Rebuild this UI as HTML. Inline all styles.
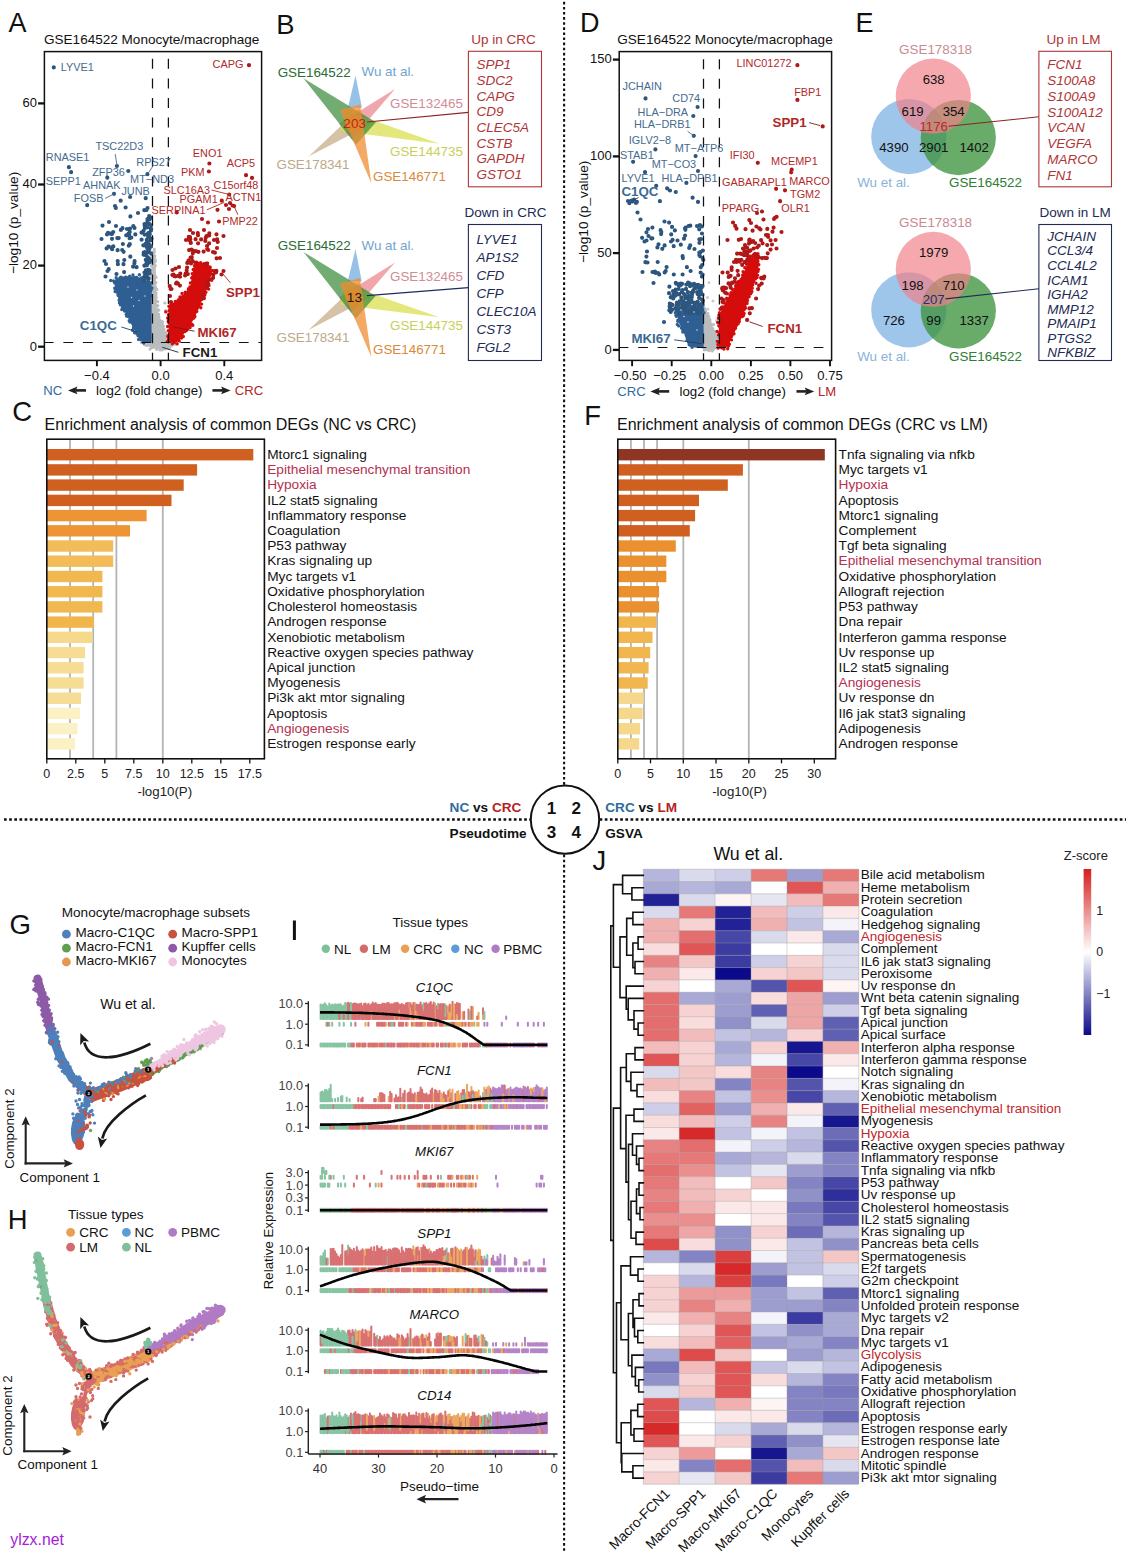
<!DOCTYPE html>
<html><head><meta charset="utf-8"><title>Figure</title>
<style>
html,body{margin:0;padding:0;background:#fff;}
body{width:1130px;height:1555px;overflow:hidden;font-family:"Liberation Sans",sans-serif;}
svg{display:block;font-family:"Liberation Sans",sans-serif;}
</style></head><body>
<svg width="1130" height="1555" viewBox="0 0 1130 1555">
<rect width="1130" height="1555" fill="#ffffff"/>
<text x="8.5" y="31.5" font-size="27" fill="#111">A</text>
<text x="44" y="43.6" font-size="13.55" fill="#111">GSE164522 Monocyte/macrophage</text>
<clipPath id="cA"><rect x="44.4" y="51.6" width="217.2" height="308.8"/></clipPath>
<g clip-path="url(#cA)">
<polygon points="152.2,252 154.5,250 155.8,275 156.3,300 159.6,319.4 164.5,329.3 168.6,342.3 177,342.6 170,347.5 160,349.6 150,347.5 141.5,342.6 151.2,342.3" fill="#b9bdbd"/>
<path d="M152.2 252.2h0M154.3 249.4h0M154.3 251.8h0M154.8 255.9h0M154.5 257.1h0M155.4 260.2h0M155.2 261.8h0M155.3 265.5h0M154.5 267.2h0M154.2 269.1h0M154.4 272.3h0M154.9 275.2h0M156 277.4h0M154.1 279.6h0M155.9 282.6h0M154.9 284.7h0M155.4 286.9h0M156.8 289.4h0M156.1 293.1h0M155.8 294.9h0M156.3 297.5h0M155.4 300.1h0M157.7 301.7h0M157.8 305.6h0M157.3 309.7h0M158.7 310.2h0M158.7 314.3h0M159 317.1h0M159.6 319.9h0M161.8 321.4h0M162.2 324h0M163.4 326h0M164.1 329.2h0M165.9 332.7h0M165.2 333.9h0M167.4 335.7h0M167.5 339.6h0M169.5 342.8h0M171.2 342.1h0M174 343.6h0M176.7 342.4h0M174.9 344.1h0M172.2 345.1h0M170 347.2h0M168.3 348.5h0M165 349h0M162.3 349.8h0M160 350h0M156.6 349.3h0M153.8 347.1h0M152.3 347.4h0M150.1 349.1h0M146.6 345.4h0M144.5 344.6h0M141.4 342.5h0M145.2 342.9h0M147.2 342.3h0M151.2 341.6h0M151.4 339.2h0M151.9 337.4h0M151.3 334.4h0M151.2 330.9h0M150.5 330h0M149.9 327.8h0M150.2 325.3h0M150.8 322.8h0M151.5 318.6h0M152.4 318.2h0M151.5 314.5h0M151.4 311.5h0M152.3 309.3h0M151.6 306.6h0M151.2 303.8h0M152.5 302.1h0M152.3 299.7h0M151.2 296.9h0M151.3 294.6h0M151.5 291.9h0M150.8 289.1h0M153 286.6h0M151.1 284.8h0M152.9 281.1h0M151.7 279.1h0M150.7 277.6h0M151.9 274.6h0M151.5 272.4h0M151.6 269.5h0M151.3 266.2h0M153 264.2h0M152.3 262h0M151.8 259.2h0M152.6 256.8h0M152.1 254.5h0" stroke="#b9bdbd" stroke-width="3.2" stroke-linecap="round" fill="none"/>
<path d="M165.5 310.5h0M164.8 303h0M162.5 322h0" stroke="#b9bdbd" stroke-width="3.2" stroke-linecap="round" fill="none"/>
<polygon points="151.6,342.3 142.5,342.3 133.8,329.3 126.4,314.4 119.5,302 115.6,290.9 114,281 119,277.5 135,276 145,279.5 151.6,283" fill="#2f5f92"/>
<path d="M143.7 343h0M141.6 339.9h0M138.6 339.5h0M139.7 336.6h0M138.1 335.7h0M137.1 333.9h0M134.6 332.7h0M132.6 330.2h0M133.4 328.3h0M133.8 327.1h0M129.9 322h0M130.9 320.8h0M129.2 320.8h0M126.6 316h0M127.6 316.3h0M126.2 314.4h0M124.6 311.1h0M124.3 309.9h0M121.8 309.6h0M122.4 307.7h0M120.5 304.9h0M119.5 302.9h0M119.7 301.2h0M119.1 300.1h0M120 296.2h0M118 295.3h0M116.4 291.7h0M115.1 291.6h0M115.2 289h0M114.7 288.1h0M114.6 282.8h0M113.6 281h0M110.7 280.5h0M117 279.9h0M116.2 277.7h0M120.1 277.7h0M121 277.3h0M123 277.9h0M125.6 277.2h0M126 277.3h0M128.3 277.7h0M129.7 276.2h0M133 274.9h0M136.7 277.5h0M136.5 277.5h0M139.4 274.8h0M141.3 278h0M143.1 277.7h0M144.7 279.3h0M148.4 281h0M149.4 283.4h0M151 282.6h0M149.5 286.6h0M151.9 288h0M151.3 289.2h0M150.6 290.9h0M149.8 293.3h0M151.2 295.8h0M149.3 296.7h0M148.5 301h0M149.3 301.5h0M148.1 302.3h0M148.1 306.4h0M147.4 307.3h0M147.3 309.7h0M145.6 311.4h0M146 314.6h0M145.8 316.3h0M147.8 317.4h0M145.4 320h0M145.6 320.9h0M145.8 325.9h0M144.8 325.7h0M143.7 328.3h0M143.1 328.9h0M145.3 331.2h0M144.8 335.6h0M143.7 336.7h0M145.1 338h0M142.2 338.9h0" stroke="#2f5f92" stroke-width="3.4" stroke-linecap="round" fill="none"/>
<path d="M147.3 223.2h0M144.5 272.7h0M147.1 227.3h0M148.7 232.8h0M147.5 234h0M147.4 257.1h0M147.6 241.5h0M149.7 273.5h0M144.5 224.1h0M144 280.6h0M151 230.5h0M151.2 228.9h0M147.3 248.3h0M150.8 217.7h0M145.7 255.2h0M143.6 230.8h0M147 274h0M149.5 270.5h0M149.5 262.4h0M150.2 260.7h0M149.3 235.2h0M144.4 265.7h0M144.4 276.6h0M148.1 237.1h0M151 225.4h0M147.4 221.1h0M151.2 253.6h0M149.8 233.9h0M149.8 262.1h0M148.5 278.7h0M146.7 242.8h0M148.9 270.9h0M145.8 259.9h0M144.8 252h0M149.5 219.4h0M149.2 216h0M151.1 246.4h0M146.5 263.3h0M147.4 264h0M143.7 252.7h0M147.7 277.5h0M143.3 245.3h0M148.4 251.9h0M143.6 254.7h0M144.9 228.1h0M150.5 228.3h0M146.9 265.3h0M149 252.1h0M149.9 246.2h0M148.3 269.9h0M148.8 258h0M146.5 252.4h0M146.4 264.9h0M146.2 246.3h0M149.4 248.7h0M145.9 270.4h0M146.2 271.6h0M149.7 245h0M149.1 217.3h0M146.3 272.6h0M147.9 252.4h0M148.7 260.4h0M148 243.2h0M144.6 234.6h0M145.5 243.9h0M151.5 238.6h0M146.8 239.9h0M147.9 278.5h0M150.6 240.3h0M145.3 274.3h0M124.3 260h0M108.7 269.2h0M117.6 250.2h0M113.3 246.4h0M136.6 267.2h0M123.5 264.2h0M122.9 244h0M126.2 235.3h0M117.7 261h0M134.5 227.9h0M133.1 266.7h0M122.5 228.2h0M131.3 237.6h0M129.8 244.2h0M129.6 238.2h0M123.6 251.8h0M129.3 235.4h0M141.6 239.7h0M117.3 238.1h0M108.5 246.6h0M134.6 261.2h0M113.2 232h0M117.9 264.2h0M124.1 272.1h0M130.3 256.7h0M134.4 263.3h0M118.7 238.1h0M122.2 250h0M111.2 247.5h0M129.7 231.9h0M111.1 233.9h0M116.5 274h0M107 234.4h0M112.1 249.2h0M106.6 248.4h0M112 238.8h0M135.3 234.4h0M128.8 245.7h0M120.9 229.9h0M108 232.9h0M144.7 225.7h0M102.5 225.6h0M130 228.6h0M110.7 233.7h0M144.3 210.2h0M115.8 207.9h0M141.5 232.6h0M149.5 224.1h0M133.3 226h0M128.5 233.7h0M130.4 216.4h0M125.6 207.5h0M101.5 239h0M104.5 261h0M106 264h0M107.5 271h0M105.5 276.5h0M109 222h0M112 234h0M116 226h0M127 229h0M138 213h0M146.5 210h0M147.5 219h0M53.8 67.4h0M116.9 166h0M68.9 167.2h0M71.1 172.2h0M128.3 171h0M147.4 174.2h0M107.3 177.7h0M130.1 197h0M145.7 198.2h0M114 193.8h0M120.7 200.7h0M87.2 205.2h0M115 206h0M147.5 208h0" stroke="#2d567f" stroke-width="4.2" stroke-linecap="round" fill="none"/>
<path d="M131.5 297.5h0M133.5 306h0M145 296h0M128 287h0M139 300.5h0M137 290h0" stroke="#cfe0ee" stroke-width="1.4" stroke-linecap="round" fill="none"/>
<polygon points="168.6,342.3 168.6,306 177,300 186.7,291.5 192.5,282 193,268 199,262.5 208.5,263.5 212,272.3 208.5,284.7 201.2,302 195,316.9 187.6,329.3 177,342.3" fill="#d40c0c"/>
<path d="M167.3 341.6h0M169 340.7h0M168.7 339.3h0M167.8 336.2h0M169.3 334.8h0M169.7 332.6h0M168.3 330.6h0M167.6 326.5h0M169.2 326.1h0M168.9 322.5h0M168.2 321.5h0M167.7 317.9h0M168.3 319h0M169 315.5h0M168.6 314.8h0M165.8 311.9h0M169.1 310.7h0M170.3 309.2h0M168.9 306.3h0M171.1 304.3h0M171.9 304.5h0M175.6 302.2h0M175.3 301.4h0M178.3 300h0M180.1 297.6h0M180 297h0M182.6 296.8h0M182 293.4h0M185.4 292.3h0M185.2 292.5h0M188.4 290.1h0M188.5 288.7h0M189.9 286.9h0M190.4 283h0M192.7 281.3h0M193.2 280.3h0M191.7 278.1h0M192.4 276.9h0M192.2 273.6h0M194.1 274.2h0M194.9 270.1h0M193.2 269.5h0M194.4 265.6h0M196.1 265.7h0M196.7 262.2h0M197.6 263.2h0M200.6 262.6h0M204 263.6h0M205.8 263.7h0M207.6 263.1h0M208.4 266.8h0M210.2 267.2h0M210.8 269.9h0M212.7 270.7h0M210.4 274h0M213.4 277.4h0M210.1 279.2h0M211.7 280.3h0M208.7 283.8h0M209 285.4h0M207.2 288.5h0M208.6 289.1h0M206.8 288.4h0M205.9 292.2h0M204.9 295h0M203.3 294.5h0M203.2 297.4h0M201.7 299.5h0M200.9 299.7h0M201.6 304.1h0M200.8 307.7h0M198.9 305.8h0M197.2 308.2h0M196.8 311.4h0M194.5 313.5h0M194.3 315.3h0M194.9 316.6h0M193.9 318.1h0M192.3 318.8h0M191.8 324.1h0M192.8 325.3h0M190.4 325.1h0M190.1 327.5h0M187.5 329h0M186.4 330.5h0M184.9 331.5h0M183.3 336.5h0M182.2 335.6h0M181.5 338.1h0M178.5 338.8h0M179.2 340.9h0M177.1 343.9h0M174.2 342.4h0M172.3 343.8h0M168.7 341.6h0" stroke="#d40c0c" stroke-width="3.4" stroke-linecap="round" fill="none"/>
<path d="M191.5 249.5h0M191 263.4h0M170.6 289h0M180 276.7h0M186.7 270.6h0M192.9 250.5h0M188.5 262.1h0M187.8 274.1h0M192.8 253.2h0M179.9 285.6h0M191.7 257.1h0M191.6 258h0M178 283.7h0M180.3 273.6h0M178.3 275.9h0M172.4 275h0M187.1 267.5h0M185.1 275.5h0M174.5 276.2h0M175.7 276.3h0M187.3 262.9h0M176.8 282.6h0M173.5 274.6h0M185.7 273.6h0M176.1 283.4h0M169.8 286.2h0M205.3 240.9h0M198.4 251.9h0M205.7 237.8h0M209.2 235.5h0M217.1 239.3h0M195.6 239.2h0M217.7 241.9h0M206.2 263.7h0M216.5 234.3h0M203.6 251.6h0M209.1 243.4h0M197.8 233.1h0M189.1 250.1h0M190.3 239.3h0M198 235.2h0M188.9 261.7h0M201.1 239.4h0M209.3 233.3h0M195.4 262.8h0M214.9 252.7h0M190.8 242.9h0M188.8 239.8h0M188.8 236.9h0M207 236.1h0M192.7 261h0M198.1 243.3h0M190.6 257.7h0M208.3 250h0M206.5 236.1h0M195.8 251.1h0M216.6 258.3h0M207.2 249.1h0M188.5 260.6h0M190 237h0M212.9 278h0M214.7 271h0M202.5 294.5h0M216 272.4h0M203.9 298.2h0M207.1 286.8h0M209.1 279.8h0M207.9 284.1h0M213.2 274.7h0M216.4 270.9h0M171 302h0M170 296h0M171.5 289h0M172.5 270h0M175.5 268.5h0M179 267h0M176.8 212.5h0M202 219h0M208 222.5h0M219 221.5h0M223.5 236h0M204 230h0M193 233h0M186 240h0M190 230h0M214 240h0M217 248h0M220 258h0M223.5 271h0M221.5 274.5h0M213 252h0M207 246h0M249 65.2h0M209.4 163.5h0M208.9 171.5h0M246 175.2h0M252 177.9h0M229.2 194.5h0M221.8 200.7h0M226 205h0M230 203h0M232.5 205.5h0M234.1 206.1h0M217.5 209.8h0M229 209h0" stroke="#b01818" stroke-width="4.2" stroke-linecap="round" fill="none"/>
</g>
<line x1="152.5" y1="51.6" x2="152.5" y2="360.4" stroke="#111" stroke-width="1.25" stroke-dasharray="10 9.6" stroke-dashoffset="-7.2"/>
<line x1="168.4" y1="51.6" x2="168.4" y2="360.4" stroke="#111" stroke-width="1.25" stroke-dasharray="10 9.6" stroke-dashoffset="-7.2"/>
<line x1="44.4" y1="342.5" x2="261.6" y2="342.5" stroke="#111" stroke-width="1.2" stroke-dasharray="9.7 9.8" stroke-dashoffset="0.5"/>
<rect x="44.4" y="51.6" width="217.2" height="308.8" fill="none" stroke="#111" stroke-width="1.5"/>
<line x1="38.1" y1="346.7" x2="44.4" y2="346.7" stroke="#111" stroke-width="2.3"/>
<text x="37" y="350.5" font-size="13.0" fill="#111" text-anchor="end">0</text>
<line x1="38.1" y1="265.6" x2="44.4" y2="265.6" stroke="#111" stroke-width="2.3"/>
<text x="37" y="269.4" font-size="13.0" fill="#111" text-anchor="end">20</text>
<line x1="38.1" y1="184.5" x2="44.4" y2="184.5" stroke="#111" stroke-width="2.3"/>
<text x="37" y="188.3" font-size="13.0" fill="#111" text-anchor="end">40</text>
<line x1="38.1" y1="103.4" x2="44.4" y2="103.4" stroke="#111" stroke-width="2.3"/>
<text x="37" y="107.2" font-size="13.0" fill="#111" text-anchor="end">60</text>
<line x1="96.9" y1="360.4" x2="96.9" y2="366.2" stroke="#111" stroke-width="1.9"/>
<text x="96.9" y="380" font-size="13.0" fill="#111" text-anchor="middle">−0.4</text>
<line x1="160.6" y1="360.4" x2="160.6" y2="366.2" stroke="#111" stroke-width="1.9"/>
<text x="160.6" y="380" font-size="13.0" fill="#111" text-anchor="middle">0.0</text>
<line x1="224.3" y1="360.4" x2="224.3" y2="366.2" stroke="#111" stroke-width="1.9"/>
<text x="224.3" y="380" font-size="13.0" fill="#111" text-anchor="middle">0.4</text>
<text x="17.9" y="222.9" font-size="13.7" fill="#111" text-anchor="middle" transform="rotate(-90 17.9 222.9)">−log10 (p_value)</text>
<text x="149.3" y="395.3" font-size="13.3" fill="#111" text-anchor="middle">log2 (fold change)</text>
<text x="43.2" y="395.3" font-size="13.1" fill="#2f6b9e">NC</text>
<text x="234.8" y="395.3" font-size="13.1" fill="#b32424">CRC</text>
<line x1="86" y1="390.4" x2="75.4" y2="390.4" stroke="#222" stroke-width="2.6"/>
<polygon points="68,390.4 77.5,386.5 75.7,390.4 77.5,394.3" fill="#222"/>
<line x1="212.4" y1="390.4" x2="223.2" y2="390.4" stroke="#222" stroke-width="2.6"/>
<polygon points="230.6,390.4 221.1,394.3 222.9,390.4 221.1,386.5" fill="#222"/>
<text x="60.7" y="71.4" font-size="10.9" fill="#456b8e">LYVE1</text>
<text x="95.4" y="149.9" font-size="10.9" fill="#456b8e">TSC22D3</text>
<text x="45.8" y="161" font-size="10.9" fill="#456b8e">RNASE1</text>
<text x="45.8" y="185.3" font-size="10.9" fill="#456b8e">SEPP1</text>
<text x="92.2" y="175.9" font-size="10.9" fill="#456b8e">ZFP36</text>
<text x="136.3" y="165.5" font-size="10.9" fill="#456b8e">RPS27</text>
<text x="130.1" y="182.6" font-size="10.9" fill="#456b8e">MT−ND3</text>
<text x="83" y="188.8" font-size="10.9" fill="#456b8e">AHNAK</text>
<text x="121.4" y="194.5" font-size="10.9" fill="#456b8e">JUNB</text>
<text x="73.8" y="201.9" font-size="10.9" fill="#456b8e">FOSB</text>
<text x="212.6" y="68.1" font-size="10.9" fill="#b12a2a">CAPG</text>
<text x="192.8" y="156.6" font-size="10.9" fill="#b12a2a">ENO1</text>
<text x="180.9" y="176.4" font-size="10.9" fill="#b12a2a">PKM</text>
<text x="226.7" y="167.2" font-size="10.9" fill="#b12a2a">ACP5</text>
<text x="213.6" y="188.8" font-size="10.9" fill="#b12a2a">C15orf48</text>
<text x="163.5" y="193.8" font-size="10.9" fill="#b12a2a">SLC16A3</text>
<text x="179.6" y="203.2" font-size="10.9" fill="#b12a2a">PGAM1</text>
<text x="225.5" y="201.2" font-size="10.9" fill="#b12a2a">ACTN1</text>
<text x="151.6" y="214.3" font-size="10.9" fill="#b12a2a">SERPINA1</text>
<text x="222.2" y="224.7" font-size="10.9" fill="#b12a2a">PMP22</text>
<line x1="115.2" y1="154.1" x2="116.9" y2="164.8" stroke="#456b8e" stroke-width="0.9"/>
<line x1="153" y1="166" x2="147.4" y2="174.2" stroke="#456b8e" stroke-width="0.9"/>
<line x1="105" y1="198.5" x2="114" y2="193.8" stroke="#456b8e" stroke-width="0.9"/>
<line x1="211.5" y1="190" x2="229.2" y2="194.5" stroke="#b12a2a" stroke-width="0.9"/>
<line x1="206.9" y1="209.8" x2="224.2" y2="202.4" stroke="#b12a2a" stroke-width="0.9"/>
<line x1="237.9" y1="214.8" x2="234.1" y2="206.1" stroke="#b12a2a" stroke-width="0.9"/>
<line x1="230.4" y1="282.9" x2="222.2" y2="273" stroke="#b12a2a" stroke-width="0.9"/>
<line x1="194.5" y1="331.2" x2="173.4" y2="327" stroke="#7a1515" stroke-width="0.9"/>
<line x1="121.4" y1="327" x2="137.5" y2="332" stroke="#1d3f63" stroke-width="0.9"/>
<line x1="178.4" y1="352.3" x2="162.3" y2="347.3" stroke="#222" stroke-width="0.9"/>
<text x="226" y="297" font-size="13.3" fill="#b22626" font-weight="bold">SPP1</text>
<text x="197.5" y="337.4" font-size="13.3" fill="#b22626" font-weight="bold">MKI67</text>
<text x="79.8" y="330" font-size="13.3" fill="#3a6a95" font-weight="bold">C1QC</text>
<text x="182.6" y="356.7" font-size="13.3" fill="#1a1a1a" font-weight="bold">FCN1</text>
<text x="276.3" y="33.6" font-size="27.4" fill="#111">B</text>
<polygon points="308.5,156.5 359,108.9 370,124.4" fill="#c8ae88" opacity="0.75"/>
<polygon points="355.5,75.5 362,107.7 348,107.5" fill="#74aee0" opacity="0.75"/>
<polygon points="395,89 352.1,139 339.1,123.8" fill="#ea8088" opacity="0.7"/>
<polygon points="439.4,143.7 340.6,131 345.4,110.6" fill="#dbe050" opacity="0.75"/>
<polygon points="303.4,78.3 375.9,122.3 356,144.8" fill="#3c8c3c" opacity="0.72"/>
<polygon points="371.4,183.5 340,110 360.2,104.4" fill="#f08c32" opacity="0.75"/>
<circle cx="354.7" cy="123.6" r="9" fill="#e8842a" opacity="0.45"/>
<line x1="367.2" y1="122" x2="468.4" y2="112.4" stroke="#8c2323" stroke-width="1.1"/>
<text x="354.7" y="128.4" font-size="13.6" fill="#c8201c" text-anchor="middle">203</text>
<text x="277.7" y="76.5" font-size="13.4" fill="#2b6b35">GSE164522</text>
<text x="361.5" y="76.3" font-size="13.4" fill="#6fa5cf">Wu at al.</text>
<text x="390" y="107.5" font-size="13.4" fill="#cf8d96">GSE132465</text>
<text x="390" y="156" font-size="13.4" fill="#c9cf5a">GSE144735</text>
<text x="276.5" y="168.5" font-size="13.4" fill="#bba98a">GSE178341</text>
<text x="373" y="180.5" font-size="13.4" fill="#d98a3c">GSE146771</text>
<rect x="468.4" y="51.3" width="73.1" height="135.5" fill="none" stroke="#b03535" stroke-width="1.1"/>
<text x="503.5" y="43.6" font-size="13.5" fill="#b03535" text-anchor="middle">Up in CRC</text>
<text x="476.6" y="69.4" font-size="13.5" fill="#b03535" font-style="italic">SPP1</text>
<text x="476.6" y="85.1" font-size="13.5" fill="#b03535" font-style="italic">SDC2</text>
<text x="476.6" y="100.7" font-size="13.5" fill="#b03535" font-style="italic">CAPG</text>
<text x="476.6" y="116.4" font-size="13.5" fill="#b03535" font-style="italic">CD9</text>
<text x="476.6" y="132" font-size="13.5" fill="#b03535" font-style="italic">CLEC5A</text>
<text x="476.6" y="147.7" font-size="13.5" fill="#b03535" font-style="italic">CSTB</text>
<text x="476.6" y="163.3" font-size="13.5" fill="#b03535" font-style="italic">GAPDH</text>
<text x="476.6" y="178.9" font-size="13.5" fill="#b03535" font-style="italic">GSTO1</text>
<polygon points="308.5,330.1 358.6,282.5 369.7,297.9" fill="#c8ae88" opacity="0.75"/>
<polygon points="355.5,249.1 361.8,281.4 347.8,281" fill="#74aee0" opacity="0.75"/>
<polygon points="395,262.6 351.8,312.6 338.8,297.4" fill="#ea8088" opacity="0.7"/>
<polygon points="439.4,317.3 340.3,304.7 345.1,284.2" fill="#dbe050" opacity="0.75"/>
<polygon points="303.4,251.9 375.6,295.9 355.7,318.4" fill="#3c8c3c" opacity="0.72"/>
<polygon points="371.4,357.1 339.7,283.7 359.9,278" fill="#f08c32" opacity="0.75"/>
<circle cx="354.4" cy="297.2" r="9" fill="#e8842a" opacity="0.45"/>
<line x1="366.9" y1="295.6" x2="468.4" y2="287.6" stroke="#1d2a5e" stroke-width="1.1"/>
<text x="354.4" y="302" font-size="13.6" fill="#1a1a1a" text-anchor="middle">13</text>
<text x="277.7" y="250.1" font-size="13.4" fill="#2b6b35">GSE164522</text>
<text x="361.5" y="249.9" font-size="13.4" fill="#6fa5cf">Wu at al.</text>
<text x="390" y="281.1" font-size="13.4" fill="#cf8d96">GSE132465</text>
<text x="390" y="329.6" font-size="13.4" fill="#c9cf5a">GSE144735</text>
<text x="276.5" y="342.1" font-size="13.4" fill="#bba98a">GSE178341</text>
<text x="373" y="354.1" font-size="13.4" fill="#d98a3c">GSE146771</text>
<rect x="468.4" y="224.5" width="73.1" height="136" fill="none" stroke="#222a55" stroke-width="1.1"/>
<text x="505.5" y="216.8" font-size="13.5" fill="#222a55" text-anchor="middle">Down in CRC</text>
<text x="476.6" y="243.9" font-size="13.5" fill="#222a55" font-style="italic">LYVE1</text>
<text x="476.6" y="262" font-size="13.5" fill="#222a55" font-style="italic">AP1S2</text>
<text x="476.6" y="280" font-size="13.5" fill="#222a55" font-style="italic">CFD</text>
<text x="476.6" y="298.1" font-size="13.5" fill="#222a55" font-style="italic">CFP</text>
<text x="476.6" y="316.2" font-size="13.5" fill="#222a55" font-style="italic">CLEC10A</text>
<text x="476.6" y="334.2" font-size="13.5" fill="#222a55" font-style="italic">CST3</text>
<text x="476.6" y="352.3" font-size="13.5" fill="#222a55" font-style="italic">FGL2</text>
<text x="580" y="32" font-size="27" fill="#111">D</text>
<text x="617.3" y="43.6" font-size="13.55" fill="#111">GSE164522 Monocyte/macrophage</text>
<clipPath id="cD"><rect x="619.2" y="51.6" width="212.4" height="308.8"/></clipPath>
<g clip-path="url(#cD)">
<polygon points="703.9,347.6 703.9,306.5 709.6,318 715.3,333.2 719,347.6 712,350.5 704,349.5" fill="#b9bdbd"/>
<path d="M703.5 347.8h0M704.3 345.1h0M704.2 342.1h0M702.6 340.4h0M704.3 337.4h0M703.9 335.4h0M703.6 331.8h0M703.8 330.3h0M703.1 327.8h0M703.5 323.8h0M704.7 321.9h0M703.1 319.1h0M704.5 317.5h0M703.6 314.5h0M704.3 311.3h0M704.1 309h0M703.6 306.2h0M705.1 308.8h0M705.8 310.8h0M708 313.5h0M709 316.4h0M710 319.4h0M710.1 321h0M711.3 324.2h0M713.5 324.4h0M712.8 328.5h0M714.8 331.1h0M715.3 333.5h0M716.4 336h0M717.4 337.6h0M717.9 341.2h0M718.8 344.6h0M718.5 347.8h0M716.1 348h0M713.4 349.5h0M712.3 351.1h0M709.2 350.8h0M706.7 349.8h0M704.3 350.1h0" stroke="#b9bdbd" stroke-width="3.0" stroke-linecap="round" fill="none"/>
<path d="M707.5 297.5h0M708 309h0M716.5 320.5h0M713 301h0M709 282.5h0" stroke="#c9cccc" stroke-width="3.0" stroke-linecap="round" fill="none"/>
<polygon points="703.6,347.4 692.3,347.4 684.5,334.5 678.5,322 676.5,312 680,306.5 689,303 697,305 703.6,310" fill="#2f5f92"/>
<path d="M692 347.2h0M691 345.6h0M689.2 344.7h0M688.6 342.3h0M687 340.4h0M687.1 337.8h0M687.6 336.7h0M686.3 335.5h0M682.8 332h0M682.9 330.4h0M681.5 328h0M678.7 325.9h0M677.3 324.5h0M677.8 321.3h0M677.9 320.3h0M676.3 316.3h0M676.2 314h0M675.9 315.6h0M675.4 312.7h0M676.3 310.5h0M678.5 308.3h0M680.6 308.3h0M682.4 305.7h0M683.5 305.3h0M686.5 304.7h0M689 304.7h0M689 303.2h0M693.9 303.6h0M694.2 304.2h0M695.6 305.1h0M701.1 307.4h0M699.2 306.6h0M701.5 309.8h0M702.8 309.3h0M703.9 312.8h0M702 312.8h0M700.3 315.2h0M699 318.6h0M700 320.3h0M701.9 323h0M698.3 324.6h0M700 325h0M697.3 327.6h0M696.1 331.2h0M694.7 330.5h0M696.2 333.4h0M696 335.9h0M695.1 338.7h0M692.5 339.5h0M693.4 341.6h0M693.7 342.6h0M692.3 346.2h0" stroke="#2f5f92" stroke-width="3.4" stroke-linecap="round" fill="none"/>
<path d="M698.1 284.8h0M689.1 313.5h0M684.6 306.5h0M672.3 309.8h0M688.8 310.4h0M695.8 309.9h0M670.9 304.4h0M675.7 289.6h0M680 300.6h0M690.3 311.8h0M669.4 286.7h0M681.3 308.1h0M687.7 298.4h0M694.8 303.2h0M678.9 284h0M684.7 310.1h0M689.3 283.8h0M684 294.1h0M688.8 300.8h0M701.3 293.7h0M682.9 301.4h0M699.1 304.9h0M685 308h0M685.5 312.8h0M678.6 285.3h0M697.2 292.2h0M697.8 301.9h0M686.3 284.6h0M695.7 284.8h0M701.8 310.2h0M679.3 285.3h0M699.1 297.9h0M673.2 297.2h0M677.4 294.4h0M690.8 311.3h0M696.2 287.8h0M685.2 297.6h0M702.6 286.1h0M686.4 311.2h0M682.6 290h0M687.9 292.2h0M700.5 285.9h0M676 283.6h0M693.2 291.7h0M699.6 310.7h0M700.8 291.2h0M669 293.2h0M701.7 306.8h0M671 304h0M700.2 313h0M693.3 309.7h0M697.6 294.1h0M672.4 304.9h0M673.7 293.4h0M702.9 300.6h0M686.7 312.3h0M678.7 314h0M700 294.4h0M680.1 285.4h0M700.1 288.9h0M669.3 310.3h0M689.3 303.5h0M693.9 283.9h0M672.1 297.2h0M670.7 297.3h0M694 303.2h0M690 283.7h0M677 310.6h0M673.2 298.4h0M670.7 311.9h0M674.8 294.3h0M687.6 305h0M700.9 305.9h0M680.8 283.7h0M693.1 313.1h0M669.6 306.4h0M675 296h0M686.8 301.6h0M702.6 304.5h0M682.3 304.7h0M684.9 295h0M681.4 297.5h0M678.6 289h0M674 295.3h0M679 308.6h0M697.8 293.6h0M690.1 310.9h0M681.2 299.4h0M684.1 302.7h0M701.6 287.6h0M701.8 303.8h0M696.1 302.6h0M698.6 293.2h0M693.1 290.8h0M686.3 303.8h0M675.8 282.8h0M695.9 308h0M691.6 292.5h0M691.4 285h0M691.5 300.6h0M690 296.4h0M676.7 304.9h0M684.8 305.8h0M681.4 284.2h0M687.4 301.9h0M700.3 310.5h0M670.9 306.3h0M677.9 304h0M681.9 291.9h0M685.6 298.9h0M692.6 302.6h0M692.1 294.5h0M692 293.3h0M689.7 296.8h0M688.1 282.6h0M686 288.9h0M682.1 283.8h0M691.3 310.6h0M681.1 284.7h0M690.1 286.2h0M699.3 286.9h0M681.3 297.5h0M673 291.2h0M678.4 304.5h0M702.5 294.5h0M695.9 287.2h0M688.7 295.9h0M678.8 308.1h0M694.4 286.8h0M678.9 308.1h0M702.7 302.1h0M698.6 313.5h0M694.2 302.9h0M676.5 293.1h0M690.2 311.7h0M679.3 294.1h0M669.8 303.7h0M684.1 307.4h0M676.9 302.7h0M691.9 297.1h0M675.4 294.1h0M694.3 288.6h0M672.1 296h0M677 307.4h0M696.8 312.3h0M697.6 303.1h0M675.4 308.1h0M693.8 306h0M692.7 308.6h0M679.1 303.2h0M672.6 239.9h0M660.6 230.2h0M671 241.5h0M666.6 267.1h0M682.9 258.1h0M702 233.5h0M672 226.9h0M664.7 272.4h0M645.4 262.2h0M694.5 249h0M690.2 245.4h0M662.3 248.8h0M652.3 238.3h0M659.2 274.4h0M661.1 234.1h0M699.2 229.3h0M700.8 267.2h0M680.8 244.7h0M652.4 227.6h0M646.5 240.5h0M665.7 271h0M673.8 274.5h0M685.4 229.8h0M674.9 230.4h0M642.5 272h0M661.3 232h0M646.4 256.6h0M669.1 222.6h0M685.1 235.6h0M689.2 247.9h0M673.7 246.2h0M682.6 274.5h0M690.3 225.7h0M671.2 234.4h0M646.5 232.3h0M655.6 272.9h0M686.9 267.2h0M684 238.7h0M664.6 245.4h0M658.5 244.3h0M688.6 226h0M657.4 247.4h0M682.6 256.2h0M685.7 227.6h0M651.4 238.4h0M657.7 262h0M702.6 258.2h0M642.1 237.8h0M690.6 271h0M677.5 240.5h0M700.6 272.5h0M702.9 250.6h0M699.9 225.2h0M699.6 288.8h0M701.8 299.3h0M699.3 252.5h0M702.6 274.6h0M699.3 255.1h0M701.9 276.6h0M701 239.1h0M703.3 260h0M702.2 265.1h0M699.4 242.8h0M699.3 239.3h0M699.9 256.1h0M700.4 252.2h0M664 322h0M669.5 310h0M653.5 283h0M652.5 272h0M655 271.5h0M658 273h0M647.5 262.5h0M644.5 241.5h0M647 251.5h0M648.5 236h0M640.5 219.5h0M637.5 212.5h0M664.5 221.5h0M628 201h0M632.5 201.5h0M636 203h0M648 229h0M685 228.5h0M697 226h0M702 226.5h0M645.5 98.4h0M697.6 107h0M693.3 116h0M693.8 135.8h0M655.4 149.4h0M695.6 156.1h0M633.1 161.8h0M698 171h0M645 172.2h0M686.4 182.9h0M629.4 203.2h0M631.5 200.5h0M634 199.5h0M656.2 185.8h0M667.1 188.3h0M670 190.5h0M675.8 192h0M659.9 201.2h0M692.6 197.7h0M698 201.9h0M636.9 201.9h0" stroke="#2d567f" stroke-width="4.2" stroke-linecap="round" fill="none"/>
<path d="M681 310h0M688 322h0M694 312h0M686 300.5h0M679 299h0M697 330h0M692 304.5h0M684 316.5h0" stroke="#dbe6f0" stroke-width="1.5" stroke-linecap="round" fill="none"/>
<polygon points="718.9,347.6 718.9,316 726.5,300 738,283 747,266 752.5,255 759,256.5 758,272.3 751,291.3 743.5,314.2 734,333.2 726.5,347.6" fill="#d40c0c"/>
<path d="M718.2 348h0M718 344.8h0M718.3 343.2h0M719 341.7h0M717.4 341.2h0M720.1 337.8h0M718.5 334.9h0M719.5 333.3h0M717.2 331.5h0M721.9 326.7h0M719.9 326.9h0M718.8 325.8h0M717.7 322.5h0M720.4 320h0M718.5 318.2h0M718.4 317.6h0M718.9 314.9h0M719.5 312.7h0M721.6 307.3h0M722.7 306.9h0M723.2 307.6h0M723.5 302.9h0M727 302.1h0M728.1 300.3h0M726.7 298.2h0M730.1 297.6h0M730 295h0M731 292.6h0M734.2 291.5h0M732.2 289.3h0M735.3 288.8h0M735.6 285.7h0M736.9 283h0M736.7 283.8h0M738.5 281.5h0M741.3 279.9h0M741 279.5h0M742.7 275.1h0M743.8 274h0M743.1 271.7h0M744.8 267.8h0M745.8 267.6h0M746.5 264.3h0M747.6 264.1h0M748.9 261.2h0M750.4 259.3h0M750.4 260h0M750.9 256.3h0M753.6 254.6h0M754.4 255.7h0M757.9 253.7h0M758.1 255.5h0M757.7 257.9h0M757.9 261.3h0M757.7 263.4h0M758.8 264.8h0M758.4 269.5h0M758.5 269.4h0M757.9 271.4h0M757.6 275.1h0M755.8 275.9h0M757 277.5h0M755.4 278.9h0M753.7 281.3h0M756 283.3h0M752.6 285h0M752.2 288.2h0M751.9 291.5h0M751.2 292.7h0M750.7 293.8h0M748.3 295h0M749.1 296.8h0M746.3 299.8h0M747.5 300.4h0M747 302.5h0M747 303.4h0M745.1 306.9h0M745.5 308.1h0M744.2 309.5h0M744.1 313.5h0M742.4 315.7h0M743.4 315.6h0M742.4 316.5h0M738.9 318.6h0M739.3 321.5h0M738.2 323.8h0M735.7 326.1h0M735.4 326.8h0M735.5 328.2h0M733.6 330.3h0M734 333.8h0M733.6 334h0M731.3 335.9h0M731.6 336.6h0M731.5 339.9h0M728.5 342.5h0M729.4 344.3h0M728.5 345.9h0M727.7 348.8h0M723.9 349h0M721.6 347.7h0" stroke="#d40c0c" stroke-width="3.4" stroke-linecap="round" fill="none"/>
<path d="M748.5 256.9h0M745.2 247.7h0M722.9 290.4h0M723.8 300.1h0M722.2 288.8h0M727.7 272.6h0M736 259.9h0M747.2 254.3h0M732.4 282.9h0M744.3 251.3h0M745.7 262.1h0M739.4 260.2h0M747.2 259.9h0M731.7 267.4h0M746.3 255.3h0M728.5 283.4h0M730.6 287.6h0M731.6 270h0M723.2 287.5h0M749.7 239.7h0M734.8 281.6h0M722.2 288.2h0M745 245h0M748 256.2h0M726 288.2h0M737.6 270.8h0M730.6 275.8h0M728.7 277h0M726.9 293.5h0M746.8 247.7h0M741.4 259.8h0M729.9 276.3h0M749 243.6h0M738.2 275.2h0M730.3 285.6h0M725.2 292.7h0M744.6 262h0M749.3 251.2h0M749.4 241.6h0M736.6 261.9h0M724.3 287.7h0M742.2 264.9h0M722.5 301.9h0M728.9 276.7h0M745.3 262h0M742.6 254.3h0M735 278.3h0M732 282.7h0M743.9 255.1h0M747.1 247.8h0M767.2 245.1h0M749.2 240h0M761.1 240.2h0M739.8 261.6h0M776.6 216.8h0M775.6 240h0M740.4 253.6h0M753.6 248.5h0M770.6 240.3h0M737.1 253.7h0M764.8 257.8h0M746.6 251.9h0M772.5 231.7h0M752.6 230.7h0M735.2 225.9h0M749.3 220.1h0M767.9 235.1h0M759.4 228.4h0M750.5 250.4h0M755.2 243h0M753.2 241.2h0M773.6 227.6h0M757.3 247.3h0M738.7 260.2h0M756.4 226.5h0M767.7 253.3h0M762.1 258.1h0M738.8 239.8h0M766.9 258.1h0M762.6 243.3h0M751.7 241.9h0M758.9 257.5h0M770.6 249.6h0M774.7 218.1h0M768.1 236.8h0M767.3 228.9h0M755.1 253.8h0M736.5 228.7h0M756 255h0M746.6 253.7h0M745.5 229.2h0M758.8 245.7h0M763.7 278.3h0M751.8 308.1h0M759.1 285.5h0M761.7 283.6h0M756.1 298.5h0M749.4 308.4h0M761.5 278.3h0M758.1 289.1h0M749.8 313.3h0M761.1 277.8h0M751.9 308.2h0M764.3 276.6h0M722.5 272.5h0M721.5 298.5h0M720.5 309h0M721 320h0M734 262h0M727.5 240h0M733 222.5h0M741 239h0M743 248.5h0M751 223h0M763.5 219.5h0M774 219h0M781.5 232h0M776.5 248.5h0M772 244.5h0M766 235h0M760.5 229.5h0M757 213h0M762 211.5h0M797.4 65.2h0M797.4 99.9h0M822.7 126.4h0M757.8 162.8h0M791.7 169.7h0M791.2 172.3h0M776.1 188.8h0M785 190.3h0M780.1 201.2h0M747.1 319.9h0" stroke="#b01818" stroke-width="4.2" stroke-linecap="round" fill="none"/>
</g>
<line x1="703.5" y1="51.6" x2="703.5" y2="360.4" stroke="#111" stroke-width="1.25" stroke-dasharray="10 9.6" stroke-dashoffset="-7.6"/>
<line x1="719.4" y1="51.6" x2="719.4" y2="360.4" stroke="#111" stroke-width="1.25" stroke-dasharray="10 9.6" stroke-dashoffset="-7.6"/>
<line x1="619.2" y1="347.5" x2="831.6" y2="347.5" stroke="#111" stroke-width="1.2" stroke-dasharray="9.7 9.8" stroke-dashoffset="0.5"/>
<rect x="619.2" y="51.6" width="212.4" height="308.8" fill="none" stroke="#111" stroke-width="1.5"/>
<line x1="612.9" y1="349.9" x2="619.2" y2="349.9" stroke="#111" stroke-width="2.3"/>
<text x="611.8" y="353.7" font-size="13.0" fill="#111" text-anchor="end">0</text>
<line x1="612.9" y1="253.1" x2="619.2" y2="253.1" stroke="#111" stroke-width="2.3"/>
<text x="611.8" y="256.9" font-size="13.0" fill="#111" text-anchor="end">50</text>
<line x1="612.9" y1="156.4" x2="619.2" y2="156.4" stroke="#111" stroke-width="2.3"/>
<text x="611.8" y="160.2" font-size="13.0" fill="#111" text-anchor="end">100</text>
<line x1="612.9" y1="59.6" x2="619.2" y2="59.6" stroke="#111" stroke-width="2.3"/>
<text x="611.8" y="63.4" font-size="13.0" fill="#111" text-anchor="end">150</text>
<line x1="632.1" y1="360.4" x2="632.1" y2="366.2" stroke="#111" stroke-width="1.9"/>
<text x="630.1" y="380" font-size="13.0" fill="#111" text-anchor="middle">−0.50</text>
<line x1="671.7" y1="360.4" x2="671.7" y2="366.2" stroke="#111" stroke-width="1.9"/>
<text x="669.7" y="380" font-size="13.0" fill="#111" text-anchor="middle">−0.25</text>
<line x1="711.3" y1="360.4" x2="711.3" y2="366.2" stroke="#111" stroke-width="1.9"/>
<text x="711.3" y="380" font-size="13.0" fill="#111" text-anchor="middle">0.00</text>
<line x1="750.9" y1="360.4" x2="750.9" y2="366.2" stroke="#111" stroke-width="1.9"/>
<text x="750.9" y="380" font-size="13.0" fill="#111" text-anchor="middle">0.25</text>
<line x1="790.4" y1="360.4" x2="790.4" y2="366.2" stroke="#111" stroke-width="1.9"/>
<text x="790.4" y="380" font-size="13.0" fill="#111" text-anchor="middle">0.50</text>
<line x1="830" y1="360.4" x2="830" y2="366.2" stroke="#111" stroke-width="1.9"/>
<text x="830" y="380" font-size="13.0" fill="#111" text-anchor="middle">0.75</text>
<text x="587.9" y="211.8" font-size="13.7" fill="#111" text-anchor="middle" transform="rotate(-90 587.9 211.8)">−log10 (p_value)</text>
<text x="732.7" y="396.2" font-size="13.3" fill="#111" text-anchor="middle">log2 (fold change)</text>
<text x="617.3" y="396.2" font-size="13.1" fill="#2f6b9e">CRC</text>
<text x="818" y="396.2" font-size="13.1" fill="#b32424">LM</text>
<line x1="669.2" y1="391.4" x2="657.8" y2="391.4" stroke="#222" stroke-width="2.6"/>
<polygon points="650.4,391.4 659.9,387.5 658.1,391.4 659.9,395.3" fill="#222"/>
<line x1="796.5" y1="391.4" x2="806.8" y2="391.4" stroke="#222" stroke-width="2.6"/>
<polygon points="814.2,391.4 804.7,395.3 806.5,391.4 804.7,387.5" fill="#222"/>
<text x="622.5" y="90.4" font-size="10.9" fill="#456b8e">JCHAIN</text>
<text x="672.3" y="101.6" font-size="10.9" fill="#456b8e">CD74</text>
<text x="637.6" y="116" font-size="10.9" fill="#456b8e">HLA−DRA</text>
<text x="633.9" y="127.6" font-size="10.9" fill="#456b8e">HLA−DRB1</text>
<text x="628.7" y="144.4" font-size="10.9" fill="#456b8e">IGLV2−8</text>
<text x="674.8" y="152.4" font-size="10.9" fill="#456b8e">MT−ATP6</text>
<text x="620" y="158.6" font-size="10.9" fill="#456b8e">STAB1</text>
<text x="651.7" y="168" font-size="10.9" fill="#456b8e">MT−CO3</text>
<text x="621.5" y="182.1" font-size="10.9" fill="#456b8e">LYVE1</text>
<text x="661.6" y="181.6" font-size="10.9" fill="#456b8e">HLA−DPB1</text>
<text x="736.5" y="67.4" font-size="10.9" fill="#b12a2a">LINC01272</text>
<text x="794.2" y="96.1" font-size="10.9" fill="#b12a2a">FBP1</text>
<text x="729.8" y="158.6" font-size="10.9" fill="#b12a2a">IFI30</text>
<text x="771.1" y="164.8" font-size="10.9" fill="#b12a2a">MCEMP1</text>
<text x="722" y="186.3" font-size="10.9" fill="#b12a2a">GABARAPL1</text>
<text x="789.2" y="184.6" font-size="10.9" fill="#b12a2a">MARCO</text>
<text x="790" y="198.2" font-size="10.9" fill="#b12a2a">TGM2</text>
<text x="781.3" y="212.3" font-size="10.9" fill="#b12a2a">OLR1</text>
<text x="721.8" y="212.3" font-size="10.9" fill="#b12a2a">PPARG</text>
<line x1="687.6" y1="131.3" x2="693.8" y2="135.8" stroke="#456b8e" stroke-width="0.9"/>
<line x1="809" y1="122.6" x2="820.2" y2="125.6" stroke="#8a1c1c" stroke-width="0.9"/>
<line x1="762.7" y1="326.5" x2="749.4" y2="321.8" stroke="#7a1515" stroke-width="0.9"/>
<line x1="674.2" y1="339.8" x2="701.8" y2="343.6" stroke="#1d3f63" stroke-width="0.9"/>
<line x1="633" y1="200.5" x2="638.5" y2="197.5" stroke="#1d3f63" stroke-width="0.9"/>
<text x="772.6" y="126.6" font-size="13.3" fill="#b22626" font-weight="bold">SPP1</text>
<text x="767.5" y="333.4" font-size="13.3" fill="#b22626" font-weight="bold">FCN1</text>
<text x="621.5" y="196.2" font-size="13.3" fill="#3a6a95" font-weight="bold">C1QC</text>
<text x="631.4" y="342.9" font-size="13.3" fill="#3a6a95" font-weight="bold">MKI67</text>
<text x="855.5" y="32" font-size="27" fill="#111">E</text>
<circle cx="908.8" cy="136.6" r="37.6" fill="#78aee2" opacity="0.72"/>
<circle cx="958.3" cy="137.6" r="37.6" fill="#3c923c" opacity="0.77"/>
<circle cx="933.3" cy="96.2" r="37.6" fill="#f08088" opacity="0.68"/>
<text x="933.7" y="84.2" font-size="13.2" fill="#111" text-anchor="middle">638</text>
<text x="912.6" y="116.3" font-size="13.2" fill="#111" text-anchor="middle">619</text>
<text x="953.7" y="116.3" font-size="13.2" fill="#111" text-anchor="middle">354</text>
<text x="933.7" y="131.2" font-size="13.2" fill="#c2262e" text-anchor="middle">1176</text>
<text x="893.9" y="151.5" font-size="13.2" fill="#111" text-anchor="middle">4390</text>
<text x="933.7" y="151.5" font-size="13.2" fill="#111" text-anchor="middle">2901</text>
<text x="974.2" y="151.5" font-size="13.2" fill="#111" text-anchor="middle">1402</text>
<line x1="948.5" y1="126.3" x2="1038.9" y2="116.8" stroke="#8c2323" stroke-width="1.1"/>
<text x="935.6" y="53.9" font-size="13.4" fill="#c98a94" text-anchor="middle">GSE178318</text>
<text x="857.2" y="187.3" font-size="13.4" fill="#86b3da">Wu et al.</text>
<text x="949" y="187.3" font-size="13.4" fill="#2d7d33">GSE164522</text>
<rect x="1038.9" y="51.3" width="72.6" height="135.5" fill="none" stroke="#b03535" stroke-width="1.1"/>
<text x="1073.5" y="43.6" font-size="13.5" fill="#b03535" text-anchor="middle">Up in LM</text>
<text x="1047.3" y="69.4" font-size="13.5" fill="#b03535" font-style="italic">FCN1</text>
<text x="1047.3" y="85.2" font-size="13.5" fill="#b03535" font-style="italic">S100A8</text>
<text x="1047.3" y="100.9" font-size="13.5" fill="#b03535" font-style="italic">S100A9</text>
<text x="1047.3" y="116.7" font-size="13.5" fill="#b03535" font-style="italic">S100A12</text>
<text x="1047.3" y="132.4" font-size="13.5" fill="#b03535" font-style="italic">VCAN</text>
<text x="1047.3" y="148.2" font-size="13.5" fill="#b03535" font-style="italic">VEGFA</text>
<text x="1047.3" y="163.9" font-size="13.5" fill="#b03535" font-style="italic">MARCO</text>
<text x="1047.3" y="179.7" font-size="13.5" fill="#b03535" font-style="italic">FN1</text>
<circle cx="908.8" cy="309.8" r="37.6" fill="#78aee2" opacity="0.72"/>
<circle cx="958.3" cy="310.8" r="37.6" fill="#3c923c" opacity="0.77"/>
<circle cx="933.3" cy="269.4" r="37.6" fill="#f08088" opacity="0.68"/>
<text x="933.7" y="257.4" font-size="13.2" fill="#111" text-anchor="middle">1979</text>
<text x="912.6" y="289.5" font-size="13.2" fill="#111" text-anchor="middle">198</text>
<text x="953.7" y="289.5" font-size="13.2" fill="#111" text-anchor="middle">710</text>
<text x="933.7" y="304.4" font-size="13.2" fill="#2a2a7a" text-anchor="middle">207</text>
<text x="893.9" y="324.7" font-size="13.2" fill="#111" text-anchor="middle">726</text>
<text x="933.7" y="324.7" font-size="13.2" fill="#111" text-anchor="middle">99</text>
<text x="974.2" y="324.7" font-size="13.2" fill="#111" text-anchor="middle">1337</text>
<line x1="945.5" y1="298.9" x2="1038.9" y2="288.7" stroke="#222a55" stroke-width="1.1"/>
<text x="935.6" y="227.1" font-size="13.4" fill="#c98a94" text-anchor="middle">GSE178318</text>
<text x="857.2" y="360.5" font-size="13.4" fill="#86b3da">Wu et al.</text>
<text x="949" y="360.5" font-size="13.4" fill="#2d7d33">GSE164522</text>
<rect x="1038.9" y="224.5" width="72.6" height="136" fill="none" stroke="#222a55" stroke-width="1.1"/>
<text x="1075.2" y="216.8" font-size="13.5" fill="#222a55" text-anchor="middle">Down in LM</text>
<text x="1047.3" y="240.8" font-size="13.5" fill="#222a55" font-style="italic">JCHAIN</text>
<text x="1047.3" y="255.4" font-size="13.5" fill="#222a55" font-style="italic">CCL3/4</text>
<text x="1047.3" y="270" font-size="13.5" fill="#222a55" font-style="italic">CCL4L2</text>
<text x="1047.3" y="284.5" font-size="13.5" fill="#222a55" font-style="italic">ICAM1</text>
<text x="1047.3" y="299.1" font-size="13.5" fill="#222a55" font-style="italic">IGHA2</text>
<text x="1047.3" y="313.7" font-size="13.5" fill="#222a55" font-style="italic">MMP12</text>
<text x="1047.3" y="328.3" font-size="13.5" fill="#222a55" font-style="italic">PMAIP1</text>
<text x="1047.3" y="342.9" font-size="13.5" fill="#222a55" font-style="italic">PTGS2</text>
<text x="1047.3" y="357.4" font-size="13.5" fill="#222a55" font-style="italic">NFKBIZ</text>
<text x="12.3" y="421.4" font-size="27.4" fill="#111">C</text>
<text x="44.6" y="430" font-size="16.0" fill="#111">Enrichment analysis of common DEGs (NC vs CRC)</text>
<line x1="70" y1="439.2" x2="70" y2="758.8" stroke="#b4b4b4" stroke-width="1.8"/>
<line x1="93.2" y1="439.2" x2="93.2" y2="758.8" stroke="#b4b4b4" stroke-width="1.8"/>
<line x1="116.4" y1="439.2" x2="116.4" y2="758.8" stroke="#b4b4b4" stroke-width="1.8"/>
<line x1="162.8" y1="439.2" x2="162.8" y2="758.8" stroke="#b4b4b4" stroke-width="1.8"/>
<rect x="46.8" y="449" width="206.5" height="11.4" fill="#cf601f"/>
<rect x="46.8" y="464.2" width="150.3" height="11.4" fill="#cf601f"/>
<rect x="46.8" y="479.4" width="136.9" height="11.4" fill="#cf601f"/>
<rect x="46.8" y="494.7" width="124.7" height="11.4" fill="#cf601f"/>
<rect x="46.8" y="509.9" width="99.8" height="11.4" fill="#ee9435"/>
<rect x="46.8" y="525.1" width="83.2" height="11.4" fill="#ee9435"/>
<rect x="46.8" y="540.3" width="66.4" height="11.4" fill="#f2bc58"/>
<rect x="46.8" y="555.5" width="66.4" height="11.4" fill="#f2bc58"/>
<rect x="46.8" y="570.8" width="55.6" height="11.4" fill="#f1b850"/>
<rect x="46.8" y="586" width="55.6" height="11.4" fill="#f1b850"/>
<rect x="46.8" y="601.2" width="55.6" height="11.4" fill="#f1b850"/>
<rect x="46.8" y="616.4" width="47.2" height="11.4" fill="#f0b64c"/>
<rect x="46.8" y="631.6" width="45.7" height="11.4" fill="#f6d98a"/>
<rect x="46.8" y="646.9" width="38.3" height="11.4" fill="#f6dc94"/>
<rect x="46.8" y="662.1" width="36.8" height="11.4" fill="#f6dc94"/>
<rect x="46.8" y="677.3" width="36.8" height="11.4" fill="#f6dc94"/>
<rect x="46.8" y="692.5" width="34.3" height="11.4" fill="#f6dc94"/>
<rect x="46.8" y="707.7" width="33.3" height="11.4" fill="#faf2c4"/>
<rect x="46.8" y="723" width="30.7" height="11.4" fill="#faf2c4"/>
<rect x="46.8" y="738.2" width="28.3" height="11.4" fill="#faf2c4"/>
<rect x="46.8" y="439.2" width="217.6" height="319.6" fill="none" stroke="#111" stroke-width="1.6"/>
<line x1="46.8" y1="758.8" x2="46.8" y2="763.4" stroke="#111" stroke-width="1.3"/>
<text x="46.8" y="777.9" font-size="12.5" fill="#222" text-anchor="middle">0</text>
<line x1="75.8" y1="758.8" x2="75.8" y2="763.4" stroke="#111" stroke-width="1.3"/>
<text x="75.8" y="777.9" font-size="12.5" fill="#222" text-anchor="middle">2.5</text>
<line x1="104.8" y1="758.8" x2="104.8" y2="763.4" stroke="#111" stroke-width="1.3"/>
<text x="104.8" y="777.9" font-size="12.5" fill="#222" text-anchor="middle">5</text>
<line x1="133.8" y1="758.8" x2="133.8" y2="763.4" stroke="#111" stroke-width="1.3"/>
<text x="133.8" y="777.9" font-size="12.5" fill="#222" text-anchor="middle">7.5</text>
<line x1="162.8" y1="758.8" x2="162.8" y2="763.4" stroke="#111" stroke-width="1.3"/>
<text x="162.8" y="777.9" font-size="12.5" fill="#222" text-anchor="middle">10</text>
<line x1="191.8" y1="758.8" x2="191.8" y2="763.4" stroke="#111" stroke-width="1.3"/>
<text x="191.8" y="777.9" font-size="12.5" fill="#222" text-anchor="middle">12.5</text>
<line x1="220.8" y1="758.8" x2="220.8" y2="763.4" stroke="#111" stroke-width="1.3"/>
<text x="220.8" y="777.9" font-size="12.5" fill="#222" text-anchor="middle">15</text>
<line x1="249.8" y1="758.8" x2="249.8" y2="763.4" stroke="#111" stroke-width="1.3"/>
<text x="249.8" y="777.9" font-size="12.5" fill="#222" text-anchor="middle">17.5</text>
<text x="164.8" y="795.8" font-size="13.3" fill="#222" text-anchor="middle">-log10(P)</text>
<text x="267.2" y="458.9" font-size="13.7" fill="#111">Mtorc1 signaling</text>
<text x="267.2" y="474.1" font-size="13.7" fill="#b4304f">Epithelial mesenchymal transition</text>
<text x="267.2" y="489.3" font-size="13.7" fill="#b4304f">Hypoxia</text>
<text x="267.2" y="504.6" font-size="13.7" fill="#111">IL2 stat5 signaling</text>
<text x="267.2" y="519.8" font-size="13.7" fill="#111">Inflammatory response</text>
<text x="267.2" y="535" font-size="13.7" fill="#111">Coagulation</text>
<text x="267.2" y="550.2" font-size="13.7" fill="#111">P53 pathway</text>
<text x="267.2" y="565.4" font-size="13.7" fill="#111">Kras signaling up</text>
<text x="267.2" y="580.7" font-size="13.7" fill="#111">Myc targets v1</text>
<text x="267.2" y="595.9" font-size="13.7" fill="#111">Oxidative phosphorylation</text>
<text x="267.2" y="611.1" font-size="13.7" fill="#111">Cholesterol homeostasis</text>
<text x="267.2" y="626.3" font-size="13.7" fill="#111">Androgen response</text>
<text x="267.2" y="641.5" font-size="13.7" fill="#111">Xenobiotic metabolism</text>
<text x="267.2" y="656.8" font-size="13.7" fill="#111">Reactive oxygen species pathway</text>
<text x="267.2" y="672" font-size="13.7" fill="#111">Apical junction</text>
<text x="267.2" y="687.2" font-size="13.7" fill="#111">Myogenesis</text>
<text x="267.2" y="702.4" font-size="13.7" fill="#111">Pi3k akt mtor signaling</text>
<text x="267.2" y="717.6" font-size="13.7" fill="#111">Apoptosis</text>
<text x="267.2" y="732.9" font-size="13.7" fill="#b4304f">Angiogenesis</text>
<text x="267.2" y="748.1" font-size="13.7" fill="#111">Estrogen response early</text>
<text x="584.3" y="425.1" font-size="27.4" fill="#111">F</text>
<text x="617" y="430" font-size="16.0" fill="#111">Enrichment analysis of common DEGs (CRC vs LM)</text>
<line x1="630.9" y1="439.2" x2="630.9" y2="758.8" stroke="#b4b4b4" stroke-width="1.8"/>
<line x1="644" y1="439.2" x2="644" y2="758.8" stroke="#b4b4b4" stroke-width="1.8"/>
<line x1="657.1" y1="439.2" x2="657.1" y2="758.8" stroke="#b4b4b4" stroke-width="1.8"/>
<line x1="683.3" y1="439.2" x2="683.3" y2="758.8" stroke="#b4b4b4" stroke-width="1.8"/>
<line x1="748.8" y1="439.2" x2="748.8" y2="758.8" stroke="#b4b4b4" stroke-width="1.8"/>
<rect x="617.8" y="449" width="207" height="11.4" fill="#8f3523"/>
<rect x="617.8" y="464.2" width="125.1" height="11.4" fill="#cf601f"/>
<rect x="617.8" y="479.4" width="110" height="11.4" fill="#cf601f"/>
<rect x="617.8" y="494.7" width="81.2" height="11.4" fill="#cf601f"/>
<rect x="617.8" y="509.9" width="77.3" height="11.4" fill="#cf601f"/>
<rect x="617.8" y="525.1" width="72" height="11.4" fill="#cf601f"/>
<rect x="617.8" y="540.3" width="58" height="11.4" fill="#eb902f"/>
<rect x="617.8" y="555.5" width="48.5" height="11.4" fill="#eb902f"/>
<rect x="617.8" y="570.8" width="48.5" height="11.4" fill="#eb902f"/>
<rect x="617.8" y="586" width="41.3" height="11.4" fill="#eb902f"/>
<rect x="617.8" y="601.2" width="41.3" height="11.4" fill="#eb902f"/>
<rect x="617.8" y="616.4" width="38.6" height="11.4" fill="#f1b64e"/>
<rect x="617.8" y="631.6" width="34.7" height="11.4" fill="#f1b64e"/>
<rect x="617.8" y="646.9" width="32.4" height="11.4" fill="#f1b64e"/>
<rect x="617.8" y="662.1" width="30.8" height="11.4" fill="#f1b64e"/>
<rect x="617.8" y="677.3" width="29.9" height="11.4" fill="#f1b64e"/>
<rect x="617.8" y="692.5" width="25.9" height="11.4" fill="#f5d88c"/>
<rect x="617.8" y="707.7" width="24.9" height="11.4" fill="#f5d88c"/>
<rect x="617.8" y="723" width="22.3" height="11.4" fill="#f5d88c"/>
<rect x="617.8" y="738.2" width="21.4" height="11.4" fill="#f5d88c"/>
<rect x="617.8" y="439.2" width="217.8" height="319.6" fill="none" stroke="#111" stroke-width="1.6"/>
<line x1="617.8" y1="758.8" x2="617.8" y2="763.4" stroke="#111" stroke-width="1.3"/>
<text x="617.8" y="777.9" font-size="12.5" fill="#222" text-anchor="middle">0</text>
<line x1="650.5" y1="758.8" x2="650.5" y2="763.4" stroke="#111" stroke-width="1.3"/>
<text x="650.5" y="777.9" font-size="12.5" fill="#222" text-anchor="middle">5</text>
<line x1="683.3" y1="758.8" x2="683.3" y2="763.4" stroke="#111" stroke-width="1.3"/>
<text x="683.3" y="777.9" font-size="12.5" fill="#222" text-anchor="middle">10</text>
<line x1="716" y1="758.8" x2="716" y2="763.4" stroke="#111" stroke-width="1.3"/>
<text x="716" y="777.9" font-size="12.5" fill="#222" text-anchor="middle">15</text>
<line x1="748.8" y1="758.8" x2="748.8" y2="763.4" stroke="#111" stroke-width="1.3"/>
<text x="748.8" y="777.9" font-size="12.5" fill="#222" text-anchor="middle">20</text>
<line x1="781.5" y1="758.8" x2="781.5" y2="763.4" stroke="#111" stroke-width="1.3"/>
<text x="781.5" y="777.9" font-size="12.5" fill="#222" text-anchor="middle">25</text>
<line x1="814.3" y1="758.8" x2="814.3" y2="763.4" stroke="#111" stroke-width="1.3"/>
<text x="814.3" y="777.9" font-size="12.5" fill="#222" text-anchor="middle">30</text>
<text x="739.5" y="795.8" font-size="13.3" fill="#222" text-anchor="middle">-log10(P)</text>
<text x="838.6" y="458.9" font-size="13.7" fill="#111">Tnfa signaling via nfkb</text>
<text x="838.6" y="474.1" font-size="13.7" fill="#111">Myc targets v1</text>
<text x="838.6" y="489.3" font-size="13.7" fill="#b4304f">Hypoxia</text>
<text x="838.6" y="504.6" font-size="13.7" fill="#111">Apoptosis</text>
<text x="838.6" y="519.8" font-size="13.7" fill="#111">Mtorc1 signaling</text>
<text x="838.6" y="535" font-size="13.7" fill="#111">Complement</text>
<text x="838.6" y="550.2" font-size="13.7" fill="#111">Tgf beta signaling</text>
<text x="838.6" y="565.4" font-size="13.7" fill="#b4304f">Epithelial mesenchymal transition</text>
<text x="838.6" y="580.7" font-size="13.7" fill="#111">Oxidative phosphorylation</text>
<text x="838.6" y="595.9" font-size="13.7" fill="#111">Allograft rejection</text>
<text x="838.6" y="611.1" font-size="13.7" fill="#111">P53 pathway</text>
<text x="838.6" y="626.3" font-size="13.7" fill="#111">Dna repair</text>
<text x="838.6" y="641.5" font-size="13.7" fill="#111">Interferon gamma response</text>
<text x="838.6" y="656.8" font-size="13.7" fill="#111">Uv response up</text>
<text x="838.6" y="672" font-size="13.7" fill="#111">IL2 stat5 signaling</text>
<text x="838.6" y="687.2" font-size="13.7" fill="#b4304f">Angiogenesis</text>
<text x="838.6" y="702.4" font-size="13.7" fill="#111">Uv response dn</text>
<text x="838.6" y="717.6" font-size="13.7" fill="#111">Il6 jak stat3 signaling</text>
<text x="838.6" y="732.9" font-size="13.7" fill="#111">Adipogenesis</text>
<text x="838.6" y="748.1" font-size="13.7" fill="#111">Androgen response</text>
<text x="9.4" y="934.3" font-size="27.6" fill="#111">G</text>
<text x="61.8" y="916.9" font-size="13.55" fill="#111">Monocyte/macrophage subsets</text>
<circle cx="66.4" cy="934.2" r="4.4" fill="#4d80bb"/>
<text x="75.6" y="937.3" font-size="13.5" fill="#111">Macro-C1QC</text>
<circle cx="66.4" cy="948.2" r="4.4" fill="#5c9f4e"/>
<text x="75.6" y="951.3" font-size="13.5" fill="#111">Macro-FCN1</text>
<circle cx="66.4" cy="962" r="4.4" fill="#e7964c"/>
<text x="75.6" y="965.2" font-size="13.5" fill="#111">Macro-MKI67</text>
<circle cx="172.7" cy="934.2" r="4.4" fill="#c8513f"/>
<text x="181.6" y="937.3" font-size="13.5" fill="#111">Macro-SPP1</text>
<circle cx="172.7" cy="948.2" r="4.4" fill="#8d5aa6"/>
<text x="181.6" y="951.3" font-size="13.5" fill="#111">Kupffer cells</text>
<circle cx="172.7" cy="962" r="4.4" fill="#eec6e2"/>
<text x="181.6" y="965.2" font-size="13.5" fill="#111">Monocytes</text>
<text x="100.2" y="1008.5" font-size="14.1" fill="#111">Wu et al.</text>
<path d="M37.6 978.5L43.6 1001.5L50 1028.7" fill="none" stroke="#8d5aa6" stroke-width="8" stroke-linecap="round" stroke-linejoin="round"/>
<path d="M50 1028.7L59.8 1056L72.2 1078.3L88.7 1093.2" fill="none" stroke="#4d80bb" stroke-width="8.8" stroke-linecap="round" stroke-linejoin="round"/>
<path d="M89.8 1096.2L119.2 1085.5L149.5 1072.5" fill="none" stroke="#c8513f" stroke-width="13" stroke-linejoin="round"/>
<path d="M150.4 1073.6L187.2 1053.5L222.6 1033.2" fill="none" stroke="#5c9f4e" stroke-width="3" stroke-linecap="round" stroke-linejoin="round"/>
<path d="M148.2 1069.6L185 1049.5L220.5 1029.5" fill="none" stroke="#eec6e2" stroke-width="8" stroke-linecap="round" stroke-linejoin="round"/>
<path d="M185 1049.5L220.5 1029.5" fill="none" stroke="#eec6e2" stroke-width="10.5" stroke-linecap="round" stroke-linejoin="round"/>
<path d="M88.7 1093.2L86 1108L81.5 1122" fill="none" stroke="#4d80bb" stroke-width="3.6" stroke-linecap="round" stroke-linejoin="round"/>
<ellipse cx="78" cy="1129" rx="7" ry="16" fill="#4d80bb" transform="rotate(6 78 1129)"/>
<ellipse cx="79.6" cy="1144.5" rx="4.6" ry="5.5" fill="#c8513f"/>
<path d="M82 1116.1h0M136.6 1071.8h0M53.9 1041.6h0M111.1 1084.9h0M64.7 1073.3h0M51.9 1036.9h0M69.1 1073h0M102.5 1088.4h0M116.9 1081.3h0M80.1 1082.9h0M67.4 1074h0M110.2 1085h0M86.4 1105.3h0M52.6 1040.8h0M82.7 1121.9h0M51.5 1026.7h0M69.5 1072h0M124.4 1081.7h0M61.4 1057.2h0M62.9 1054.7h0M47 1033.1h0M118 1086h0M62.1 1066h0M81 1093.3h0M77.6 1079.8h0M52.8 1039.9h0M78.8 1131.2h0M74.1 1078.9h0M51.3 1035.7h0M61.7 1060.7h0M59.5 1053.9h0M87.5 1096h0M91.8 1096.7h0M76.3 1082.6h0M85.2 1118.3h0M50.2 1034.5h0M78.1 1086.7h0M90.2 1111.4h0M63.6 1070.3h0M83.5 1132h0M86.3 1128.2h0M62.3 1059.9h0M55.5 1041h0M87.6 1104.7h0M106.9 1085.7h0M55.8 1036.7h0M79.6 1081.2h0M92.8 1114.8h0M74.3 1128.3h0M81.7 1088.2h0M112.8 1084.1h0M79 1135.6h0M87.4 1103.3h0M77.5 1114.2h0M63 1066.8h0M102.8 1086.8h0M122.5 1084.7h0M74.2 1080.8h0M90.4 1096.9h0M51.1 1039.6h0M125.7 1081.4h0M87.6 1125.6h0M80.7 1083h0M63.5 1058.5h0M85.9 1114.9h0M85.5 1097.3h0M88.5 1103.1h0M70.2 1073.9h0M68.6 1075.9h0M76.6 1121.8h0M67.5 1066.3h0M122.4 1079.6h0M81.2 1126.6h0M77.2 1084.1h0M79.5 1128.5h0M58 1056.3h0M58.2 1053.5h0M71.3 1080.6h0M50.3 1043.4h0M85.9 1104.7h0M118.7 1080.6h0M99.1 1088.9h0M64.8 1063.2h0M74 1080.8h0M137 1071.5h0M76 1101h0M51 1034.2h0M147.5 1070h0M140.8 1074.9h0M61.6 1062.6h0M91.2 1095.3h0M81.7 1126.6h0M86.2 1091.3h0M54 1037.7h0M83.8 1114.6h0M53.6 1036.6h0M50.4 1025.6h0M50.3 1039.1h0M49.8 1041.5h0M53.8 1046.6h0M89.8 1095.1h0M54.4 1032.2h0M58 1050.5h0M80 1130h0M140.3 1073.5h0M80 1087.7h0M85.9 1092.9h0M104.6 1089.1h0M85 1102.7h0M89 1105.3h0M78.9 1116.1h0M134.2 1074.9h0M78.3 1138.5h0M78.8 1133.5h0M79.6 1123.2h0M58 1047.2h0M55.9 1036.4h0M108.8 1082.3h0M87.5 1093.8h0M94.5 1123.1h0M52.2 1035.7h0M56.6 1044h0M75.3 1127.7h0M139.1 1071.8h0M133.9 1076.1h0M87.8 1103.6h0M52.2 1038.9h0M64.3 1069h0M87 1100.1h0M59 1065.9h0M82.3 1090.6h0M73.9 1127h0M85.1 1111.8h0M53.1 1026.5h0M69.9 1067.2h0M89.9 1096.4h0M58.2 1059.5h0M60.9 1056.2h0M88.5 1088.5h0M57.9 1036.8h0M86 1109.9h0M46.6 1026.4h0M118.7 1082.6h0M88.4 1095h0M90.4 1083.1h0M78.8 1139.1h0M87.9 1101.3h0M52.5 1033.1h0M59.2 1055.4h0M79.8 1119.7h0M76.6 1114.9h0M80.8 1084.5h0M88.3 1094.1h0M80.8 1135.9h0M85.8 1099h0M67.8 1063.2h0M52.5 1033.5h0M78.3 1083.9h0M57.5 1055.3h0M69.9 1072.1h0M92.8 1092.5h0M80.3 1115.8h0" stroke="#4d80bb" stroke-width="3.4" stroke-linecap="round" fill="none"/>
<path d="M127.3 1081.2h0M157 1068.1h0M120.6 1087.6h0M73.4 1082.6h0M144.5 1076.4h0M147.7 1079.4h0M108.4 1090.6h0M143.9 1077.8h0M118.9 1088.1h0M143.8 1080.2h0M114.5 1088.6h0M116.4 1092.2h0M125.5 1085.3h0M78.3 1142.5h0M129.4 1086.7h0M121.4 1087.9h0M134.8 1083.5h0M125.3 1086.4h0M90.7 1098.2h0M132.2 1081.4h0M80.2 1111.1h0M86.4 1127h0M94.6 1091.6h0M141.3 1076.3h0M113.2 1092.7h0M144.1 1079h0M98.8 1096.3h0M111.2 1090.4h0M161.1 1064.1h0M155.3 1071h0M154.2 1069.2h0M146.8 1072.6h0M172.2 1060.6h0M131.5 1081.4h0M130.8 1082.4h0M142.7 1075.9h0M130 1081.4h0M146.8 1075.7h0M143.1 1081.3h0M80.3 1140.4h0M167.6 1060h0M74.8 1131h0M129.1 1083.6h0M79.5 1137.3h0M167.5 1063.4h0M99.6 1094.6h0M101.9 1096.8h0M173.2 1061h0M78.3 1139.9h0M137.6 1076.5h0M117.2 1086.4h0M169.6 1063.1h0M118.5 1084.1h0M105.6 1090.1h0M116.4 1090.5h0M171.4 1058.6h0M110.4 1087.9h0M78.9 1141.7h0M117.3 1084.5h0M77.7 1140.1h0M148.8 1072.7h0M142.7 1076.9h0M127.2 1086.6h0M115.1 1086.6h0M146.1 1072.2h0M141 1076.8h0M86.9 1125.2h0M69.8 1070.1h0M74 1077.7h0M140.5 1080.9h0M93.8 1093.3h0M104.4 1098.2h0M99.2 1091.7h0M115.6 1084.3h0M148.4 1073.5h0M153.8 1070h0M73.6 1079.3h0M133.8 1079.3h0M155.8 1070.5h0M131.8 1080.1h0M127.2 1083.6h0M172.9 1057.7h0M153.7 1070.1h0M89.3 1086.9h0M95.5 1095.1h0M89.4 1114.7h0M173.6 1059.3h0M146.1 1079.5h0M172.5 1060.5h0M113.9 1089h0M111.3 1091h0M170.4 1058.2h0M76.4 1126.7h0M161.1 1068.1h0M124.3 1083.9h0M149.2 1078.7h0M121.9 1081.4h0M63.3 1060h0M96.4 1091h0M139.1 1076.5h0M89.2 1115.9h0M130.1 1081.9h0M158.9 1067.4h0M106.3 1091.6h0M165.4 1066.2h0M78.8 1143.7h0M172.7 1059.6h0M162 1065.7h0M144.6 1076h0M129 1081.1h0M114.3 1089.5h0M128.3 1080.7h0M131 1080.4h0M152.4 1070.4h0M135.7 1078.7h0M143.7 1073.4h0M83.1 1123.7h0M119.7 1087.1h0M161.8 1065h0M108.1 1086.8h0M148.9 1076.6h0M119.7 1088.4h0" stroke="#c8513f" stroke-width="3.4" stroke-linecap="round" fill="none"/>
<path d="M204 1033.8h0M170.7 1058.9h0M196.7 1046.6h0M189.4 1047h0M216.9 1033.2h0M172.7 1053.6h0M218.3 1030.5h0M208.6 1035.6h0M203.3 1040.4h0M184.6 1052.5h0M163.4 1063.1h0M154.7 1063h0M183.6 1047.6h0M174.9 1057.4h0M173.4 1056h0M153.5 1073.6h0M174.8 1056.1h0M205.2 1038.3h0M175.3 1049.7h0M180.3 1055.3h0M178.5 1051.4h0M205.1 1038.6h0M178.1 1050.6h0M164.3 1057h0M152.4 1066.2h0M190.6 1048.5h0M177.1 1053.8h0M209.6 1037.7h0M158.2 1064.9h0M219.4 1033.9h0M160.6 1064.7h0M210.6 1037.5h0M191.4 1048.2h0M177.7 1052.4h0M194.6 1039.6h0M208.8 1036.2h0M216.3 1031.3h0M187.9 1045.2h0M174.5 1056.5h0M150 1066.5h0M195.8 1041.1h0M214.1 1037.5h0M152.6 1066.1h0M168.8 1056.8h0M177.6 1053.5h0M202.1 1034.8h0M194.3 1039.5h0M194.4 1046.7h0M156.7 1065.1h0M187.7 1047.1h0M159.8 1067.9h0M172.8 1056.7h0M172.4 1055.6h0M208.5 1038h0M169.1 1054.9h0M153.3 1065.1h0M147.8 1065h0M196.8 1037h0M167.2 1056.2h0M167.5 1058.8h0M163.9 1060.4h0M202.4 1036.4h0M219.6 1031.2h0M196.7 1041.5h0M172.6 1056.2h0M181.6 1046.7h0M201.1 1045.2h0M213.6 1033.6h0M190.2 1044.4h0M193.1 1040.5h0M207.1 1034.5h0M217.8 1037.6h0M169.2 1057.9h0M211.2 1041.6h0M180.8 1053.9h0M215.1 1035.5h0M167.2 1056.5h0M203.9 1045.5h0M174.1 1059.1h0M190.3 1047.9h0M207.9 1038.3h0M214 1042.4h0M192 1043.3h0M215.3 1039.4h0M209.4 1035h0M212.1 1038.3h0M164 1062.8h0M188.2 1045h0M199.8 1047.4h0M215.1 1034.6h0M169.3 1058.3h0M157.9 1063h0M160.6 1061.8h0M173 1057.1h0M205.7 1040.5h0M173.4 1057.1h0M197.6 1048.5h0M164.9 1059.3h0M179.2 1057.5h0M152.9 1065.3h0M201.5 1044.8h0M210.7 1031.5h0M152.2 1064.3h0M200.4 1045.2h0M149.3 1071.1h0M212.5 1039h0M160.3 1062.4h0M206 1029.2h0M178.3 1052.4h0M169.2 1056.9h0M165.2 1061.3h0M211.2 1026.1h0M155.5 1067.4h0M170.4 1058.6h0M167.8 1055.7h0M195.4 1046.5h0M161.7 1065.5h0M161.2 1064.3h0M192.5 1043.1h0M170.6 1051.8h0M185.3 1047.6h0M193.9 1042.8h0M153 1070.5h0M174 1058.4h0M213.2 1034h0M148.6 1067.3h0M169.3 1060.6h0M197.8 1044.1h0M165.3 1058.2h0M181 1049.6h0M157.9 1064.4h0M175.4 1054h0M179.7 1053.6h0M169.4 1054.1h0M191.8 1046.1h0M154.6 1068.8h0M167.4 1058.5h0" stroke="#eec6e2" stroke-width="3.4" stroke-linecap="round" fill="none"/>
<path d="M177.4 1058h0M142.8 1075.4h0M191.5 1052.2h0M149.4 1063.4h0M186.5 1052.9h0M159.7 1070h0M106.1 1089.2h0M197.3 1047.8h0M112 1082.9h0M180.2 1056h0M199.8 1045h0M143.7 1065h0M157.4 1069.7h0M167.6 1063.7h0M150 1072.4h0M161.4 1068.1h0M194.3 1048.6h0M138.5 1068.7h0M151.9 1072.5h0M144.5 1075.1h0M149.9 1066.4h0M150.8 1062.7h0M187.4 1053.8h0M150.8 1074.2h0M157.1 1070h0M135.9 1078.7h0M151.1 1073.1h0M157.2 1069.4h0M188.5 1053.3h0M197.4 1047.6h0M161.6 1067.8h0M148.2 1063.6h0M158.1 1068.6h0M101.4 1092.9h0M145.2 1061h0M133 1078.2h0M191.2 1051.6h0M99.3 1089.5h0M144 1063.2h0M123.7 1080.2h0M155.9 1071.5h0M105.2 1091.9h0M166.4 1063.9h0M95.6 1092.3h0M147.7 1063.7h0M149.7 1062.7h0M200.4 1045.8h0M184.4 1055.2h0M104.4 1092.3h0M127.9 1078.7h0M196 1048.7h0M117.2 1085.6h0M150.2 1060.4h0M123.4 1077.2h0M136.7 1073.8h0M151.5 1074h0M120.8 1085.5h0M190.6 1049.5h0M171.1 1063h0M163 1066.8h0M194.4 1051.3h0" stroke="#5c9f4e" stroke-width="3.4" stroke-linecap="round" fill="none"/>
<path d="M40.9 979.5h0M43.3 1001.2h0M47.5 1010.5h0M38.4 1004.5h0M39.2 985.4h0M40.6 988.9h0M36.1 981.1h0M43.7 1005.6h0M38.3 984.2h0M48.5 999.1h0M33.8 989.6h0M41.6 990.6h0M42.4 995.4h0M46.3 1032.5h0M45.6 1011.9h0M41 994h0M45.9 1020.2h0M45.2 1018.7h0M35.6 985.1h0M41.5 998.8h0M39.1 984.7h0M37.8 991.1h0M46.3 1022.2h0M50 1022.6h0M40.5 993.1h0M36.7 988h0M40.7 980.1h0M43 998.6h0M44.9 992.7h0M48 1011.3h0M41.8 1010.2h0M43.3 1002.6h0M43.7 993.1h0M42.8 1002.4h0M43.1 1015.3h0M36 987.6h0M43.2 992h0M45.5 1011.3h0M46.8 997.3h0M42.6 1013.7h0M42 990.2h0M47.1 1014.2h0M37.7 991.6h0M37.7 982.5h0M41.9 989.1h0M47 1007.2h0M43.4 1009.1h0M41.3 993.8h0M36 990.9h0M48.5 1018.4h0M43.1 1015h0M43.7 1020.6h0M42 1014.4h0M44.1 1006.4h0M45.3 998h0M33.9 980.9h0M43.6 993.5h0" stroke="#8d5aa6" stroke-width="3.4" stroke-linecap="round" fill="none"/>
<path d="M132.2 1083.1h0M127.5 1085.7h0M103.1 1091.5h0M108 1091.6h0M124 1080.9h0M100.8 1089.7h0M96.5 1092.6h0" stroke="#e7964c" stroke-width="3.4" stroke-linecap="round" fill="none"/>
<path d="M90.5 1130.5h0" stroke="#7a9a6a" stroke-width="3.4" stroke-linecap="round" fill="none"/>
<path d="M55.8 1058.7h0M102.4 1084.6h0M104.7 1089.7h0M52 1036.3h0M80.6 1137.1h0M84.2 1116.2h0M51 1034.4h0M103.7 1087.9h0M58.2 1053.5h0M89.5 1091.7h0M77.2 1079.3h0M120.5 1079.5h0M57.6 1042.2h0M57.6 1032.2h0M85.5 1101.9h0M54.8 1047.1h0M71 1070.1h0M83.3 1105.5h0M83.9 1109.8h0M88.2 1092.8h0M85.4 1110.1h0M78.4 1129.3h0M81.9 1111.9h0M116.9 1083.2h0M80.5 1078.8h0M80.8 1106.6h0M94.1 1092.5h0M78.6 1130.8h0M57.9 1044.4h0M100.4 1090.2h0M86.1 1090h0M91.1 1095.2h0M101.3 1086.9h0M78.7 1088.7h0M82.1 1090.2h0M126.4 1074.5h0M79.1 1087h0M131.8 1075.9h0M55.9 1035.1h0M53.5 1043h0M140.8 1071.9h0M113.6 1088.3h0M66.6 1063.3h0M70.6 1077.7h0M88.2 1105.9h0M52.7 1033.4h0M76.4 1076.6h0M79.1 1083.2h0M78.9 1135.3h0M85.1 1090.9h0M110.4 1085.1h0M62.3 1071.3h0M76.9 1125.2h0M76.9 1133.1h0M139.8 1071.7h0M87.8 1095.9h0M84.6 1083.8h0M119.3 1080.9h0M120.5 1086.5h0M77.9 1090.1h0M56.4 1038.5h0M84.1 1089.3h0M146.9 1070.4h0M51.9 1028.4h0M69.6 1073.2h0M67 1070.9h0M79 1114.4h0M116.5 1080.9h0M85 1099.9h0M52.5 1034.3h0M85.5 1090.7h0M84.1 1115.6h0M84.7 1087.6h0M76.9 1132.5h0M94.3 1097.3h0M62.7 1054.7h0M75.9 1077.3h0M86.7 1088.3h0M49.2 1029.4h0M54.2 1047.4h0M109.5 1085.8h0M89.7 1101.3h0M62.2 1052.6h0M75.2 1082.3h0M81 1130.1h0M77.5 1104.5h0M61.8 1058.7h0M73.2 1078.4h0M51.2 1036h0M69.5 1076.5h0M55.6 1045.4h0M125.8 1072.8h0M87.1 1096.5h0M84.9 1114.9h0M130.2 1077.1h0M79.2 1127h0M56.2 1050.4h0M60.8 1054.9h0M55.7 1047h0M82.9 1087.2h0M70.9 1078.7h0M90.6 1096.4h0M144.2 1071.8h0M48.8 1028.9h0M79.8 1082.9h0M52.1 1043.9h0M54 1041.6h0M78.8 1086.4h0M92.3 1094.5h0M90 1087.9h0M93.4 1087.8h0M80.5 1129.6h0M77.6 1130.3h0M79.8 1132.1h0M82.2 1111.7h0M54 1037.8h0M63.7 1063.1h0M57.1 1042.9h0M78.4 1133.7h0M76.6 1124.9h0M104.1 1083.8h0M75.1 1082.5h0M78.5 1135.7h0M76 1080.5h0M79.5 1128.2h0M74.7 1127.4h0M56.6 1055.4h0M105.8 1085.4h0M142.5 1071.5h0M121.3 1079.2h0M108.1 1088.4h0M69.8 1070.4h0M83.8 1087.8h0M86.4 1102h0M77.9 1093h0M61.8 1060.5h0M93.8 1090.3h0M82 1103.8h0M62.1 1061.3h0M83.8 1091.1h0M90.2 1088.1h0M83.2 1088.4h0M74.3 1078.6h0M55.2 1038.7h0M65.4 1063.4h0M104.3 1086h0M59.5 1049.3h0M85 1105.2h0M56.8 1037.1h0M89.8 1095.8h0M67 1070.9h0M78.7 1083.3h0M65.6 1070.6h0" stroke="#4d80bb" stroke-width="3.4" stroke-linecap="round" fill="none"/>
<path d="M199.7 1040.9h0M189.2 1047.2h0M215 1031.8h0M204.2 1035.1h0M193.1 1043.3h0M197.1 1037.5h0M169.8 1058.1h0M175.6 1052.5h0M154.3 1064.3h0M173.1 1057.9h0M193.9 1043.8h0M196.6 1042h0M213.4 1032.5h0M186.6 1042.9h0M215.1 1029.1h0M181.9 1048.5h0M193.3 1049.7h0M156.9 1065.5h0M186.4 1047.6h0M219.4 1031.8h0M169.2 1060.6h0M177.5 1054.1h0M188.4 1044h0M152.4 1065.8h0M165.6 1059.3h0M193.6 1044.7h0M154.1 1064.9h0M187.2 1049.5h0M214.3 1022h0M172.7 1053.5h0M181.1 1056.7h0M170 1053.6h0M163.2 1060.9h0M183.9 1039.5h0M180.7 1045.6h0M163.1 1063.1h0M167.3 1063.3h0M183.1 1045.2h0M155.1 1064.5h0M158 1064.9h0M210.9 1037.7h0M186.2 1047.4h0M176.5 1052.9h0M167.2 1056.7h0M148.2 1065.2h0M180.9 1053.4h0M195.4 1036.8h0M193.8 1042.1h0M197.4 1040.6h0M196 1046.6h0M211.9 1035.6h0M169.1 1058.9h0M203.4 1036.6h0M211.8 1029.5h0M197.4 1042.5h0M192.3 1044.8h0M195 1049.3h0M179.9 1055.6h0M215.9 1030.9h0M218.4 1034.5h0M154.3 1066.9h0M200.5 1049.3h0M149.8 1064.9h0M169.7 1058.6h0M199.4 1049h0M214.5 1027.6h0M193.3 1045.9h0M158.8 1065.6h0M168.3 1062.6h0M154 1068.1h0M166.2 1062.6h0M167 1057.5h0M167.2 1051.7h0M198 1045.6h0M219 1030.1h0M217.5 1026.9h0M212.7 1031h0M205.5 1041.4h0M193.6 1042.3h0M152 1065.3h0M199.7 1031.7h0M164 1054.7h0M183 1050.2h0M209 1034.6h0M209.9 1043.6h0M165.4 1063.5h0M165.5 1059.7h0M177.2 1057h0M179.1 1049.1h0M199.9 1036.1h0M199.2 1040h0M204.4 1037.1h0M191.2 1045.7h0M195.8 1034.8h0M173.4 1061.6h0M171.5 1055h0M212.2 1029.4h0M205.9 1038.9h0M156.2 1066.6h0M155.6 1068.3h0M177.2 1046.5h0M196.9 1042.8h0M205.2 1032.6h0M182.5 1050.1h0M194.6 1046.3h0M218.2 1035.7h0M170.7 1058.7h0M200.3 1042.9h0M216.6 1031.6h0M209.9 1034.5h0M203.4 1042.8h0M153.8 1068.1h0M202.7 1029.8h0M198.1 1041.3h0M207.3 1046h0M150.8 1066.5h0M187.9 1049.6h0M177.2 1055.7h0M174.2 1059.3h0M178.9 1051h0M191.3 1048.4h0M209.1 1028.4h0M167.2 1060.5h0M211.7 1035.1h0M191.3 1042.4h0M170.8 1055.9h0M181.6 1048.9h0M159.6 1061.3h0M195 1036.2h0M201.9 1039.1h0M181.5 1052.8h0M217 1027.7h0M217.8 1038.5h0M168.6 1059.8h0M186.1 1048.9h0M209.4 1034h0M201.1 1039.4h0" stroke="#eec6e2" stroke-width="3.4" stroke-linecap="round" fill="none"/>
<path d="M144.9 1078.9h0M113.7 1086h0M152.5 1073.1h0M132 1086.2h0M119 1088.8h0M150.2 1075.5h0M83.5 1112.2h0M89.1 1116.9h0M146.7 1072.2h0M102.5 1090.9h0M110.8 1086h0M140.3 1078.7h0M167.3 1063.6h0M146.8 1072.5h0M79.3 1144.6h0M108.7 1086.9h0M115.1 1084.7h0M146 1073.9h0M144.8 1069.7h0M166.2 1060.9h0M154.2 1069.7h0M128.7 1083.6h0M104.6 1088.9h0M85.3 1115.3h0M133.9 1075.4h0M79.6 1142.4h0M150.3 1076h0M153.8 1070.6h0M91.9 1101h0M171.4 1062h0M92.1 1100h0M62.6 1062.4h0M107.9 1089.7h0M154.2 1070.6h0M143.6 1078.3h0M78 1140.1h0M135.5 1076.6h0M111.1 1087.1h0M134.1 1079.8h0M115.5 1089.3h0M105.1 1091.6h0M174.2 1057.6h0M138.4 1083.9h0M153.5 1071.6h0M97.3 1095.6h0M143.9 1069.8h0M144.2 1080h0M165.9 1060.6h0M166.1 1060.6h0M101.3 1090.4h0M166.9 1064.9h0M157.7 1067.9h0M103.5 1100.4h0M78.5 1139.9h0M166.2 1063.5h0M153 1072.9h0M149.1 1068.8h0M104.4 1098.6h0M158.8 1065h0M77.5 1141.6h0M166.4 1063.5h0M77 1143h0M132.6 1081.1h0M155.3 1070h0M166 1061.2h0M111.3 1090.2h0M131.7 1081.9h0M136.2 1075.6h0M105 1088.3h0M136.4 1081.8h0M165.9 1062.8h0M81.2 1129.7h0M159.2 1068.4h0M143.2 1076.9h0M114.2 1087.5h0M129.7 1083.7h0M97.4 1096.6h0M159 1067.4h0M95.7 1093.4h0M132 1078.6h0M146.8 1071.4h0M149.6 1077.9h0M77.5 1140h0M108.6 1095.8h0M131.2 1079.3h0M106.9 1087.6h0M85 1128.5h0M95.9 1097.1h0M164.5 1065.7h0M170.8 1061.5h0M153.9 1069h0M137 1070.3h0M90.4 1091.1h0M102.9 1095.2h0M152 1071.2h0M115.5 1085.9h0M95.5 1094.1h0M102.5 1091.1h0M78.2 1120.4h0M120.3 1085.4h0M105.2 1094.8h0M127.8 1080.8h0M98.8 1092.2h0M125.3 1085.3h0M163.2 1066h0M114.8 1084.3h0M167.9 1060.3h0M137.6 1080.2h0M111.3 1093.1h0M124.1 1082.4h0M77.6 1145.2h0M148.4 1076.6h0M112.9 1086.2h0M152.5 1074.3h0M116.2 1085.7h0M141.3 1078.9h0M122.5 1085.3h0M58.9 1045.3h0M116.3 1091.5h0M132.3 1078.5h0M98.5 1094.3h0M167.7 1062.5h0M116.5 1090.5h0M146.7 1075.3h0M79.2 1143.4h0M116.3 1086.4h0M87.4 1127.2h0M124.7 1083.8h0M78.7 1090.1h0M174.1 1060h0M105.5 1090.7h0M146.8 1079.6h0" stroke="#c8513f" stroke-width="3.4" stroke-linecap="round" fill="none"/>
<path d="M119.1 1086.6h0M146.7 1075.3h0M128.8 1082.7h0M145.3 1077.3h0M129 1082.7h0M97.9 1093h0M115.4 1084.3h0M112.5 1092.1h0M138.1 1077.1h0M125.1 1081.9h0M119.2 1087.2h0M118.6 1084.9h0M104.6 1098.9h0M98 1093.6h0M144.4 1075.9h0M118.1 1085.9h0M116.5 1086.5h0M126.3 1082.4h0M112.6 1092.8h0M105.5 1088.3h0M116.8 1088.3h0" stroke="#e7964c" stroke-width="3.4" stroke-linecap="round" fill="none"/>
<path d="M197.9 1048.8h0M157.4 1068.5h0M158.7 1071.5h0M110.1 1087.3h0M154.2 1072h0M135.7 1071.7h0M112.4 1084.4h0M177.5 1059.2h0M175.4 1058.8h0M194 1051.7h0M172.1 1059.2h0M185.6 1054.8h0M200.8 1045.6h0M163.5 1065.7h0M174.6 1061.4h0M147.6 1062h0M182 1057.7h0M199 1046.4h0M196 1047.8h0M178.8 1058.1h0M109.9 1090.6h0M192.9 1050.7h0M193 1051.6h0M155.3 1070.3h0M200.2 1047.9h0M121.4 1086.5h0M199.3 1046.3h0M110.6 1085.2h0M177.6 1060.2h0M146.1 1065.1h0M126.5 1081.1h0M166.4 1066.6h0M181.6 1057.1h0M179.3 1059h0M147 1059.8h0M111.8 1087.4h0M189.6 1052.3h0M137.3 1076.1h0M184.9 1054.2h0M138.5 1071.6h0M148.9 1061.6h0M168.5 1064.5h0M194.4 1048.7h0M194.2 1050.3h0M169.9 1063.4h0M141.7 1062.2h0M183.1 1055.2h0M165.9 1064.7h0M142 1062.4h0M147.9 1064.4h0M187.2 1053.7h0M200.5 1046.4h0M166.4 1063.7h0M130.1 1081h0M132.9 1076.2h0M183 1057h0M192.3 1049.2h0M176.3 1059.4h0M168 1064.3h0" stroke="#5c9f4e" stroke-width="3.4" stroke-linecap="round" fill="none"/>
<path d="M50.7 1024.5h0M45.8 1021.8h0M47.4 1011.7h0M47.4 1012.1h0M38.4 990.6h0M50.7 1014.8h0M47.8 1020.7h0M42.3 986.3h0M48.6 1005.4h0M50.8 1029.5h0M39.4 986.8h0M43.2 1011.3h0M42.2 994.6h0M45.4 1013.4h0M47 1007.4h0M39.6 979.2h0M35.4 979.4h0M49.3 1022.5h0M51.7 1027.6h0M43.4 1002.2h0M51.1 1013.7h0M43.1 1000.6h0M54.8 1028.7h0M40.9 984.2h0M36.6 987.2h0M46.8 1002.4h0M36.8 987h0M36.7 989.7h0M50.1 1029.9h0M40.5 1003.5h0M39.5 981.7h0M42.7 990.8h0M42.5 997.1h0M47.2 1005.4h0M49.7 1016.9h0M37.7 1002.2h0M36.4 979.1h0M45 994.2h0M51.6 1017.9h0M39.3 994.1h0M51.6 1019.1h0M45.8 1011.8h0M40.7 991.8h0M49 1017.2h0" stroke="#8d5aa6" stroke-width="3.4" stroke-linecap="round" fill="none"/>
<path d="M151.5 1058.5h0" stroke="#9a86a8" stroke-width="3.4" stroke-linecap="round" fill="none"/>
<path d="M104.9 1089.8h0M106.4 1094.3h0M103.6 1089.5h0M111.3 1093.4h0M141 1077.6h0M117.9 1087.2h0M145.7 1072h0M123.3 1085.5h0M139.5 1076.7h0M138.7 1075.2h0M105.1 1091.3h0M125.3 1085.8h0M109.8 1089.2h0" stroke="#e7964c" stroke-width="3.4" stroke-linecap="round" fill="none"/>
<path d="M154.2 1072.5h0M179 1059h0M126 1079.1h0M137.6 1071h0M119.9 1082.1h0M96.3 1090.7h0M150.9 1073.8h0M147.1 1064.9h0M173.6 1062.4h0M188.5 1052.2h0M183 1057.2h0M164.9 1065.6h0M168.7 1065h0M144.1 1064.8h0M130.7 1082.1h0M107.8 1085.4h0M125.9 1078.8h0M185.3 1054.5h0M98.4 1090.1h0M99.2 1094.6h0M159.7 1067.7h0M189.3 1052.1h0M148.9 1067.1h0M171.9 1062.9h0M187 1052.9h0M175.9 1059.5h0M200.9 1045.5h0M146.5 1060.2h0M192.5 1051h0M147.8 1064.5h0M200.5 1045.9h0M146.3 1061h0M167.1 1064.4h0M166.9 1065.7h0M196.9 1049.7h0M167.9 1064.3h0M202 1045.9h0M148.7 1061.9h0M147.2 1067.2h0M182.8 1057.8h0M130.3 1080.3h0M189.2 1053.6h0M151.4 1066.5h0M160.1 1068h0M120 1083.2h0" stroke="#5c9f4e" stroke-width="3.4" stroke-linecap="round" fill="none"/>
<path d="M49 1027.8h0M52 1028.3h0M70.4 1077.8h0M76.7 1134.4h0M88.3 1095.7h0M73.5 1074.5h0M71.9 1080.7h0M77.2 1078.6h0M79.5 1082.6h0M64 1070.8h0M50.2 1034.8h0M59 1054.3h0M70 1075.6h0M65.8 1069.8h0M53.2 1033.2h0M78.2 1131.2h0M57.1 1038.4h0M110.2 1089.7h0M113.2 1083.5h0M81.3 1086.6h0M79.2 1077h0M64.7 1064.8h0M61.9 1055.7h0M57.6 1047.9h0M121.1 1078.6h0M78.1 1128.4h0M79.9 1124.2h0M83.4 1086.9h0M95.2 1092.4h0M88 1091.8h0M89.7 1094.3h0M82.9 1089.2h0M73.9 1086h0M135.1 1071.1h0M94 1093.6h0M51.2 1044.1h0M79.4 1135.1h0M86.5 1095.1h0M72.9 1113.9h0M80.1 1127.8h0M67.5 1066.5h0M129.9 1076.9h0M58.3 1056.9h0M76.5 1078.5h0M53.3 1024.5h0M77.3 1078.9h0M69.1 1070.6h0M60.8 1053.8h0M75.3 1083.2h0M79.2 1084.7h0M49.9 1041h0M55.6 1039h0M60 1060h0M78.6 1108h0M82.1 1120.8h0M91.7 1101.3h0M63.5 1066.8h0M74.5 1079.2h0M69.7 1076.5h0M135.7 1068.6h0M78.2 1118h0M85.7 1097.8h0M53.2 1040.9h0M112.5 1087.6h0M64.1 1062.6h0M57.8 1047.4h0M60.1 1060.4h0M49.8 1040h0M83.1 1114.4h0M69.9 1067h0M54.8 1044.4h0M82.4 1113.7h0M53.7 1042.8h0M66.1 1066h0M108.9 1085.8h0M77.1 1119.4h0M60.4 1055.5h0M60.4 1055.8h0M88.8 1090.5h0M79.2 1131.9h0M91.9 1110.5h0M140.4 1071.2h0M75.8 1081.2h0M91.4 1111.4h0M130.2 1074.8h0M85.1 1100.7h0M88.2 1113.6h0M85.3 1098.7h0M60.8 1056.6h0M78.8 1087.4h0M91 1094.6h0M84.4 1086h0M73.6 1118.2h0M57.6 1040.6h0M77.4 1134.7h0M87.8 1093.7h0M59.3 1061.4h0M76.6 1125.2h0M77.1 1131.3h0M124.8 1079h0M66.7 1063.3h0M97.9 1088.3h0M90.9 1088.7h0M84.5 1086.3h0M61.3 1059.1h0M79.2 1138.8h0M72 1073.2h0M120.9 1080.9h0M71.4 1077.1h0M58.3 1043.2h0M80.7 1123.5h0M62.2 1058.1h0M78.6 1124.9h0M147.2 1069.9h0M89.9 1095.2h0M98.9 1087.8h0M55.9 1040.2h0M81.2 1123.9h0M109.6 1082.7h0M85.5 1112.1h0M78.9 1128.1h0M76.4 1084.1h0M118.4 1083.6h0M82.5 1119.4h0M81.7 1122h0M71.8 1080.1h0M107.4 1086.4h0M61 1067.4h0M77.1 1081.2h0M81.5 1111.8h0M77.4 1081.4h0M62.8 1056.2h0M67.6 1062.7h0M127 1082.3h0M81.2 1109.4h0M63.6 1071.4h0M130.3 1077.5h0M128.6 1078.1h0M58.9 1041.7h0M49.4 1042.5h0M52.4 1034.1h0M110.5 1085.9h0M114.3 1088h0M64 1069.5h0M100.1 1094.3h0M79 1114.9h0M74.1 1130.7h0M88.9 1093.7h0M79.8 1089.2h0M52.3 1037.7h0M94.5 1092.8h0M127.3 1078.5h0M80.5 1089.3h0M56.6 1044.1h0M97.7 1089.4h0M82.2 1082.4h0M56.9 1045.5h0M86.1 1091.3h0M64.6 1059.8h0M57.7 1052.8h0M56.1 1053h0M79.5 1099.5h0M85.1 1090.9h0M67.4 1074.1h0M77.9 1136.3h0M63.8 1064.7h0M60.7 1055.9h0" stroke="#4d80bb" stroke-width="3.4" stroke-linecap="round" fill="none"/>
<path d="M113.4 1096.6h0M96.9 1094.3h0M120.4 1086.3h0M136.2 1076.1h0M128.9 1079.9h0M127.6 1079.3h0M164.3 1065.8h0M169.8 1059.1h0M115.5 1086.3h0M115.5 1084.6h0M146.2 1078.7h0M92.6 1091.4h0M118.1 1093.9h0M141.9 1082h0M87.8 1088h0M112 1089.8h0M105.7 1088.4h0M169.1 1061.2h0M102.8 1091.8h0M90.2 1123h0M150.5 1077.4h0M94.3 1095.4h0M149.1 1069.8h0M51.8 1042.3h0M148.1 1078.3h0M125.2 1084.6h0M105.7 1090.3h0M175.1 1059.6h0M131.7 1081h0M109.9 1092.9h0M85.6 1094h0M146.2 1073.8h0M94.8 1093.9h0M124.3 1085.8h0M107.1 1090.7h0M105.6 1088.1h0M137.7 1085.5h0M148.2 1075.5h0M168.4 1062.3h0M115.1 1086.9h0M152.5 1072.7h0M137.8 1072.9h0M107.9 1087.1h0M120.9 1089.5h0M157.6 1070h0M79.4 1146.7h0M137.1 1076.3h0M174.6 1063h0M79.3 1139.3h0M120.7 1084.2h0M146.6 1073.8h0M87.9 1092.2h0M168.7 1062.3h0M141.2 1078.7h0M128.8 1079.8h0M108.2 1086.1h0M159.3 1068.4h0M84.8 1128.9h0M173.2 1058.9h0M112.1 1089.7h0M103.9 1094.8h0M172.2 1060.5h0M108.2 1091.8h0M110.6 1085.5h0M153.7 1069.2h0M102.1 1092.9h0M147.7 1077.1h0M124.6 1087.8h0M132.8 1081h0M99 1093.6h0M120.7 1085.6h0M121.1 1085h0M172.7 1060.2h0M78.9 1131.8h0M79.3 1146.9h0M81.5 1129.3h0M141.2 1074.7h0M96.6 1095h0M113.8 1087.8h0M123 1082.3h0M145.1 1073.2h0M84.4 1111.4h0M121.3 1084.4h0M122.1 1083.6h0M79.7 1144.9h0M162.3 1063.5h0M113.2 1088h0M117.1 1091.6h0M165.7 1063.6h0M85.6 1114.7h0M123.7 1084.7h0M151 1070.1h0M175.4 1060.7h0M116 1089.3h0M162.5 1063.1h0M138 1075.2h0M116.8 1093.2h0M101.3 1090.2h0M157.1 1068.2h0M157.3 1068.1h0M135.9 1078.3h0M131.2 1085.4h0M128.5 1087.7h0M154.2 1068.9h0M122.4 1081.9h0M114.7 1087.5h0M120.8 1089h0M105.8 1095.4h0M99.9 1095.8h0M143.2 1074.1h0M133.8 1080.2h0M149.7 1068.1h0M133.4 1076.2h0M156.2 1070.5h0M113 1090.7h0M143.8 1078.3h0M162.8 1066.8h0M128.2 1079h0M80.9 1142h0M111 1099.5h0M96 1097.4h0M83.3 1129.5h0" stroke="#c8513f" stroke-width="3.4" stroke-linecap="round" fill="none"/>
<path d="M42.1 1006.8h0M40.3 985.8h0M43.9 1000.7h0M36 979.4h0M49.4 1010.3h0M39.8 998.5h0M47 1026.9h0M46.3 1004.9h0M51.8 1024.6h0M35.8 981.7h0M44.8 1015.8h0M38.3 999.2h0M46.4 1000.4h0M45.2 1014.2h0M39.8 986.4h0M43.3 989.4h0M40 991.1h0M45 1025.2h0M42.8 1000.1h0M46.4 1007.6h0M43 1009.7h0M49.4 1020.3h0M48.6 1014.4h0M38.5 983.3h0M41.9 1003.5h0M42.9 1008.5h0M44.6 1021.2h0M40.8 1005.7h0M47.8 1026.2h0M46 1004.7h0M34.8 988.6h0M45.5 1003.1h0M40.3 980.9h0M37.9 988.3h0M37.5 983.4h0M38.1 986h0M42.1 1002.7h0M44.2 1006.1h0M43.1 995.4h0M40.1 986.7h0M47.9 1020.3h0M50.7 1020.4h0M45.2 1004.3h0M45.7 1010.9h0M48.2 1017.9h0M45.9 999h0M46.9 1009.6h0M49.3 1016.6h0M51.1 1020.5h0M46.7 1011.1h0M43.1 1016.4h0M50.8 1018.7h0M43.7 1009.8h0M46.1 1023.4h0" stroke="#8d5aa6" stroke-width="3.4" stroke-linecap="round" fill="none"/>
<path d="M194.3 1041.4h0M164.7 1059.2h0M195.7 1047.3h0M177.7 1055.5h0M215.8 1033.2h0M187.9 1053.5h0M164.1 1061h0M209.7 1038.4h0M196.3 1049.1h0M180.9 1054.7h0M200.7 1039.7h0M168.6 1055.2h0M174.2 1055.5h0M206.3 1041.2h0M206.1 1029.5h0M170.2 1062.8h0M205.1 1043h0M178.9 1051.8h0M192.6 1043.7h0M213.2 1039.7h0M212.4 1038.3h0M222 1036.2h0M199.9 1036.4h0M167.9 1056.7h0M219.8 1033.1h0M170.5 1059.2h0M171.5 1055.1h0M208.1 1037.1h0M159.5 1060.6h0M216.4 1023.7h0M152.9 1067.6h0M198.9 1037.8h0M165.8 1062.9h0M159.1 1062.9h0M208.6 1034.8h0M152.8 1064.3h0M217.5 1036h0M178.8 1053.5h0M200.2 1043.3h0M184.4 1050.8h0M174.2 1057.8h0M179.9 1054.2h0M154 1067.7h0M165.2 1060h0M148.9 1067.2h0M172.1 1051.8h0M173.8 1049.2h0M192.9 1048.1h0M149.7 1069.1h0M209.8 1038.8h0M177.7 1058.3h0M177.2 1053.6h0M162.5 1065.8h0M162.2 1061.7h0M147.9 1068.1h0M155 1064.9h0M196.8 1046.7h0M198.7 1041.7h0M170 1058.5h0M216 1037.8h0M203.3 1041.3h0M218.1 1029.2h0M204.4 1036.6h0M212.6 1026.7h0M164.3 1056.6h0M167.3 1059h0M174.2 1056.9h0M158.9 1066h0M208.7 1034.6h0M189.1 1050.1h0M158.6 1062.4h0M166.2 1056.9h0M197.2 1047.5h0M219.5 1033.3h0M212.9 1035.5h0M178.5 1054.4h0M197.8 1038.1h0M197.5 1045.5h0M151 1067.6h0M161.9 1056.2h0M216.1 1032.4h0M191.2 1044.9h0M181.9 1052.9h0M178.2 1050.1h0M147.5 1067.6h0M179.5 1048.1h0M220.3 1033.4h0M219.6 1030.1h0M212.1 1032.7h0M213.9 1029.7h0M180.2 1055.8h0M195.8 1038.1h0M215.6 1028.8h0M188.3 1045.3h0M160.9 1063.6h0M180.8 1044.7h0M217.8 1030.8h0M163.7 1057.5h0M154 1069.9h0M191.5 1045.9h0M221.4 1031.2h0M213.3 1033.7h0M178.7 1055.3h0M195.2 1044.4h0M208.8 1040.9h0M218 1031.1h0M186.4 1046h0M218.3 1031.2h0M205.4 1034.4h0M192.5 1039.7h0M151 1066.1h0M162.8 1060.5h0M198 1036.3h0M178 1050.8h0M166.6 1062.3h0M165.3 1055.5h0M148.5 1069.8h0M205.8 1036.7h0M175.9 1059.9h0M154.1 1064.5h0M170.4 1054.1h0M162.2 1063.3h0M190.5 1049.5h0M200.1 1037.3h0M157 1063.1h0M152.6 1066.1h0M167.4 1063.6h0M187.3 1051.1h0M177.9 1054h0M167.3 1060.1h0M160.5 1060.3h0M202.6 1039h0M175.2 1055.4h0M210.3 1034.2h0M150.1 1068.7h0M219.7 1032.1h0M195.5 1049.8h0M148.9 1070h0M169.6 1054.5h0M182.1 1052.6h0M172.4 1055.1h0M172.5 1055.6h0M200.1 1039.7h0M178.1 1054h0M182.4 1047.8h0M189.3 1054.7h0" stroke="#eec6e2" stroke-width="3.4" stroke-linecap="round" fill="none"/>
<circle cx="148.2" cy="1069.6" r="3.2" fill="#0a0a0a"/>
<text x="148.2" y="1071.1" font-size="4.2" fill="#fff" text-anchor="middle" font-weight="bold">1</text>
<circle cx="88.7" cy="1093.2" r="3.2" fill="#0a0a0a"/>
<text x="88.7" y="1094.7" font-size="4.2" fill="#fff" text-anchor="middle" font-weight="bold">2</text>
<line x1="25.7" y1="1164.5" x2="25.7" y2="1123.5" stroke="#222" stroke-width="2.1"/>
<polygon points="25.7,1116.2 29.9,1125.5 25.7,1123.8 21.5,1125.5" fill="#222"/>
<line x1="24.6" y1="1163.4" x2="65.7" y2="1163.4" stroke="#222" stroke-width="2.1"/>
<polygon points="73,1163.4 63.7,1167.6 65.4,1163.4 63.7,1159.2" fill="#222"/>
<text x="19.6" y="1181.8" font-size="13.4" fill="#111">Component 1</text>
<text x="13.5" y="1128.5" font-size="13.4" fill="#111" text-anchor="middle" transform="rotate(-90 13.5 1128.5)">Component 2</text>
<path d="M150.4 1043.7C118 1060 90 1064 84.3 1042.5" fill="none" stroke="#1a1a1a" stroke-width="2.7"/>
<polygon points="80.4,1033 89.1,1041.6 83.7,1041 80.2,1045.2" fill="#1a1a1a"/>
<path d="M145.9 1095.4C130.2 1104.2 105.3 1122.8 102.3 1138.5" fill="none" stroke="#1a1a1a" stroke-width="2.7"/>
<polygon points="100.5,1147.9 97.8,1136.6 102,1140.1 107.2,1138.4" fill="#1a1a1a"/>
<text x="7.8" y="1228.8" font-size="27.4" fill="#111">H</text>
<text x="68" y="1218.8" font-size="13.55" fill="#111">Tissue types</text>
<circle cx="70.6" cy="1232.3" r="4.4" fill="#e9a052"/>
<text x="79.3" y="1236.9" font-size="13.5" fill="#111">CRC</text>
<circle cx="126.4" cy="1232.3" r="4.4" fill="#5a9bd8"/>
<text x="134.5" y="1236.9" font-size="13.5" fill="#111">NC</text>
<circle cx="172.7" cy="1232.3" r="4.4" fill="#b07ac5"/>
<text x="180.9" y="1236.9" font-size="13.5" fill="#111">PBMC</text>
<circle cx="70.6" cy="1247.2" r="4.4" fill="#d56a6c"/>
<text x="79.3" y="1251.5" font-size="13.5" fill="#111">LM</text>
<circle cx="126.4" cy="1247.2" r="4.4" fill="#7fc09c"/>
<text x="134.5" y="1251.5" font-size="13.5" fill="#111">NL</text>
<path d="M37.6 1255.5L42 1278L46.2 1299.1" fill="none" stroke="#7fc09c" stroke-width="8" stroke-linecap="round" stroke-linejoin="round"/>
<path d="M46.2 1299.1L52 1320L59.8 1338.8L74.5 1363.5L88.7 1376.4" fill="none" stroke="#d56a6c" stroke-width="8.8" stroke-linecap="round" stroke-linejoin="round"/>
<path d="M89.9 1379.4L119.2 1368L149.5 1354.5" fill="none" stroke="#e9a052" stroke-width="13" stroke-linejoin="round"/>
<path d="M150.5 1355.6L187.3 1334.5L222.6 1313.6" fill="none" stroke="#d56a6c" stroke-width="3" stroke-linecap="round" stroke-linejoin="round"/>
<path d="M148.2 1351.6L185 1330.5L220.5 1310" fill="none" stroke="#b07ac5" stroke-width="8" stroke-linecap="round" stroke-linejoin="round"/>
<path d="M185 1330.5L220.5 1310" fill="none" stroke="#b07ac5" stroke-width="10.5" stroke-linecap="round" stroke-linejoin="round"/>
<path d="M88.7 1376.4L86 1392L81.5 1407" fill="none" stroke="#d56a6c" stroke-width="3.6" stroke-linecap="round" stroke-linejoin="round"/>
<ellipse cx="78" cy="1414" rx="7" ry="16" fill="#d56a6c" transform="rotate(6 78 1414)"/>
<path d="M89.5 1378.6h0M106.6 1367.7h0M73.6 1360.3h0M138.4 1365.6h0M73.7 1354.8h0M78.9 1425.5h0M122 1365.7h0M120.9 1366.5h0M48.8 1307.3h0M78.3 1424.7h0M57.6 1336.1h0M78 1431.4h0M71.4 1359h0M151 1358.7h0M89.5 1375.1h0M88.8 1378.3h0M82 1388.7h0M84.9 1374.5h0M98.6 1384.8h0M96.1 1370.1h0M48.3 1304.4h0M58.2 1328.2h0M81.5 1393.9h0M130.2 1366.8h0M83.7 1418h0M79.6 1433.6h0M58.5 1330.8h0M156.2 1355.5h0M190 1332.9h0M81.9 1371.8h0M173.9 1342.9h0M52.5 1316.8h0M164.1 1344.4h0M171.9 1345.1h0M141.5 1357.4h0M80.6 1420h0M61.3 1342.8h0M144 1347.7h0M72.3 1361h0M76.2 1361.1h0M92.4 1377.6h0M48.6 1320.1h0M84 1411h0M70.6 1362.1h0M189.4 1334.4h0M55.1 1334h0M177.1 1341.2h0M53.8 1315.3h0M115.1 1365h0M54.7 1323.2h0M63.6 1348h0M77.4 1421.5h0M65.2 1348.9h0M127.8 1363.5h0M83.1 1412.3h0M63.2 1343.9h0M56.3 1325.2h0M49.8 1315.9h0M123.6 1372.8h0M121.2 1369.4h0M141.1 1351.3h0M83.9 1367.5h0M77.9 1425.9h0M86.9 1382.3h0M151.6 1349.7h0M55.6 1328.5h0M134.9 1365.4h0M53.7 1321.1h0M156.3 1349.8h0M57.7 1335.3h0M109 1375.8h0M84.2 1400.1h0M95.9 1382.6h0M191 1331.9h0M72.8 1359.1h0M78.1 1433.4h0M72.3 1352.1h0M163 1345.8h0M143.2 1350.9h0M168.7 1344.3h0M69.3 1348.1h0M99.7 1371.2h0M105.4 1374.5h0M106.7 1365.7h0M92.5 1381.6h0M73.3 1364.8h0M73.8 1370h0M55.6 1337.8h0M74.6 1402.5h0M137.5 1352.2h0M94.6 1377.1h0M185.5 1335.3h0M147.3 1349.9h0M92.8 1398.7h0M181.9 1337.3h0M68.2 1347.2h0M145.9 1350.8h0M79.9 1427.5h0M85.3 1373.1h0M194.1 1329.4h0M53.4 1321.1h0M65.7 1342.9h0M115.8 1379.6h0M191.5 1331.8h0M40.6 1286.6h0M158.7 1347.6h0M82.1 1403.4h0M145.1 1358h0M46.7 1324.3h0M57.6 1322.7h0M140.2 1360.2h0M60 1342.2h0M148.4 1357.2h0M173.8 1341.7h0M122 1368.4h0M112.2 1366.8h0M87.1 1387.5h0M80.1 1418.6h0M62 1344.6h0M176.4 1341.6h0M146.8 1357.8h0M68.2 1359.4h0M157.2 1350.3h0M158.9 1349.4h0M89.7 1369.4h0M156.8 1351.1h0M80.5 1410.9h0M190.7 1331.3h0M91.7 1379.6h0M96.2 1377.7h0M62.8 1354.8h0M86 1398.1h0M143.2 1360.3h0M190 1333h0M98.8 1377.4h0M166 1344.1h0M77.8 1364h0M142.6 1353.2h0M84.1 1406.5h0M78.8 1426.1h0M82 1375.8h0M188 1333.7h0M155.2 1349.2h0M122.4 1360.6h0M95 1378.5h0M50.7 1333.7h0M83.9 1377.6h0M79.1 1360.5h0M152 1352h0M182.3 1334.9h0M171.7 1344.5h0M166.3 1345.5h0M114.5 1373.6h0M77.5 1388.5h0M56.1 1335.1h0M79.5 1407.9h0M77.8 1370.5h0M62.5 1338.1h0M163 1349.3h0M98 1376h0M78 1433.7h0M85.1 1373.1h0M89.4 1378.4h0M155.6 1354.1h0M62.3 1346.1h0M79.4 1366.1h0M192.1 1331.4h0M120.9 1366.7h0M48.7 1306.4h0M48.8 1303.9h0M51.8 1329h0M67.6 1360.3h0M70.3 1356.5h0M194.9 1330.1h0M87.8 1377.9h0M132.1 1358.3h0M90 1386.1h0M56.4 1337.9h0M107.9 1371.5h0M79.5 1430.4h0M77.3 1420.4h0M151 1354.6h0M169.1 1346.7h0M60.3 1347.8h0M81.7 1405.7h0M65.5 1337.5h0M56.4 1328.2h0M53.6 1329.1h0M117.3 1372.6h0M155.7 1348.4h0M89.5 1376.5h0M51.7 1318.9h0M83.5 1397.8h0M55.1 1333.6h0M150.4 1353.6h0M87.4 1373h0M56.5 1325.2h0M64.3 1345.9h0M71 1351.7h0M76 1385h0M185.5 1334.8h0M57.7 1341.2h0M49.5 1318.7h0M62.9 1345.5h0M155.2 1347.2h0M80.1 1401.7h0M177.7 1340.1h0M53.9 1327.3h0M104.2 1370.8h0M163.7 1347.9h0M82.9 1387.4h0M120 1371.8h0M79.8 1417h0M138.6 1353.1h0M103.3 1380.1h0M116.3 1371.3h0M82.2 1421.1h0M90.1 1385.9h0M83.4 1389.7h0M49.4 1305.4h0M85.6 1383.4h0" stroke="#d56a6c" stroke-width="3.4" stroke-linecap="round" fill="none"/>
<path d="M111.8 1372.7h0M97.3 1383.6h0M99.4 1379h0M78 1434h0M112.3 1367.7h0M145 1353.5h0M81.9 1431.2h0M94.2 1387h0M119.5 1365.1h0M134.1 1362.6h0M139.2 1356.2h0M175.9 1340.7h0M137.2 1361.8h0M146.6 1356.8h0M145.8 1357.3h0M76.6 1421.3h0M70.8 1356.8h0M139.7 1359.3h0M52.1 1330h0M116.2 1375.8h0M106.9 1367.8h0M117.1 1368.2h0M81.9 1364.4h0M151.8 1353.9h0M79.7 1367.5h0M103.5 1372.1h0M189.2 1333.7h0M110.7 1371.8h0M161.4 1348.4h0M169.8 1345h0M140.4 1362h0M129.1 1363.6h0M140.8 1363.6h0M96 1379.3h0M79.1 1425.1h0M62.4 1333.1h0M146.1 1357.7h0M138.6 1363.2h0M136.1 1363.7h0M78.3 1367.5h0M97.6 1377h0M136.4 1361.2h0M96.1 1375.9h0M117.8 1369.2h0M150.8 1354.6h0M141.1 1357.2h0M205.9 1318.4h0M135.3 1361.6h0M121.4 1370.4h0M80.4 1419.5h0M98 1375.5h0M173.7 1341.7h0M157.9 1351.5h0M147.4 1353.7h0M133.8 1365h0M113 1370.8h0M119.3 1366.7h0M120.4 1369.3h0M146 1356.6h0M96.7 1375.8h0M99 1373.2h0M97.8 1378.3h0M185.5 1334.4h0M126.5 1366.1h0M110.5 1371.9h0M82.5 1371.7h0M144.4 1355.2h0M181.2 1340.4h0M156.5 1351.5h0M173.6 1343.8h0M102.8 1374.8h0M128.8 1364h0M113.9 1367.3h0M114.9 1371.9h0M78.4 1433.2h0M195.8 1328.6h0M63.9 1351.5h0M121.2 1363.5h0M90.5 1374.8h0M94.2 1375.2h0M102.4 1375.6h0M96.7 1375.7h0M81.1 1371.8h0M129.5 1363.5h0M197.4 1327.5h0M86.2 1378.1h0M148.2 1354.1h0M97.7 1377.1h0M109.3 1375h0M106 1373.3h0M124 1365.6h0M57.9 1340.3h0M153.1 1345.4h0M132.9 1365.7h0M77.9 1370.9h0M86.8 1373.9h0M126.5 1365.6h0M102 1377.3h0M116.7 1367.5h0M188.1 1336.1h0M165.3 1347.1h0M106.7 1371.5h0M145.3 1357.8h0M168.5 1344.7h0M115.5 1372.2h0M105.9 1378.1h0M118.2 1370.5h0M210.4 1312.7h0M80.4 1369h0M120.8 1366.6h0M122.1 1365.8h0M170.7 1342.7h0M109 1368.5h0M177.1 1334h0M127.9 1367.1h0M85.7 1375.4h0M120.9 1367.7h0M162.3 1342.3h0M57.9 1341.8h0M96.4 1383.5h0M113.5 1368.6h0M130.9 1365.4h0M49.9 1323.6h0M99 1375.8h0" stroke="#e9a052" stroke-width="3.4" stroke-linecap="round" fill="none"/>
<path d="M192.2 1324.2h0M181.2 1333.1h0M162.3 1341.9h0M222.3 1313.6h0M159.4 1347.1h0M212 1309.6h0M217.9 1306.4h0M197.9 1316.6h0M165.8 1336.4h0M190 1328.1h0M174.9 1335.9h0M214.9 1308.9h0M190.1 1326.8h0M174.4 1336.8h0M176.2 1334.2h0M219.1 1310.6h0M207.1 1318.6h0M196.4 1322.8h0M217.2 1311.9h0M205.8 1319.4h0M147.2 1349.2h0M213.5 1310.2h0M190.7 1331.4h0M176.2 1336.9h0M206 1313.7h0M174.7 1336.8h0M204.3 1311.6h0M193 1317.9h0M210.5 1309.2h0M214.1 1322.3h0M195.7 1320.3h0M197.3 1327.7h0M211.9 1317.6h0M162.9 1342.7h0M165.9 1342.7h0M185 1330h0M199.5 1314.1h0M184.3 1331h0M212.6 1319.4h0M190.2 1325.9h0M157.5 1345.9h0M193.1 1325.7h0M186 1331.5h0M155.5 1351h0M221.4 1313.7h0M173.7 1340.9h0M155.7 1348.4h0M196.1 1326.7h0M222.1 1313.2h0M188.6 1324.3h0M182.5 1328.6h0M204.3 1321.7h0M218.2 1312.5h0M219.3 1315.1h0M197 1328.1h0M175.6 1334.3h0M206.5 1320.1h0M162.1 1345.8h0M194 1321.8h0M195 1326.9h0M173.6 1338.4h0M180.2 1329.8h0M161.1 1347.3h0M178 1333.8h0M170.6 1337.4h0M205.3 1325.7h0M190.6 1332.7h0M153.5 1346.2h0M183.9 1331.4h0M200.5 1319.5h0M190.4 1327.1h0M173.4 1338.8h0M205.3 1316.3h0M161 1343h0M196.2 1325.7h0M153.4 1346.7h0M166.7 1338.6h0M213.6 1313h0M221.7 1313h0M211.1 1321.3h0M206 1313h0M151.3 1348.8h0M189.7 1329.9h0M190.9 1321.2h0M166.5 1339.3h0M192.4 1325.7h0M148.3 1347.9h0M186.1 1333.9h0M176.7 1334.9h0M193.2 1324.2h0M201.1 1319h0M199.6 1323.2h0M153.7 1350.4h0M204.6 1324.2h0M160.4 1345.8h0M150.4 1353.2h0M192.2 1325.9h0M170.1 1334.1h0M163.1 1343.3h0M167.1 1338.2h0M177.6 1338.6h0M188.4 1332.2h0M180.6 1334.6h0M186.8 1329.7h0M155.1 1347.1h0M213 1320h0M165.4 1339.8h0M186.7 1321.2h0M203.1 1311.8h0M187.3 1333.2h0M207.7 1319.8h0M162.1 1341.6h0M154.7 1349.1h0M218.5 1308h0M205.8 1318.4h0M195.7 1325.3h0M157.6 1343.8h0M172.6 1338.7h0M200.6 1319.8h0M191.1 1330.5h0M201.7 1317.6h0M170.3 1334.2h0M183.7 1335h0M210.8 1313.3h0M163.6 1341.6h0M195.6 1323.4h0M216.3 1314.7h0M161.1 1347.1h0M175.5 1339.6h0M167.7 1341.1h0M178 1329.6h0" stroke="#b07ac5" stroke-width="3.4" stroke-linecap="round" fill="none"/>
<path d="M47.8 1309.6h0M47.1 1301.3h0M39.6 1267.9h0M35.8 1262.8h0M41 1281.1h0M42.6 1290.5h0M44 1291.8h0M45.9 1298.2h0M50.6 1305.8h0M39.4 1264.8h0M37.6 1257.8h0M40.2 1258.2h0M81 1367.6h0M36.4 1261.8h0M41.6 1259.9h0M36.9 1265.4h0M50.2 1311.1h0M43.4 1278.5h0M41.9 1270.5h0M49.3 1308.8h0M40.8 1263.9h0M44.9 1282h0M145.7 1344.8h0M41.7 1277.1h0M49.1 1300.2h0M43.3 1273.7h0M36.5 1258.2h0M43.1 1267.1h0M46.7 1293.4h0M35.5 1257.7h0M42 1270.8h0M152.8 1349.9h0M36.4 1260.9h0M54.4 1321.6h0M43.8 1273.9h0M147.4 1346h0M43.9 1293.2h0M148.8 1339.8h0M40.3 1271.7h0M62.6 1349.7h0M39.2 1263.5h0M37.1 1268.3h0M49.6 1297.1h0M41.9 1299.8h0M145.5 1344.7h0M44.2 1300.4h0M40.3 1265.1h0M39.9 1269.9h0M43 1297.2h0M48.9 1313.3h0M41.7 1277.3h0M147.1 1345.1h0M39.5 1259.3h0M150.7 1344.8h0M42.7 1272.6h0M50.1 1313.9h0M51.4 1313.8h0M40.3 1277.7h0M80.7 1360.7h0M41.2 1268.5h0M44.8 1280.5h0M37.3 1272.1h0M150.6 1342.7h0M39.5 1262.7h0M50.2 1305.6h0M40 1284.4h0M149.2 1343.1h0M57.8 1335.2h0M37.7 1269.1h0M147.1 1341.7h0M40.5 1270.1h0" stroke="#7fc09c" stroke-width="3.4" stroke-linecap="round" fill="none"/>
<path d="M193.7 1329h0M160.1 1341.3h0M164.6 1336.7h0M194.6 1323.1h0M188.2 1330.6h0M184.1 1335.6h0M213.6 1317.3h0M154.5 1350.1h0M191.4 1325h0M160.5 1344h0M214.2 1315.3h0M173.4 1342.2h0M215.9 1310.4h0M203.2 1318.5h0M205.9 1321.9h0M199.3 1325.3h0M182.3 1331.8h0M161.5 1347.2h0M186.4 1331.5h0M147.6 1347.6h0M154.1 1346.4h0M154 1349h0M172.7 1337.1h0M154.9 1342.5h0M202.1 1322.3h0M166.5 1340.3h0M182.5 1328.5h0M194.6 1324h0M206.9 1308.4h0M158.6 1344.3h0M169.2 1336.9h0M212.4 1319.8h0M163.4 1343.7h0M152.7 1351.4h0M177.6 1334.3h0M182.2 1330.1h0M180.6 1332.5h0M155.8 1345.7h0M156.1 1345.3h0M213.7 1308.3h0M153 1344.8h0M213.5 1311.2h0M218.7 1309.5h0M204.3 1325.4h0M154.7 1350h0M185.2 1331.3h0M193.3 1324.7h0M167.7 1343.6h0M210.8 1323.4h0M187.3 1335.3h0M219.6 1310.4h0M200.4 1319.2h0M173.1 1336.5h0M169.3 1343.4h0M166.7 1336.5h0M208.1 1314.7h0M160.9 1348.8h0M175.3 1337.5h0M177.4 1336.1h0M209.3 1315.4h0M213.8 1315.7h0M195.9 1323.8h0M194.6 1323.9h0M170.5 1340.9h0M186 1332.3h0M172.5 1337.2h0M211.3 1318.1h0M155.9 1351.2h0M181.9 1331.2h0M216.4 1306.3h0M185.7 1332.6h0M179.5 1335.9h0M190.7 1327.6h0M154 1348.9h0M204.1 1327.9h0M164.4 1334.2h0M194.1 1320.4h0M218 1307.9h0M211.8 1308.3h0M221.8 1314.1h0M163.3 1344.6h0M183.4 1329.4h0M221.2 1312.8h0M166.6 1343.6h0M201.5 1323.4h0M154.5 1350.6h0M148.7 1349.5h0M199.1 1320.2h0M155.7 1350.5h0M213.2 1320.7h0M155.5 1347.5h0M208.1 1315.2h0M206.2 1317.5h0M167.5 1345.4h0M161.2 1342.4h0M211.7 1313h0M181.1 1324.9h0M162.6 1346.2h0M179.3 1341.9h0M202.1 1329.2h0M154.6 1349.3h0M166.5 1340.2h0M168.9 1336h0M168.2 1340.2h0M194.7 1325.2h0M192.9 1328.8h0M215.4 1313.4h0M149 1351.6h0M152.6 1351.3h0M155.6 1351h0M180.9 1326.1h0M213.9 1313.7h0M218.1 1310.4h0M149.5 1346.8h0M161.3 1346.4h0M163.6 1346.4h0M189.3 1325.7h0M190.8 1324.4h0M161.1 1345.7h0M215.1 1319.8h0M219.5 1310.4h0M161.8 1344.4h0M208.3 1320h0M179.4 1339.3h0M173.4 1336.4h0M165.2 1343.6h0M166.6 1341.6h0M192.9 1318.8h0M217.5 1314.4h0M154.8 1351h0M172.3 1336.1h0M178.2 1331.7h0M192.2 1324.5h0M220.3 1310.1h0M148.3 1349.3h0M215.4 1305.3h0M177.4 1336.4h0M207.5 1323.8h0M163.4 1341.4h0M155.6 1351.9h0M167.2 1345.3h0" stroke="#b07ac5" stroke-width="3.4" stroke-linecap="round" fill="none"/>
<path d="M77.3 1424.3h0M142.9 1362.6h0M53.5 1318.2h0M81.4 1410.9h0M86.4 1386.3h0M49.8 1321.2h0M110.5 1366.6h0M55.1 1334.5h0M130.5 1359.8h0M89.8 1378.1h0M136.2 1370.1h0M91.1 1379.1h0M152.5 1353.2h0M107 1373.6h0M132.4 1366h0M84.5 1399.1h0M62.9 1343.5h0M105.7 1376.4h0M116 1368h0M115.7 1370.5h0M86.8 1409.5h0M172.2 1344.2h0M154.4 1350.7h0M79.3 1428.7h0M63.9 1347.1h0M80.2 1397h0M47.8 1306.1h0M178.4 1341.1h0M68.3 1349.7h0M137.7 1354.5h0M167.8 1348.2h0M77.8 1367.8h0M59.2 1336.8h0M104.2 1374.6h0M143.8 1353h0M60.4 1337.8h0M99.9 1375.4h0M76.4 1416h0M69.1 1351.6h0M74.7 1363.2h0M80.9 1369.6h0M82.7 1408.1h0M62.9 1340.5h0M69.8 1355.3h0M151.5 1350.1h0M127.9 1367.1h0M143 1363.8h0M122 1371.4h0M180.5 1338.3h0M140 1362.9h0M161.2 1348.2h0M88.7 1382.5h0M154.7 1354.3h0M122.8 1363.8h0M54.5 1336h0M184 1335h0M90.6 1371.3h0M160.3 1348.8h0M79 1370.6h0M135.7 1360.9h0M90.7 1382.4h0M89.3 1377.9h0M123.5 1375.9h0M77.3 1421.7h0M96.2 1374h0M88.1 1378h0M78.7 1365.9h0M148.1 1363.9h0M82.9 1373.4h0M88.1 1379.8h0M124.7 1371.3h0M169.7 1344.7h0M146.4 1361.4h0M170.7 1346h0M151.7 1354h0M52.6 1326.7h0M167 1342.1h0M96.7 1383.7h0M150.2 1354.1h0M158.8 1350.7h0M67.4 1351h0M63.4 1348.8h0M137.3 1364.2h0M63.8 1346.4h0M105.2 1379.8h0M179.4 1340.2h0M90 1417h0M82.9 1368.6h0M127.9 1371h0M166 1342.8h0M77.1 1413.5h0M76.7 1363.8h0M153.4 1349h0M88.7 1381.2h0M156.1 1354.8h0M124.9 1359h0M86.3 1389.6h0M125.8 1367.7h0M80 1407.7h0M78.4 1421.4h0M136.2 1359.6h0M157.1 1351.9h0M153.4 1352.8h0M85.9 1387.9h0M91.5 1400.6h0M93.4 1380.9h0M92.9 1376.5h0M167.5 1344.7h0M71.2 1358.1h0M156.2 1352.5h0M84.9 1383.1h0M55.1 1328.5h0M200.8 1327.3h0M93.7 1378.6h0M82 1406h0M199.1 1326.1h0M75.4 1363.2h0M64.7 1344.8h0M117.8 1364.2h0M87.3 1405.8h0M89.2 1383.7h0M69.2 1357.3h0M55.8 1333.6h0M139.8 1364h0M93.5 1376.7h0M142.1 1362.1h0M117.9 1362.1h0M150.3 1351.5h0M66.6 1351h0M166 1345h0M100.5 1369.2h0M135.3 1361.6h0M67.9 1356h0M48.3 1318.5h0M78.6 1367.1h0M85.2 1393.3h0M68.4 1349.3h0M151.2 1356.1h0M179.6 1339.3h0M162 1349.5h0M80.5 1422.4h0M90 1377.8h0M67.3 1352.5h0M62.3 1349.2h0M78.7 1426.6h0M92.4 1382.1h0M88.9 1389.9h0M79 1424.1h0M133.5 1358.5h0M61.3 1340.7h0M91.5 1375.9h0M85.7 1372.8h0M166.1 1346.9h0M115.7 1371.6h0M78.3 1424.1h0M98.6 1369.3h0M68.8 1354.2h0M49.8 1319.8h0M183.8 1337.5h0M166.8 1346.1h0M140.8 1352.9h0M87.6 1408.1h0M127.4 1358.6h0M143 1353.4h0M81.1 1363.2h0M53.1 1318.3h0M52.6 1322.3h0M50.7 1322.3h0M119.7 1367.3h0M61.8 1341.8h0M79.2 1429.2h0M154 1353.4h0M81.3 1411.7h0M135.4 1357.8h0M91.5 1376.8h0M78.6 1425.1h0M96.6 1382h0M53.5 1319.1h0M115.9 1370.8h0M87.7 1391.1h0M144.3 1360.4h0M111.4 1365h0M88.5 1387.3h0M78.7 1408h0M152.3 1355.4h0M168.9 1346.1h0M150.6 1354.8h0M139.5 1358.7h0M82.5 1373h0M196 1331.2h0M190.2 1334.2h0M143.9 1351.2h0M90.2 1378.4h0M76.3 1423.2h0M88.2 1383.3h0M79.6 1427.7h0M165.7 1350.2h0M141.8 1355.5h0M196.2 1332.1h0M89.3 1372.2h0M82.2 1386.4h0M200.6 1326.7h0M85.8 1399.2h0M91.5 1383.7h0M120.7 1360.5h0M84.9 1384.9h0M49.8 1308.8h0M90.6 1380.4h0M75.3 1416.2h0M88.3 1401.9h0M104.8 1369.5h0M122.3 1361.7h0M112.5 1370.5h0M62.3 1337.4h0M47.4 1310.3h0M166.3 1346.3h0M198.4 1329.8h0M85.9 1404.4h0M109.6 1374.5h0M62.3 1341.2h0M81.3 1408.3h0" stroke="#d56a6c" stroke-width="3.4" stroke-linecap="round" fill="none"/>
<path d="M47.5 1308.9h0M144.9 1342.5h0M43.5 1293.5h0M37.7 1257.7h0M43 1273.6h0M43.4 1288.8h0M39.6 1256.2h0M41.3 1278.4h0M40.8 1268.2h0M36.5 1258.8h0M37.8 1266.6h0M41.7 1276.4h0M148.8 1341.5h0M45.5 1296.5h0M83.9 1378.9h0M35.9 1259.4h0M42.4 1288.8h0M38.8 1256.5h0M45.8 1293.5h0M45.6 1293.2h0M38.5 1277.3h0M46.3 1273h0M44.6 1284h0M42.3 1292.5h0M38.3 1286.7h0M149.1 1345.7h0M37.8 1298.4h0M150.7 1343h0M50.9 1305.6h0M47.4 1295.9h0M46.4 1280.4h0M40.7 1283.5h0M45 1291.2h0M41.1 1293h0M44.5 1292.4h0M38.3 1260.4h0M44 1277.5h0M60.2 1342.5h0M41 1265.9h0M52.9 1324.9h0M77.4 1369.5h0M39.9 1265.7h0M148.2 1340.1h0M39.5 1271h0M46.3 1307.4h0M45.6 1287.6h0M45.9 1289h0M148.5 1341.8h0M42.7 1274.8h0M46.6 1296.7h0M38 1266.3h0M48.1 1300.2h0M41.7 1277.6h0M38.7 1272.3h0M41.3 1267.2h0M37.5 1279h0M42.7 1282h0M147.2 1341.2h0M46.4 1292.1h0M62.5 1346.4h0M150.1 1343.8h0M47 1299.8h0M42.7 1258.8h0M50.4 1312.8h0M147.7 1347.8h0M40.9 1279.7h0M47.2 1311.5h0M44.4 1296.8h0M46.7 1302.9h0M39.1 1285.2h0M149.9 1345.8h0M39.2 1255.2h0M40.9 1265.8h0M38.5 1272h0M47.8 1296.1h0" stroke="#7fc09c" stroke-width="3.4" stroke-linecap="round" fill="none"/>
<path d="M143.5 1359h0M77.5 1361.8h0M49.3 1318.8h0M114.4 1371h0M218 1321h0M136.2 1366.5h0M82.3 1372.7h0M117.7 1368.6h0M105 1375.4h0M104.8 1369.6h0M147.3 1357.5h0M106.7 1372.8h0M147 1353.2h0M79 1415.3h0M87.3 1377.6h0M94 1372.7h0M112.7 1371.4h0M77.1 1366.3h0M100.7 1371.8h0M134.2 1365.2h0M97.7 1374.5h0M103.5 1375.3h0M108.4 1370.8h0M168 1346.1h0M183.2 1335.6h0M123.2 1368.6h0M78.3 1433.2h0M101.8 1380.5h0M111 1372.2h0M97.9 1381.1h0M145.8 1357.2h0M139.5 1356.6h0M110.3 1371.3h0M133.9 1360.3h0M153.5 1352.6h0M130.9 1359.1h0M125 1361.1h0M172.1 1343h0M123.1 1366.8h0M197.4 1329.5h0M104.1 1378.4h0M113.4 1371.5h0M99.8 1373.1h0M79.7 1410.2h0M140.2 1358.1h0M127.6 1365.7h0M108.9 1370.7h0M55.3 1332.4h0M146.5 1358.7h0M191 1332.2h0M120.2 1363.8h0M163.4 1346.9h0M95.5 1375.2h0M85.7 1368.6h0M111.8 1370h0M184.4 1336.7h0M98 1384.9h0M137.2 1357.6h0M125.7 1367.4h0M120.4 1368.6h0M76.7 1409.9h0M62.9 1339.9h0M101.3 1377.9h0M103.9 1372h0M99.5 1375.2h0M175.1 1334.8h0M123.1 1364.1h0M154 1355.1h0M129.8 1362.9h0M98.5 1376.2h0M189.8 1327.4h0M136.9 1362h0M87.2 1400.1h0M126.5 1366.8h0M200.8 1326.2h0M139.1 1363h0M99 1375.1h0M179.1 1340.2h0M135.8 1360.6h0M180.2 1338.5h0M135.2 1357.4h0M96.3 1374.8h0M87.6 1400.4h0M143.8 1356h0M117.7 1368.1h0M95.9 1378.8h0M101.6 1375.5h0M79 1399.4h0M191.4 1332.2h0M78.9 1409.3h0M82.3 1383.8h0M77 1368.1h0M116.6 1373.6h0M132.1 1359.4h0M103.2 1372.9h0M115.3 1372.5h0M94.8 1375.4h0M197.4 1327.1h0M149.9 1356.6h0M131.2 1360.7h0M116.9 1366.5h0M104.2 1377.4h0M140.1 1362.6h0M128 1360.1h0M147.7 1357.4h0M153.3 1354.3h0M85.1 1376.4h0M106.5 1370.4h0M137.9 1356.5h0M111 1371.6h0" stroke="#e9a052" stroke-width="3.4" stroke-linecap="round" fill="none"/>
<path d="M49.6 1302.6h0M62.4 1337.4h0M51.8 1317.6h0M55 1322.2h0M107.4 1368.6h0M76 1361.6h0M58.4 1333h0M106.2 1367.9h0M135.3 1357.4h0M98.9 1376.1h0M133.2 1354.4h0M85 1405.1h0M139.9 1363.3h0M78.2 1414.7h0M61.7 1345h0M79.5 1383.5h0M80.7 1400.7h0M49 1305.7h0M56.2 1322.4h0M194.9 1330.6h0M76.8 1410.6h0M58.5 1336.8h0M78 1364.5h0M141 1364.5h0M45.7 1311.7h0M107.8 1368.3h0M82.8 1398.9h0M123.1 1364.6h0M134.3 1364.1h0M120.1 1368h0M77.2 1424.7h0M112.7 1372.2h0M107.2 1374.1h0M76 1396.8h0M87.1 1387.7h0M95.8 1376.6h0M159.4 1348h0M120.1 1367h0M113.3 1365.6h0M164.1 1348.6h0M68.8 1351.6h0M76.8 1415h0M82.1 1419.4h0M72.1 1353.6h0M78.4 1418.5h0M153.5 1348.5h0M170.3 1342.7h0M122.3 1362.9h0M37.1 1259.8h0M95 1382.1h0M87.3 1377.3h0M108.8 1363.3h0M102.3 1370.1h0M76.8 1428.7h0M125.7 1363.8h0M98.3 1388.4h0M89.6 1375.9h0M76 1399.7h0M83.7 1366.7h0M82.4 1414.2h0M79 1431.8h0M82.1 1404.3h0M154.7 1354.6h0M93.4 1377.7h0M135.2 1366h0M63.7 1336.9h0M123 1362.3h0M157.3 1350.2h0M185.3 1337.8h0M88.6 1378.3h0M110.3 1374.2h0M67.7 1354.4h0M158 1352.5h0M167.3 1345.2h0M152.5 1353.5h0M82.2 1409.8h0M138.4 1364.1h0M56.8 1339.4h0M124.2 1367.9h0M135 1358h0M62.6 1343h0M165.3 1342.7h0M77 1426h0M88.3 1378.1h0M79 1431.6h0M62 1349.4h0M85.3 1372.2h0M162.1 1352h0M65.8 1350.2h0M83.2 1368.5h0M84.8 1377.6h0M141.7 1350.3h0M82.4 1404.6h0M48.4 1304.8h0M171.6 1343.2h0M146 1350.9h0M105.7 1378.3h0M76.4 1361h0M67.4 1351.4h0M75.8 1359.1h0M134 1359.6h0M111 1381.4h0M81.8 1411.1h0M137.8 1358.2h0M189.4 1333.9h0M47.3 1325.2h0M68.3 1351.1h0M57 1334.9h0M74.5 1401.6h0M80.6 1413.6h0M91.3 1376.8h0M90.4 1378.3h0M79.4 1431.3h0M119.3 1364.3h0M140.3 1356.7h0M79.2 1426.2h0M60.7 1330.7h0M168.9 1342.4h0M80.8 1428.4h0M110.7 1376.6h0M75.2 1352.4h0M56.1 1329.2h0M88.1 1378.1h0M88.3 1389.7h0M127.6 1358h0M90.4 1392.5h0M61.5 1334.4h0M155.3 1352.8h0M133.3 1366.3h0M94.5 1381.9h0M53.1 1317.3h0M53.9 1323.8h0M102.9 1373.2h0M167.8 1346h0M87.8 1377.3h0M157.2 1349.5h0M79.7 1413.5h0M66.1 1358.5h0M179.5 1339.6h0M147.2 1360.4h0M64.4 1349.1h0M73.4 1353.9h0M83.8 1411.3h0M153.7 1352.7h0M61.7 1344.4h0M200.3 1327.7h0M84.7 1385.1h0M140.1 1359.1h0M87 1383h0M126.7 1370.5h0M97.5 1375.9h0M91.6 1379.3h0M49.5 1318.1h0M122.8 1368.4h0M92.7 1395.6h0M79.7 1428.7h0M78.3 1415.2h0M162.6 1346.2h0M91.6 1378h0M51.1 1318.5h0M152.4 1361.4h0M168.2 1341.7h0M88.8 1390.4h0M169.9 1343.8h0M54.2 1322.2h0M91.8 1389.4h0M121.9 1363.2h0M74.2 1360.7h0M79.6 1407.1h0M106.9 1376.6h0M163.6 1344.5h0M65.1 1345.5h0M91.4 1374.8h0M181.4 1337.9h0M158.6 1348.8h0M81.1 1369.7h0M55.5 1325.8h0M121.9 1370.8h0M171.3 1344.4h0M58.4 1342.8h0M81.2 1404.4h0M93.7 1379.2h0M83 1373.8h0M70 1351.6h0M74 1418h0M92.7 1376.8h0M84.7 1375.1h0M45 1304.7h0M47.5 1318.1h0M81.2 1399.9h0M90.6 1380.2h0M82.8 1371.9h0M87.5 1390h0M176.4 1340.6h0M106.9 1375.8h0M72.3 1358.8h0M78.8 1369.6h0M169.3 1341.9h0M146.5 1352.6h0M164.5 1347.6h0M70.2 1354.3h0M171.5 1342h0M69.7 1352.5h0M87.4 1375.9h0M59.5 1341.7h0M84.2 1402.1h0M81.3 1422.2h0M50.8 1303h0M76.9 1414.9h0M163 1348.3h0M105.7 1370.7h0M95.1 1379h0M54.7 1332.1h0M85.9 1385.3h0M58.3 1344.4h0M91.6 1379.1h0M107.4 1372.2h0M78.8 1428.3h0M91.7 1381.7h0M47.5 1318.5h0M87.7 1378.8h0" stroke="#d56a6c" stroke-width="3.4" stroke-linecap="round" fill="none"/>
<path d="M146.3 1345.9h0M38.6 1259.8h0M34.8 1257.2h0M49.6 1311.8h0M46.6 1308.8h0M39 1256.5h0M49.4 1310.4h0M34.4 1262.4h0M50.7 1326.5h0M42.3 1271.9h0M145.9 1346.9h0M80.2 1367.8h0M40.1 1257.6h0M148.5 1345.7h0M51.8 1313.4h0M147.9 1339.3h0M145.4 1346.8h0M44.9 1302.8h0M149.5 1343.6h0M43.8 1269.2h0M40.3 1265.6h0M147.9 1346.8h0M39.2 1280h0M145.3 1343.7h0M77.2 1364.8h0M46.3 1296.3h0M77.4 1365.5h0M36 1271.3h0M44.6 1292.4h0M66.9 1352h0M44.2 1284.1h0M39.5 1259.6h0M80.9 1365.8h0M45.4 1295.5h0M45.4 1298.1h0M48.4 1307.4h0M47.9 1313.1h0M45.1 1282.6h0M39.1 1274.6h0M44.7 1278.1h0M42.2 1272.3h0M66.2 1343h0M43.3 1284h0M41.9 1288.7h0M45.6 1297.3h0M149.3 1344.2h0M145.2 1345.3h0M46.9 1288.6h0M43.1 1282.6h0M147.4 1344.8h0M44.9 1306.6h0M46.8 1290.2h0M46.9 1299.9h0M46.5 1299.9h0M146.2 1343.4h0M43.8 1265.8h0M40.5 1274.1h0M38.9 1256h0M70.3 1353.9h0M147.8 1347.8h0M34.8 1277.8h0M47.6 1298.3h0M148.7 1349.1h0M42.3 1262.9h0M147.6 1344.5h0M41.3 1293.4h0M62.8 1339.8h0M38.8 1256.8h0M37.7 1258.7h0M149.6 1341.9h0M49.4 1302.5h0M48.4 1312.3h0M45.7 1310.2h0M61.5 1346.6h0M40.8 1267.9h0" stroke="#7fc09c" stroke-width="3.4" stroke-linecap="round" fill="none"/>
<path d="M127 1368.1h0M79.9 1424h0M129.8 1373.8h0M142.2 1359.2h0M71.9 1403.6h0M106.3 1373.7h0M129.1 1361.6h0M141.4 1355.9h0M140.1 1356h0M79.2 1433h0M181.9 1338.3h0M109.8 1372.7h0M96.5 1373.6h0M143.9 1355.7h0M129.3 1368.9h0M52 1315.6h0M140.2 1355.7h0M146.9 1353.2h0M137.9 1361.6h0M56.2 1325.1h0M105 1373.5h0M107.5 1368.7h0M83.7 1377h0M167.6 1346.2h0M114.9 1370.5h0M96.8 1383.5h0M141.2 1356.5h0M145.7 1353.6h0M99.8 1373.3h0M104 1375.7h0M138.4 1360.3h0M142.2 1361.7h0M99.7 1374.7h0M109.7 1369.2h0M152.2 1355.9h0M115.9 1367.4h0M141.9 1354.5h0M132.1 1361.5h0M124.7 1361.5h0M83.6 1413.9h0M111.6 1370.2h0M139.7 1362.7h0M87.8 1372.7h0M156.7 1351.6h0M77.7 1429.2h0M164.2 1345.4h0M187.5 1337.6h0M139 1361.1h0M129.1 1363h0M119.5 1370.3h0M152.2 1355.4h0M82.2 1374.6h0M101.1 1372.3h0M99.2 1368.9h0M101.7 1378.4h0M82 1372.7h0M136.3 1363.9h0M109 1373.8h0M168.4 1347.9h0M117.9 1367.5h0M114.8 1372.2h0M111.5 1374.8h0M132.1 1362.8h0M115.3 1368.6h0M113.2 1370.8h0M80.8 1412.6h0M170.4 1343.8h0M78.1 1433.7h0M52.1 1316.6h0M148.2 1360.2h0M163.4 1349.1h0M97.2 1374.3h0M174 1343.8h0M111.8 1372.5h0M144.4 1357.3h0M146.1 1359.6h0M144.7 1359.1h0M185.9 1335.6h0M118.4 1367.7h0M130.1 1364.7h0M114.9 1367.7h0M95.1 1376.9h0M144.6 1353.2h0M139 1356.6h0M120.8 1370.7h0M144.7 1353h0M88.1 1389.9h0M141.5 1361.4h0M141 1356.9h0M138.6 1360.4h0M68.3 1353.7h0M178.2 1341.1h0M101.4 1376.2h0M119.8 1368.5h0M101.1 1374h0M172.4 1343.7h0M121.4 1367.8h0M145.6 1360.1h0M136.8 1360.2h0M114 1374.1h0M79 1430.9h0M133.6 1363.9h0M84.7 1376.9h0M126 1365.6h0M99.8 1372.5h0M101.4 1372.6h0M169.2 1345.7h0M172 1343.1h0M124.3 1366.6h0M118.8 1366.9h0M117.8 1368.1h0M54.3 1325.5h0" stroke="#e9a052" stroke-width="3.4" stroke-linecap="round" fill="none"/>
<path d="M156.4 1346.9h0M193.9 1326.4h0M158.5 1347.2h0M165 1345.9h0M156.5 1347h0M200.6 1317.9h0M210.9 1316.7h0M193.5 1324.5h0M211.1 1322h0M217.3 1313.6h0M195.5 1324.2h0M210.1 1315.9h0M195.7 1319.8h0M213 1310h0M214.7 1318.6h0M194.8 1322.7h0M169.3 1333.9h0M181.2 1335.1h0M161 1344.5h0M182.6 1334h0M206.3 1313.7h0M175.7 1333.6h0M176.8 1338.7h0M171 1336.2h0M189.3 1328h0M174 1335.7h0M180.2 1334.7h0M150.4 1350.6h0M159.3 1344.1h0M174.2 1338.4h0M187.2 1326.9h0M204.8 1316.5h0M156.6 1346.9h0M150.8 1349.6h0M192.5 1334.6h0M196.1 1327.3h0M179.5 1336.9h0M200.8 1320h0M169.6 1340h0M192.5 1325.1h0M212.4 1311h0M161.6 1342.3h0M153.8 1347.9h0M215.9 1311.4h0M150.9 1348.7h0M204.8 1318.8h0M167.7 1340h0M168 1336.2h0M193.9 1325h0M172.3 1340.3h0M188.8 1327.5h0M159.8 1345.4h0M181.4 1331.9h0M202.1 1320.6h0M203.1 1325h0M212.1 1323h0M174.6 1330.7h0M195.7 1324.5h0M169.8 1338.1h0M177.5 1333.4h0M189.5 1320.5h0M218.3 1309.7h0M174.4 1336.9h0M215.6 1309.7h0M213.8 1319h0M196.3 1322.2h0M150.1 1350.2h0M163.4 1346.5h0M200.6 1317.7h0M185.9 1326.4h0M194.5 1325h0M162.6 1338.9h0M210.2 1318h0M149.6 1347.3h0M197.1 1322.2h0M203.6 1317.1h0M203.2 1324.2h0M154.8 1342.4h0M187.9 1327.8h0M181 1331.8h0M189.8 1329.4h0M158.7 1343.8h0M177.8 1328.3h0M170.7 1339.8h0M159.2 1347h0M172 1336.6h0M189.5 1325.5h0M195.8 1320.7h0M192.3 1329.6h0M169.8 1339.3h0M216.8 1311.4h0M179.5 1335.3h0M195.5 1322.9h0M180.3 1335.4h0M181.6 1334.2h0M164.8 1334.9h0M209.4 1317.2h0M184.6 1328.5h0M192.6 1328.2h0M207.8 1313.8h0M214.7 1321.1h0M190.8 1327.6h0M171.7 1337.6h0M153.4 1347.7h0M198.5 1317h0M194.2 1325.1h0M160.3 1345.1h0M158.8 1346.3h0M173.9 1338.3h0M216.6 1313.8h0M187.1 1324.6h0M169.4 1338.6h0M197.4 1325.4h0M185.6 1333.5h0M194.3 1320.7h0M216.7 1317.5h0M206.9 1318.4h0M177.7 1334.9h0M182.8 1330.9h0M192.3 1339.6h0M154.5 1344.5h0M182 1330.5h0M213.8 1315.5h0M148.6 1351.6h0M176.4 1334.2h0M209 1308.6h0M203.5 1314.9h0M200.5 1323.6h0M151.9 1349.5h0M173.5 1333h0M155.7 1344.7h0M201.1 1316.5h0M172.4 1333.2h0M202.1 1318.3h0M201.3 1318.3h0M184.5 1329.4h0M170.3 1342.2h0M197.5 1330.1h0" stroke="#b07ac5" stroke-width="3.4" stroke-linecap="round" fill="none"/>
<circle cx="148.2" cy="1351.6" r="3.2" fill="#0a0a0a"/>
<text x="148.2" y="1353.1" font-size="4.2" fill="#fff" text-anchor="middle" font-weight="bold">1</text>
<circle cx="88.7" cy="1376.4" r="3.2" fill="#0a0a0a"/>
<text x="88.7" y="1377.9" font-size="4.2" fill="#fff" text-anchor="middle" font-weight="bold">2</text>
<line x1="24.3" y1="1452.2" x2="24.3" y2="1411.3" stroke="#222" stroke-width="2.1"/>
<polygon points="24.3,1404 28.5,1413.3 24.3,1411.6 20.1,1413.3" fill="#222"/>
<line x1="23.2" y1="1451.2" x2="64.3" y2="1451.2" stroke="#222" stroke-width="2.1"/>
<polygon points="71.6,1451.2 62.3,1455.4 64,1451.2 62.3,1447" fill="#222"/>
<text x="17.6" y="1469" font-size="13.4" fill="#111">Component 1</text>
<text x="11.9" y="1415.5" font-size="13.4" fill="#111" text-anchor="middle" transform="rotate(-90 11.9 1415.5)">Component 2</text>
<path d="M150.4 1327.7C118 1344 90 1348 84.3 1326.5" fill="none" stroke="#1a1a1a" stroke-width="2.7"/>
<polygon points="80.4,1317 89.1,1325.6 83.7,1325 80.2,1329.2" fill="#1a1a1a"/>
<path d="M148.2 1378.4C132.5 1387.2 107.6 1405.8 104.6 1421.5" fill="none" stroke="#1a1a1a" stroke-width="2.7"/>
<polygon points="102.8,1430.9 100.1,1419.6 104.3,1423.1 109.5,1421.4" fill="#1a1a1a"/>
<rect x="292.9" y="920.5" width="3" height="19.5" fill="#111"/>
<text x="430.3" y="926.7" font-size="13.55" fill="#111" text-anchor="middle">Tissue types</text>
<circle cx="325.8" cy="948.8" r="4.2" fill="#7fc09c"/>
<text x="334" y="953.6" font-size="13.5" fill="#111">NL</text>
<circle cx="363.9" cy="948.8" r="4.2" fill="#d56a6c"/>
<text x="372.1" y="953.6" font-size="13.5" fill="#111">LM</text>
<circle cx="405.1" cy="948.8" r="4.2" fill="#e9a052"/>
<text x="413.3" y="953.6" font-size="13.5" fill="#111">CRC</text>
<circle cx="455.3" cy="948.8" r="4.2" fill="#5a9bd8"/>
<text x="464" y="953.6" font-size="13.5" fill="#111">NC</text>
<circle cx="495.6" cy="948.8" r="4.2" fill="#b07ac5"/>
<text x="503.3" y="953.6" font-size="13.5" fill="#111">PBMC</text>
<text x="434.3" y="992.2" font-size="13.3" fill="#111" text-anchor="middle" font-style="italic">C1QC</text>
<path d="M543.9 1022.7v3.1M519.2 1043.4v3.1M525 1043.4v3.1M494.6 1043.4v3.1M532.3 1043.4v3.1M497.5 1043.4v3.1M491.7 1043.4v3.1M516.3 1043.4v3.1M488.8 1043.4v3.1M538.1 1022.7v3.1M501.8 1043.4v3.1M545.3 1043.4v3.1M500.4 1043.4v3.1M527.9 1043.4v3.1M484.4 1022.7v3.1M501.8 1022.7v3.1M539.5 1043.4v3.1" stroke="#b583c8" stroke-width="2.05" stroke-linecap="round" fill="none"/>
<path d="M449.6 1011.1v7.9M459.8 1043.4v3.1M417.7 1013.6v5.4M507.6 1043.4v3.1M478.6 1012.7v6.3M385.8 1022.7v3.1M426.4 1043.4v3.1M414.8 1022.7v3.1M471.4 1022.7v3.1M458.3 1043.4v3.1M483 1014v5M461.2 1022.7v3.1M451.1 1015.6v3.4M409 1002.8v6M455.4 1022.7v3.1M469.9 1022.7v3.1M462.7 1012.2v6.8M409 1043.4v3.1M378.6 1043.4v3.1M472.8 1015v4M365.5 1022.7v3.1M413.4 1022.7v3.1M416.3 1009.9v9.1M443.8 1043.4v3.1M371.3 1009.8v9.2M443.8 1022.7v3.1M477.2 1022.7v3.1M430.8 1043.4v3.1M435.1 1003.8v15.1M459.8 1022.7v3.1M448.2 1013.2v5.7M394.5 1013.5v5.4" stroke="#eba95f" stroke-width="2.05" stroke-linecap="round" fill="none"/>
<path d="M393.1 1043.4v3.1M369.9 1043.4v3.1M349.6 1003.6v10.6M430.8 1002v4.6M530.8 1043.4v3.1M468.5 1009.5v4.9M419.2 1043.4v3.1M411.9 1010.6v8.4M422.1 1022.7v3.1M362.6 1011.2v7.8M391.6 1008.2v10.8M487.3 1043.4v3.1M449.6 1043.4v3.1M411.9 1022.7v3.1M430.8 1006.5v12.5M443.8 1013.3v5.7M388.7 1043.4v3.1M378.6 1022.7v3.1M365.5 1043.4v3.1M352.5 1004.3v8.1M452.5 1001.8v17.2M381.5 1022.7v3.1M411.9 1043.4v3.1M400.3 1005.1v10.6M358.3 1043.4v3.1M384.4 1003.7v15.3M374.2 1043.4v3.1M368.4 1022.7v3.1M433.7 1002.6v11.4M483 1008.3v5.7M419.2 1022.7v3.1M485.9 1043.4v3.1M454 1022.7v3.1M371.3 1004.5v5.3M382.9 1008.9v10.1M406.1 1003.2v12.4M393.1 1011.4v7.6M355.4 1003.4v7.8M372.8 1002.5v7.9M403.2 1022.7v3.1M401.8 1043.4v3.1M430.8 1022.7v3.1M358.3 1015v4M361.2 1015v4M416.3 1043.4v3.1M432.2 1043.4v3.1M364.1 1003.8v3.7M382.9 1022.7v3.1M384.4 1043.4v3.1M391.6 1004.3v3.8M438 1008.4v10.6M458.3 1003.4v15.6M422.1 1043.4v3.1M368.4 1043.4v3.1M427.9 1022.7v3.1M407.6 1013.2v5.8M472.8 1043.4v3.1M372.8 1043.4v3.1M468.5 1022.7v3.1M378.6 1005.1v3M448.2 1043.4v3.1M417.7 1005v8.6M422.1 1005.4v4.2M410.5 1003.2v4.9M404.7 1012.4v6.6M361.2 1003.5v11.5M353.9 1003.5v15.5M420.6 1022.7v3.1M425 1043.4v3.1M452.5 1022.7v3.1M468.5 1014.4v4.6M400.3 1043.4v3.1M381.5 1043.4v3.1M432.2 1005.2v3.8M465.6 1043.4v3.1M462.7 1022.7v3.1M406.1 1015.6v3.4M423.5 1010.1v8.9M419.2 1004.8v7M459.8 1003.7v7.7M394.5 1043.4v3.1M377.1 1043.4v3.1M397.4 1043.4v3.1M456.9 1003v12M451.1 1022.7v3.1M364.1 1007.5v11.5M542.4 1043.4v3.1M432.2 1022.7v3.1M436.6 1022.7v3.1M351 1043.4v3.1M420.6 1002.6v16.4M401.8 1014.9v4M454 1043.4v3.1M440.9 1003.9v7.2M432.2 1009v10M475.7 1043.4v3.1M384.4 1022.7v3.1M401.8 1004v11M398.9 1043.4v3.1M375.7 1003v16M446.7 1006.2v12.8M380 1012.9v6.1M355.4 1022.7v3.1M445.3 1015.9v3.1M390.2 1022.7v3.1M436.6 1013.4v5.6M367 1005v8.1M400.3 1015.7v3.3M355.4 1011.2v7.8M401.8 1022.7v3.1M436.6 1006.3v7.1M455.4 1004.7v14.3M406.1 1043.4v3.1M417.7 1043.4v3.1M490.2 1043.4v3.1M409 1008.9v10.1" stroke="#d97173" stroke-width="2.05" stroke-linecap="round" fill="none"/>
<path d="M326.4 1005.2v4M346.7 1003.6v15.4M340.9 1004.5v5.8M480.1 1043.4v3.1M345.2 1009.4v9.6M339.4 1004.3v7.7M339.4 1022.7v3.1M323.5 1013v6M351 1003.1v15.9M332.2 1004.5v14.5M320.6 1043.4v3.1M336.5 1012v7M335.1 1004.2v7.1M326.4 1009.2v9.7M323.5 1004.5v8.5M484.4 1043.4v3.1M391.6 1022.7v3.1M474.3 1022.7v3.1M393.1 1022.7v3.1M483 1043.4v3.1M329.3 1022.7v3.1M323.5 1043.4v3.1M345.2 1003v6.4M333.6 1005.2v13.8M330.7 1005.4v13.6M385.8 1043.4v3.1M327.8 1043.4v3.1M342.3 1006.4v12.6M332.2 1043.4v3.1M329.3 1003.6v15.4M351 1022.7v3.1M326.4 1043.4v3.1M320.6 1004.4v14.6M342.3 1043.4v3.1" stroke="#86c4a3" stroke-width="2.05" stroke-linecap="round" fill="none"/>
<path d="M454 1004.1v7.4M425 1022.7v3.1M464.1 1022.7v3.1M455.4 1043.4v3.1M472.8 1006.9v8.1M472.8 1022.7v3.1M456.9 1015v4M448.2 1022.7v3.1M451.1 1043.4v3.1M414.8 1003v16M429.3 1043.4v3.1M456.9 1022.7v3.1M478.6 1022.7v3.1M454 1011.5v7.5M448.2 1006.9v6.3M451.1 1004.8v10.8M398.9 1009.1v9.9M445.3 1022.7v3.1M420.6 1043.4v3.1M458.3 1022.7v3.1M410.5 1008.2v10.8M361.2 1043.4v3.1M407.6 1022.7v3.1M423.5 1022.7v3.1M433.7 1022.7v3.1M452.5 1043.4v3.1" stroke="#eba95f" stroke-width="2.05" stroke-linecap="round" fill="none"/>
<path d="M423.5 1003.2v6.8M322.1 1043.4v3.1M449.6 1022.7v3.1M348.1 1043.4v3.1M322.1 1005v14M324.9 1003.2v9.9M446.7 1043.4v3.1M330.7 1043.4v3.1M324.9 1013.1v5.9M345.2 1043.4v3.1M335.1 1043.4v3.1M335.1 1011.3v7.7M484.4 1012v7M339.4 1043.4v3.1M326.4 1022.7v3.1M349.6 1043.4v3.1M340.9 1043.4v3.1M446.7 1022.7v3.1M343.8 1043.4v3.1M340.9 1010.4v8.6M333.6 1043.4v3.1M336.5 1004.7v7.3M469.9 1011.7v7.3M343.8 1005.5v9.6M338 1015.4v3.6M338 1004.6v10.8M336.5 1043.4v3.1M324.9 1043.4v3.1M332.2 1022.7v3.1M438 1003.8v4.6M349.6 1014.3v4.7M445.3 1004.6v11.3M327.8 1010.8v8.2M329.3 1043.4v3.1M327.8 1006.4v4.5M338 1043.4v3.1M343.8 1022.7v3.1" stroke="#86c4a3" stroke-width="2.05" stroke-linecap="round" fill="none"/>
<path d="M427.9 1043.4v3.1M378.6 1008.1v10.9M371.3 1043.4v3.1M442.4 1022.7v3.1M436.6 1043.4v3.1M358.3 1004.5v10.5M353.9 1043.4v3.1M427.9 1013.4v5.5M356.8 1043.4v3.1M398.9 1004.3v4.8M352.5 1043.4v3.1M356.8 1004v4.4M414.8 1043.4v3.1M464.1 1043.4v3.1M467 1043.4v3.1M426.4 1002.9v16.1M377.1 1022.7v3.1M403.2 1043.4v3.1M343.8 1015.1v3.9M442.4 1043.4v3.1M364.1 1043.4v3.1M369.9 1005.4v4.7M440.9 1022.7v3.1M390.2 1043.4v3.1M391.6 1043.4v3.1M362.6 1043.4v3.1M394.5 1022.7v3.1M449.6 1004.8v6.4M367 1013v5.9M417.7 1022.7v3.1M410.5 1043.4v3.1M425 1010.1v8.9M382.9 1003.5v5.5M388.7 1002.9v16.1M396 1002.9v16.1M407.6 1003.1v10M464.1 1011.8v7.2M365.5 1003.5v15.5M416.3 1022.7v3.1M362.6 1006.2v5M359.7 1043.4v3.1M459.8 1011.4v7.6M406.1 1022.7v3.1M390.2 1004.5v9.7M387.3 1014v5M380 1043.4v3.1M413.4 1043.4v3.1M374.2 1004.1v14.9M393.1 1004.2v7.2M429.3 1022.7v3.1M471.4 1043.4v3.1M327.8 1022.7v3.1M359.7 1004.1v14.9M352.5 1012.4v6.6M348.1 1002.7v7.6M474.3 1043.4v3.1M407.6 1043.4v3.1M404.7 1005.5v6.9M387.3 1003.1v10.9M404.7 1043.4v3.1M369.9 1010.1v8.9M442.4 1004.2v14.8M388.7 1022.7v3.1M433.7 1043.4v3.1M380 1022.7v3.1M377.1 1015.3v3.7M382.9 1043.4v3.1M504.7 1043.4v3.1M403.2 1008.6v10.3M440.9 1011.1v7.9M339.4 1012v7M471.4 1006.7v12.3M445.3 1043.4v3.1M416.3 1004.4v5.5M390.2 1014.2v4.8M443.8 1003.9v9.4M372.8 1010.4v8.6M394.5 1003.3v10.2M380 1004.8v8.1M381.5 1004.4v14.6M397.4 1002.7v16.3M385.8 1004.3v14.7M425 1003.4v6.7M403.2 1004.7v4M377.1 1004.5v10.8M435.1 1022.7v3.1M462.7 1043.4v3.1M477.2 1016.6v2.4M413.4 1002.9v16.1M433.7 1014v4.9M439.5 1022.7v3.1M400.3 1022.7v3.1M419.2 1011.8v7.1M411.9 1005.6v5M427.9 1004.9v8.6M469.9 1043.4v3.1M440.9 1043.4v3.1M439.5 1004.5v14.4M478.6 1043.4v3.1M438 1043.4v3.1M387.3 1043.4v3.1M429.3 1003.3v15.7M477.2 1043.4v3.1M368.4 1003.7v15.3M465.6 1022.7v3.1M356.8 1008.3v10.7M398.9 1022.7v3.1M348.1 1010.3v8.6M422.1 1009.6v9.4M375.7 1043.4v3.1M423.5 1043.4v3.1" stroke="#d97173" stroke-width="2.05" stroke-linecap="round" fill="none"/>
<path d="M514.9 1043.4v3.1M523.6 1043.4v3.1M513.4 1043.4v3.1M543.9 1043.4v3.1M506.2 1016.6v2.4M520.7 1043.4v3.1M487.3 1022.7v3.1M541 1043.4v3.1M510.5 1043.4v3.1M546.8 1043.4v3.1M522.1 1043.4v3.1M538.1 1043.4v3.1M533.7 1022.7v3.1M517.8 1043.4v3.1M498.9 1043.4v3.1M496 1043.4v3.1M517.8 1022.7v3.1M503.3 1043.4v3.1M529.4 1043.4v3.1M506.2 1043.4v3.1M526.5 1043.4v3.1M527.9 1022.7v3.1M533.7 1043.4v3.1M493.1 1043.4v3.1" stroke="#b583c8" stroke-width="2.05" stroke-linecap="round" fill="none"/>
<line x1="308.3" y1="1001.2" x2="308.3" y2="1046.7" stroke="#222" stroke-width="1.4"/>
<line x1="305" y1="1003.5" x2="308.3" y2="1003.5" stroke="#222" stroke-width="1.2"/>
<text x="303.2" y="1007.9" font-size="12.7" fill="#444" text-anchor="end">10.0</text>
<line x1="305" y1="1024.2" x2="308.3" y2="1024.2" stroke="#222" stroke-width="1.2"/>
<text x="303.2" y="1028.6" font-size="12.7" fill="#444" text-anchor="end">1.0</text>
<line x1="305" y1="1044.9" x2="308.3" y2="1044.9" stroke="#222" stroke-width="1.2"/>
<text x="303.2" y="1049.3" font-size="12.7" fill="#444" text-anchor="end">0.1</text>
<path d="M320 1012.4L321.1 1012.4L322.3 1012.4L323.4 1012.4L324.5 1012.4L325.7 1012.4L326.8 1012.4L328 1012.4L329.1 1012.4L330.2 1012.4L331.4 1012.4L332.5 1012.4L333.6 1012.4L334.8 1012.5L335.9 1012.5L337 1012.5L338.2 1012.5L339.3 1012.5L340.5 1012.5L341.6 1012.5L342.7 1012.5L343.9 1012.5L345 1012.5L346.1 1012.6L347.3 1012.6L348.4 1012.6L349.5 1012.6L350.7 1012.6L351.8 1012.7L353 1012.7L354.1 1012.7L355.2 1012.7L356.4 1012.8L357.5 1012.8L358.6 1012.8L359.8 1012.9L360.9 1012.9L362 1012.9L363.2 1013L364.3 1013L365.5 1013.1L366.6 1013.1L367.7 1013.1L368.9 1013.2L370 1013.2L371.1 1013.3L372.3 1013.3L373.4 1013.4L374.5 1013.4L375.7 1013.5L376.8 1013.6L378 1013.6L379.1 1013.7L380.2 1013.7L381.4 1013.8L382.5 1013.9L383.6 1013.9L384.8 1014L385.9 1014.1L387 1014.1L388.2 1014.2L389.3 1014.3L390.5 1014.4L391.6 1014.5L392.7 1014.5L393.9 1014.6L395 1014.7L396.1 1014.8L397.3 1014.9L398.4 1015L399.5 1015.1L400.7 1015.2L401.8 1015.3L403 1015.4L404.1 1015.5L405.2 1015.6L406.4 1015.8L407.5 1015.9L408.6 1016L409.8 1016.2L410.9 1016.3L412 1016.4L413.2 1016.6L414.3 1016.7L415.5 1016.8L416.6 1017L417.7 1017.1L418.9 1017.3L420 1017.4L421.1 1017.6L422.3 1017.8L423.4 1017.9L424.5 1018.1L425.7 1018.3L426.8 1018.5L428 1018.7L429.1 1018.9L430.2 1019.1L431.4 1019.3L432.5 1019.5L433.6 1019.7L434.8 1020L435.9 1020.2L437 1020.5L438.2 1020.8L439.3 1021.1L440.5 1021.4L441.6 1021.7L442.7 1022.1L443.9 1022.5L445 1022.9L446.1 1023.3L447.3 1023.7L448.4 1024.2L449.5 1024.6L450.7 1025.1L451.8 1025.5L453 1026L454.1 1026.5L455.2 1027L456.4 1027.5L457.5 1028L458.6 1028.5L459.8 1029.1L460.9 1029.7L462 1030.3L463.2 1030.9L464.3 1031.6L465.5 1032.2L466.6 1032.9L467.7 1033.6L468.9 1034.3L470 1035.1L471.1 1035.9L472.3 1036.7L473.4 1037.5L474.5 1038.3L475.7 1039.2L476.8 1040L478 1040.8L479.1 1041.6L480.2 1042.4L481.4 1043.2L482.5 1044L483.6 1044.8L484.8 1044.9L485.9 1044.9L487 1044.9L488.2 1044.9L489.3 1044.9L490.5 1044.9L491.6 1044.9L492.7 1044.9L493.9 1044.9L495 1044.9L496.1 1044.9L497.3 1044.9L498.4 1044.9L499.5 1044.9L500.7 1044.9L501.8 1044.9L503 1044.9L504.1 1044.9L505.2 1044.9L506.4 1044.9L507.5 1044.9L508.6 1044.9L509.8 1044.9L510.9 1044.9L512 1044.9L513.2 1044.9L514.3 1044.9L515.5 1044.9L516.6 1044.9L517.7 1044.9L518.9 1044.9L520 1044.9L521.1 1044.9L522.3 1044.9L523.4 1044.9L524.5 1044.9L525.7 1044.9L526.8 1044.9L528 1044.9L529.1 1044.9L530.2 1044.9L531.4 1044.9L532.5 1044.9L533.6 1044.9L534.8 1044.9L535.9 1044.9L537 1044.9L538.2 1044.9L539.3 1044.9L540.5 1044.9L541.6 1044.9L542.7 1044.9L543.9 1044.9L545 1044.9L546.1 1044.9L547.3 1044.9" fill="none" stroke="#050505" stroke-width="2.6" stroke-linejoin="round"/>
<text x="434.3" y="1074.5" font-size="13.3" fill="#111" text-anchor="middle" font-style="italic">FCN1</text>
<path d="M323.5 1125.7v3.1M349.6 1098.9v2.4M346.7 1125.7v3.1M339.4 1125.7v3.1M343.8 1105v3.1M324.9 1105v3.1M422.1 1125.7v3.1M340.9 1096.5v4.8M335.1 1125.7v3.1M329.3 1125.7v3.1M322.1 1125.7v3.1M332.2 1125.7v3.1M332.2 1105v3.1M484.4 1105v3.1M322.1 1105v3.1M407.6 1105v3.1M348.1 1125.7v3.1M452.5 1125.7v3.1M330.7 1084.7v16.6M491.7 1105v3.1M330.7 1105v3.1M342.3 1095.9v5.4M320.6 1105v3.1M346.7 1097.6v3.7M336.5 1125.7v3.1M340.9 1125.7v3.1M490.2 1105v3.1M324.9 1125.7v3.1M323.5 1105v3.1M401.8 1097.7v3.6M351 1105v3.1M343.8 1125.7v3.1M484.4 1125.7v3.1" stroke="#86c4a3" stroke-width="2.05" stroke-linecap="round" fill="none"/>
<path d="M362.6 1105v3.1M417.7 1125.7v3.1M425 1094.5v6.8M480.1 1096.3v5M458.3 1105v3.1M506.2 1105v3.1M464.1 1090.1v4.5M474.3 1105v3.1M423.5 1093.7v7.6M400.3 1088.8v12.5M353.9 1105v3.1M364.1 1105v3.1M396 1095.2v6.1M433.7 1125.7v3.1M394.5 1098.4v2.9M409 1105v3.1M381.5 1105v3.1M410.5 1105v3.1M480.1 1125.7v3.1M400.3 1105v3.1M396 1125.7v3.1M446.7 1105v3.1M388.7 1105v3.1M390.2 1125.7v3.1M446.7 1096.1v5.2M420.6 1091.7v9.6M527.9 1087v8.6M449.6 1125.7v3.1M356.8 1105v3.1M474.3 1092.8v5.5M355.4 1125.7v3.1M435.1 1105v3.1M468.5 1092v5.6M483 1096.7v4.6M375.7 1098.9v2.4M390.2 1105v3.1M368.4 1125.7v3.1M490.2 1088.6v6.6M369.9 1105v3.1M404.7 1125.7v3.1M384.4 1125.7v3.1M403.2 1093.8v7.5M477.2 1125.7v3.1M419.2 1092.3v9M381.5 1125.7v3.1M417.7 1092.7v8.6M403.2 1125.7v3.1M361.2 1105v3.1M438 1125.7v3.1M469.9 1125.7v3.1M522.1 1089.4v4.4M404.7 1090.8v10.4M365.5 1125.7v3.1M439.5 1091.1v10.2M375.7 1125.7v3.1M426.4 1125.7v3.1M443.8 1125.7v3.1M432.2 1088.6v12.6M469.9 1093.2v4.8M420.6 1087.6v4.1M445.3 1125.7v3.1M377.1 1105v3.1M456.9 1125.7v3.1M452.5 1105v3.1M416.3 1125.7v3.1M422.1 1089.8v11.5M380 1093.3v8M358.3 1098.1v3.1M374.2 1098.9v2.4M462.7 1105v3.1M465.6 1105v3.1M411.9 1093.7v7.6M454 1125.7v3.1M430.8 1095.5v5.8M449.6 1097.2v4M432.2 1105v3.1M451.1 1125.7v3.1M393.1 1125.7v3.1M462.7 1090v5.7M516.3 1105v3.1M449.6 1105v3.1M440.9 1105v3.1M375.7 1105v3.1M333.6 1105v3.1M435.1 1125.7v3.1M523.6 1092.2v9.1M458.3 1125.7v3.1M436.6 1091v10.3M407.6 1125.7v3.1M436.6 1105v3.1M448.2 1105v3.1M462.7 1125.7v3.1M397.4 1105v3.1M472.8 1091v3.7M409 1092.6v8.7M397.4 1125.7v3.1M414.8 1105v3.1M420.6 1105v3.1M483 1125.7v3.1M359.7 1125.7v3.1M382.9 1093.8v7.5M414.8 1125.7v3.1M371.3 1105v3.1M388.7 1125.7v3.1M451.1 1105v3.1M451.1 1093.3v8M349.6 1125.7v3.1M362.6 1125.7v3.1M443.8 1105v3.1M384.4 1105v3.1M361.2 1098.9v2.4M427.9 1125.7v3.1M474.3 1098.3v3M367 1105v3.1" stroke="#d97173" stroke-width="2.05" stroke-linecap="round" fill="none"/>
<path d="M468.5 1105v3.1M443.8 1097.3v3.9M445.3 1105v3.1M487.3 1087.4v3.8M440.9 1098v3.3M448.2 1096.1v5.2M471.4 1086.9v4.8M488.8 1086.4v14.9M440.9 1093.2v4.8M468.5 1125.7v3.1M478.6 1125.7v3.1M455.4 1125.7v3.1M449.6 1089.4v7.8M442.4 1094.6v6.7M538.1 1125.7v3.1M488.8 1125.7v3.1M388.7 1096.7v4.6M461.2 1105v3.1M509.1 1088.9v12.4M481.5 1105v3.1M361.2 1125.7v3.1M487.3 1091.1v10.2M526.5 1125.7v3.1M433.7 1093.9v7.4M507.6 1105v3.1M468.5 1097.5v3.8" stroke="#eba95f" stroke-width="2.05" stroke-linecap="round" fill="none"/>
<path d="M535.2 1105v3.1M532.3 1105v3.1M500.4 1092.8v8.4M512 1105v3.1M523.6 1086.4v5.8M512 1125.7v3.1M493.1 1087.4v9.3M522.1 1105v3.1M535.2 1096.8v4.5M497.5 1125.7v3.1M536.6 1105v3.1M496 1125.7v3.1M543.9 1097.8v3.5M542.4 1105v3.1M517.8 1125.7v3.1M487.3 1125.7v3.1M543.9 1125.7v3.1M498.9 1094v7.3M526.5 1096.9v4.4M513.4 1105v3.1M523.6 1105v3.1M527.9 1105v3.1M546.8 1087.4v13.9M527.9 1125.7v3.1M526.5 1088.5v8.4M498.9 1125.7v3.1M497.5 1105v3.1M525 1087.2v8.1M507.6 1125.7v3.1M493.1 1105v3.1M543.9 1090.9v6.9M494.6 1125.7v3.1M546.8 1125.7v3.1M522.1 1093.8v7.5M538.1 1105v3.1M501.8 1085.4v7.8M526.5 1105v3.1M533.7 1091.3v10M545.3 1125.7v3.1M501.8 1125.7v3.1M493.1 1125.7v3.1M506.2 1125.7v3.1M519.2 1088.7v12.6M514.9 1088.5v12.8M510.5 1087.5v10M503.3 1085.6v8.8M536.6 1125.7v3.1M507.6 1089.2v7.1M497.5 1089.1v12.2M506.2 1093.3v8M523.6 1125.7v3.1M500.4 1105v3.1M491.7 1090.5v4.2M533.7 1105v3.1M501.8 1105v3.1M517.8 1088.3v13M485.9 1089.8v5.6M493.1 1096.6v4.7M520.7 1105v3.1M490.2 1095.2v6.1M541 1125.7v3.1M530.8 1125.7v3.1M516.3 1125.7v3.1M529.4 1090.1v5.3M506.2 1090.2v3M530.8 1094.3v7" stroke="#b583c8" stroke-width="2.05" stroke-linecap="round" fill="none"/>
<path d="M535.2 1087.7v9M503.3 1105v3.1M519.2 1125.7v3.1M501.8 1093.2v8.1M525 1095.4v5.9M529.4 1105v3.1M542.4 1096.8v4.5M532.3 1089.6v6.9M504.7 1094.2v7.1M510.5 1097.6v3.7M514.9 1125.7v3.1M500.4 1125.7v3.1M536.6 1085.3v16M538.1 1094v7.3M532.3 1096.5v4.8M527.9 1095.6v5.7M519.2 1105v3.1M530.8 1105v3.1M541 1088.3v13M500.4 1088.5v4.3M522.1 1125.7v3.1M510.5 1105v3.1M503.3 1125.7v3.1M539.5 1125.7v3.1M541 1105v3.1M517.8 1105v3.1M513.4 1089.4v5.9M512 1089.9v11.4M546.8 1105v3.1M496 1093.1v8.2M543.9 1105v3.1M516.3 1087.5v13.7M539.5 1105v3.1M514.9 1105v3.1M504.7 1125.7v3.1M494.6 1094.1v7.2M496 1089.2v3.9M494.6 1088.3v5.8M509.1 1125.7v3.1M496 1105v3.1M538.1 1087v7M535.2 1125.7v3.1M490.2 1125.7v3.1M539.5 1088.2v6.5M529.4 1095.4v5.9M509.1 1105v3.1M545.3 1089.8v8.3M507.6 1096.4v4.9M529.4 1125.7v3.1M498.9 1087.8v6.2M520.7 1088.4v12.9" stroke="#b583c8" stroke-width="2.05" stroke-linecap="round" fill="none"/>
<path d="M445.3 1095.1v6.2M397.4 1097.8v3.5M356.8 1125.7v3.1M438 1105v3.1M359.7 1105v3.1M385.8 1125.7v3.1M410.5 1089v12.3M387.3 1125.7v3.1M407.6 1093.6v7.7M420.6 1125.7v3.1M387.3 1105v3.1M471.4 1125.7v3.1M369.9 1125.7v3.1M400.3 1125.7v3.1M446.7 1125.7v3.1M351 1125.7v3.1M413.4 1105v3.1M432.2 1125.7v3.1M425 1105v3.1M372.8 1105v3.1M362.6 1097.5v3.8M435.1 1090v11.3M417.7 1105v3.1M459.8 1125.7v3.1M368.4 1105v3.1M410.5 1125.7v3.1M439.5 1105v3.1M480.1 1105v3.1M455.4 1105v3.1M401.8 1125.7v3.1M484.4 1097.8v3.5M374.2 1105v3.1M364.1 1125.7v3.1M382.9 1125.7v3.1M372.8 1125.7v3.1M358.3 1125.7v3.1M461.2 1093.4v7.9M429.3 1125.7v3.1M426.4 1105v3.1M377.1 1125.7v3.1M443.8 1092.6v4.7M436.6 1125.7v3.1M464.1 1125.7v3.1M411.9 1105v3.1M413.4 1094.9v6.4M426.4 1093.5v7.8M439.5 1125.7v3.1M352.5 1125.7v3.1M404.7 1105v3.1M471.4 1091.7v9.6M396 1105v3.1M409 1125.7v3.1M425 1125.7v3.1M394.5 1125.7v3.1M390.2 1091.8v9.4M391.6 1093.9v7.4M378.6 1105v3.1M353.9 1125.7v3.1M430.8 1090.6v4.9M380 1125.7v3.1M419.2 1125.7v3.1M378.6 1125.7v3.1M504.7 1085.4v8.8M464.1 1094.5v6.7M371.3 1125.7v3.1M427.9 1105v3.1M414.8 1093.3v8M494.6 1105v3.1M365.5 1105v3.1M403.2 1105v3.1M413.4 1125.7v3.1M448.2 1091.3v4.8M475.7 1105v3.1M438 1093.7v7.6M471.4 1105v3.1M491.7 1125.7v3.1M455.4 1094v7.3M419.2 1105v3.1M472.8 1125.7v3.1M385.8 1105v3.1M374.2 1125.7v3.1M469.9 1098v3.3M384.4 1095v6.3M429.3 1105v3.1M380 1105v3.1M416.3 1105v3.1M381.5 1097v4.3M333.6 1125.7v3.1M465.6 1125.7v3.1M539.5 1094.7v6.6M485.9 1125.7v3.1M456.9 1105v3.1M423.5 1125.7v3.1M442.4 1105v3.1M330.7 1125.7v3.1M429.3 1094.9v6.3M382.9 1105v3.1M391.6 1125.7v3.1M427.9 1095.4v5.9M422.1 1105v3.1M440.9 1125.7v3.1M355.4 1105v3.1M411.9 1125.7v3.1M381.5 1093.1v3.9M461.2 1125.7v3.1M398.9 1097.3v4M358.3 1105v3.1M478.6 1105v3.1M467 1105v3.1" stroke="#d97173" stroke-width="2.05" stroke-linecap="round" fill="none"/>
<path d="M472.8 1094.7v6.6M335.1 1098.9v2.4M349.6 1105v3.1M329.3 1088.9v12.4M327.8 1091.6v3.5M454 1105v3.1M324.9 1096.5v4.8M340.9 1105v3.1M346.7 1105v3.1M324.9 1090.1v6.4M326.4 1125.7v3.1M367 1125.7v3.1M398.9 1105v3.1M462.7 1095.7v5.6M320.6 1092.6v8.7M348.1 1105v3.1M345.2 1125.7v3.1M345.2 1105v3.1M327.8 1105v3.1M485.9 1105v3.1M485.9 1095.5v5.8M326.4 1105v3.1M338 1125.7v3.1M322.1 1097.4v3.9M483 1093.1v3.6M332.2 1098.9v2.4M323.5 1092.5v8.8M338 1097.9v3.4M465.6 1093.4v7.8M329.3 1105v3.1M491.7 1094.6v6.7M339.4 1105v3.1M469.9 1105v3.1M335.1 1105v3.1M338 1105v3.1M406.1 1125.7v3.1M326.4 1097.3v4M327.8 1095.1v6.2M342.3 1105v3.1M326.4 1090v7.4M327.8 1125.7v3.1M336.5 1105v3.1M320.6 1125.7v3.1M487.3 1105v3.1M322.1 1091.4v6M342.3 1125.7v3.1M352.5 1105v3.1" stroke="#86c4a3" stroke-width="2.05" stroke-linecap="round" fill="none"/>
<path d="M475.7 1091.7v9.6M452.5 1089.7v11.5M474.3 1125.7v3.1M542.4 1088.2v8.6M478.6 1090.6v10.7M398.9 1125.7v3.1M503.3 1094.4v6.9M513.4 1095.3v6M459.8 1095.6v5.7M545.3 1098.1v3.2M483 1105v3.1M467 1125.7v3.1M477.2 1096.4v4.9M448.2 1125.7v3.1M484.4 1087.4v10.4M401.8 1105v3.1M464.1 1105v3.1M530.8 1088.6v5.7M458.3 1091.1v10.1M481.5 1125.7v3.1M467 1084.7v16.6M533.7 1088v3.3M477.2 1093.1v3.3M459.8 1105v3.1M498.9 1105v3.1M430.8 1125.7v3.1M442.4 1125.7v3.1M456.9 1091.9v9.3M378.6 1096.7v4.6M504.7 1105v3.1M416.3 1096.1v5.1" stroke="#eba95f" stroke-width="2.05" stroke-linecap="round" fill="none"/>
<line x1="308.3" y1="1083.5" x2="308.3" y2="1129" stroke="#222" stroke-width="1.4"/>
<line x1="305" y1="1085.8" x2="308.3" y2="1085.8" stroke="#222" stroke-width="1.2"/>
<text x="303.2" y="1090.2" font-size="12.7" fill="#444" text-anchor="end">10.0</text>
<line x1="305" y1="1106.5" x2="308.3" y2="1106.5" stroke="#222" stroke-width="1.2"/>
<text x="303.2" y="1110.9" font-size="12.7" fill="#444" text-anchor="end">1.0</text>
<line x1="305" y1="1127.2" x2="308.3" y2="1127.2" stroke="#222" stroke-width="1.2"/>
<text x="303.2" y="1131.6" font-size="12.7" fill="#444" text-anchor="end">0.1</text>
<path d="M320 1124.6L321.1 1124.6L322.3 1124.6L323.4 1124.6L324.5 1124.6L325.7 1124.6L326.8 1124.6L328 1124.6L329.1 1124.6L330.2 1124.6L331.4 1124.5L332.5 1124.5L333.6 1124.5L334.8 1124.5L335.9 1124.5L337 1124.5L338.2 1124.5L339.3 1124.5L340.5 1124.5L341.6 1124.4L342.7 1124.4L343.9 1124.4L345 1124.4L346.1 1124.4L347.3 1124.3L348.4 1124.3L349.5 1124.3L350.7 1124.3L351.8 1124.2L353 1124.2L354.1 1124.2L355.2 1124.2L356.4 1124.1L357.5 1124.1L358.6 1124.1L359.8 1124L360.9 1124L362 1123.9L363.2 1123.9L364.3 1123.8L365.5 1123.8L366.6 1123.7L367.7 1123.7L368.9 1123.6L370 1123.6L371.1 1123.5L372.3 1123.4L373.4 1123.3L374.5 1123.3L375.7 1123.2L376.8 1123.1L378 1123L379.1 1122.9L380.2 1122.8L381.4 1122.7L382.5 1122.6L383.6 1122.5L384.8 1122.3L385.9 1122.2L387 1122.1L388.2 1121.9L389.3 1121.8L390.5 1121.6L391.6 1121.5L392.7 1121.3L393.9 1121.1L395 1120.9L396.1 1120.7L397.3 1120.5L398.4 1120.3L399.5 1120.1L400.7 1119.9L401.8 1119.6L403 1119.4L404.1 1119.1L405.2 1118.9L406.4 1118.6L407.5 1118.3L408.6 1118L409.8 1117.7L410.9 1117.4L412 1117.1L413.2 1116.8L414.3 1116.4L415.5 1116.1L416.6 1115.7L417.7 1115.4L418.9 1115L420 1114.6L421.1 1114.3L422.3 1113.9L423.4 1113.5L424.5 1113.1L425.7 1112.7L426.8 1112.3L428 1111.9L429.1 1111.5L430.2 1111.1L431.4 1110.7L432.5 1110.3L433.6 1109.9L434.8 1109.4L435.9 1109L437 1108.6L438.2 1108.3L439.3 1107.9L440.5 1107.5L441.6 1107.1L442.7 1106.7L443.9 1106.3L445 1106L446.1 1105.6L447.3 1105.3L448.4 1104.9L449.5 1104.6L450.7 1104.3L451.8 1104L453 1103.7L454.1 1103.4L455.2 1103.1L456.4 1102.8L457.5 1102.5L458.6 1102.3L459.8 1102L460.9 1101.8L462 1101.5L463.2 1101.3L464.3 1101.1L465.5 1100.9L466.6 1100.7L467.7 1100.5L468.9 1100.3L470 1100.1L471.1 1100L472.3 1099.8L473.4 1099.6L474.5 1099.5L475.7 1099.4L476.8 1099.2L478 1099.1L479.1 1099L480.2 1098.9L481.4 1098.7L482.5 1098.6L483.6 1098.5L484.8 1098.5L485.9 1098.4L487 1098.3L488.2 1098.2L489.3 1098.1L490.5 1098.1L491.6 1098L492.7 1097.9L493.9 1097.9L495 1097.8L496.1 1097.7L497.3 1097.7L498.4 1097.6L499.5 1097.6L500.7 1097.6L501.8 1097.5L503 1097.5L504.1 1097.5L505.2 1097.4L506.4 1097.4L507.5 1097.4L508.6 1097.3L509.8 1097.3L510.9 1097.3L512 1097.3L513.2 1097.3L514.3 1097.3L515.5 1097.3L516.6 1097.3L517.7 1097.3L518.9 1097.3L520 1097.3L521.1 1097.3L522.3 1097.3L523.4 1097.4L524.5 1097.4L525.7 1097.4L526.8 1097.4L528 1097.5L529.1 1097.5L530.2 1097.5L531.4 1097.6L532.5 1097.6L533.6 1097.7L534.8 1097.7L535.9 1097.7L537 1097.8L538.2 1097.8L539.3 1097.8L540.5 1097.9L541.6 1097.9L542.7 1097.9L543.9 1097.9L545 1097.9L546.1 1098L547.3 1098" fill="none" stroke="#050505" stroke-width="2.6" stroke-linejoin="round"/>
<text x="434.3" y="1156.3" font-size="13.3" fill="#111" text-anchor="middle" font-style="italic">MKI67</text>
<path d="M404.7 1208.7v3.1M393.1 1208.7v3.1M361.2 1208.7v3.1M458.3 1183.5v3.1M439.5 1183.5v3.1M397.4 1208.7v3.1M417.7 1171v3M364.1 1175.7v3M390.2 1208.7v3.1M425 1175.7v3M442.4 1183.5v3.1M411.9 1208.7v3.1M372.8 1208.7v3.1M391.6 1175.7v3M456.9 1208.7v3.1M423.5 1175.7v3M369.9 1183.5v3.1M465.6 1183.5v3.1M474.3 1208.7v3.1M456.9 1175.7v3M397.4 1175.7v3M410.5 1208.7v3.1M340.9 1208.7v3.1M469.9 1208.7v3.1M481.5 1208.7v3.1M451.1 1183.5v3.1M452.5 1208.7v3.1M430.8 1183.5v3.1M426.4 1208.7v3.1M454 1208.7v3.1M454 1183.5v3.1M478.6 1208.7v3.1M384.4 1208.7v3.1M377.1 1208.7v3.1M374.2 1208.7v3.1M472.8 1208.7v3.1M330.7 1175.7v3M355.4 1208.7v3.1M483 1208.7v3.1M358.3 1208.7v3.1M391.6 1208.7v3.1M451.1 1208.7v3.1M461.2 1208.7v3.1M387.3 1208.7v3.1M461.2 1183.5v3.1M462.7 1208.7v3.1M427.9 1208.7v3.1M448.2 1208.7v3.1M359.7 1208.7v3.1M451.1 1175.7v3M369.9 1208.7v3.1M449.6 1175.7v3M439.5 1208.7v3.1M381.5 1208.7v3.1M455.4 1208.7v3.1M465.6 1175.7v3M430.8 1175.7v3M429.3 1183.5v3.1M425 1183.5v3.1M432.2 1208.7v3.1M371.3 1208.7v3.1M381.5 1183.5v3.1M385.8 1208.7v3.1M367 1208.7v3.1M351 1208.7v3.1M423.5 1208.7v3.1M468.5 1208.7v3.1M435.1 1183.5v3.1M356.8 1208.7v3.1M461.2 1175.7v3" stroke="#d97173" stroke-width="2.05" stroke-linecap="round" fill="none"/>
<path d="M494.6 1208.7v3.1M536.6 1183.5v3.1M498.9 1208.7v3.1M496 1208.7v3.1M517.8 1208.7v3.1M546.8 1208.7v3.1M533.7 1208.7v3.1M503.3 1208.7v3.1M541 1183.5v3.1M493.1 1208.7v3.1M543.9 1183.5v3.1M535.2 1208.7v3.1M539.5 1208.7v3.1M536.6 1208.7v3.1M525 1208.7v3.1M527.9 1208.7v3.1" stroke="#b583c8" stroke-width="2.05" stroke-linecap="round" fill="none"/>
<path d="M340.9 1183.5v3.1M323.5 1167.7v4.9M324.9 1171v3M327.8 1183.5v3.1M329.3 1175.7v3M484.4 1208.7v3.1M324.9 1208.7v3.1M324.9 1183.5v3.1M333.6 1208.7v3.1M467 1175.7v3M338 1208.7v3.1M488.8 1208.7v3.1M329.3 1183.5v3.1M339.4 1208.7v3.1M322.1 1175.7v3M322.1 1208.7v3.1M323.5 1208.7v3.1M335.1 1208.7v3.1M326.4 1171v3M322.1 1171v3M326.4 1208.7v3.1M349.6 1208.7v3.1M333.6 1175.7v3M320.6 1183.5v3.1" stroke="#86c4a3" stroke-width="2.05" stroke-linecap="round" fill="none"/>
<path d="M440.9 1208.7v3.1M456.9 1183.5v3.1M430.8 1208.7v3.1M462.7 1183.5v3.1M469.9 1183.5v3.1M464.1 1208.7v3.1M442.4 1208.7v3.1M448.2 1183.5v3.1M417.7 1183.5v3.1M435.1 1208.7v3.1M422.1 1183.5v3.1M452.5 1175.7v3M520.7 1208.7v3.1M477.2 1175.7v3M425 1208.7v3.1M400.3 1208.7v3.1M500.4 1208.7v3.1M468.5 1175.7v3" stroke="#eba95f" stroke-width="2.05" stroke-linecap="round" fill="none"/>
<path d="M427.9 1183.5v3.1M409 1175.7v3M432.2 1183.5v3.1M378.6 1208.7v3.1M362.6 1208.7v3.1M394.5 1208.7v3.1M352.5 1208.7v3.1M459.8 1183.5v3.1M448.2 1175.7v3M406.1 1208.7v3.1M365.5 1208.7v3.1M417.7 1175.7v3M422.1 1208.7v3.1M458.3 1208.7v3.1M380 1208.7v3.1M433.7 1208.7v3.1M409 1208.7v3.1M443.8 1183.5v3.1M381.5 1171v3M423.5 1183.5v3.1M469.9 1175.7v3M472.8 1175.7v3M419.2 1208.7v3.1M345.2 1208.7v3.1M417.7 1208.7v3.1M485.9 1208.7v3.1M510.5 1208.7v3.1M356.8 1175.7v3M353.9 1208.7v3.1M436.6 1208.7v3.1M375.7 1208.7v3.1M446.7 1208.7v3.1M400.3 1175.7v3M414.8 1175.7v3M475.7 1183.5v3.1M416.3 1208.7v3.1M440.9 1183.5v3.1M396 1208.7v3.1M413.4 1208.7v3.1M426.4 1175.7v3M364.1 1208.7v3.1M443.8 1208.7v3.1M420.6 1208.7v3.1M471.4 1183.5v3.1M414.8 1208.7v3.1M429.3 1208.7v3.1M330.7 1208.7v3.1M438 1208.7v3.1M353.9 1183.5v3.1M398.9 1208.7v3.1M401.8 1208.7v3.1M464.1 1183.5v3.1M407.6 1208.7v3.1M404.7 1175.7v3M477.2 1208.7v3.1M382.9 1208.7v3.1M388.7 1208.7v3.1M433.7 1183.5v3.1M403.2 1208.7v3.1M419.2 1183.5v3.1M458.3 1175.7v3M368.4 1208.7v3.1M438 1175.7v3" stroke="#d97173" stroke-width="2.05" stroke-linecap="round" fill="none"/>
<path d="M497.5 1208.7v3.1M512 1208.7v3.1M523.6 1208.7v3.1M526.5 1208.7v3.1M542.4 1208.7v3.1M543.9 1208.7v3.1M514.9 1208.7v3.1M545.3 1208.7v3.1M506.2 1208.7v3.1M519.2 1208.7v3.1M497.5 1183.5v3.1M529.4 1208.7v3.1M532.3 1208.7v3.1M541 1208.7v3.1M541 1175.7v3M542.4 1175.7v3M530.8 1208.7v3.1M504.7 1208.7v3.1M522.1 1208.7v3.1M509.1 1208.7v3.1M516.3 1208.7v3.1M513.4 1208.7v3.1M496 1175.7v3M507.6 1208.7v3.1M538.1 1208.7v3.1M539.5 1183.5v3.1" stroke="#b583c8" stroke-width="2.05" stroke-linecap="round" fill="none"/>
<path d="M462.7 1175.7v3M468.5 1183.5v3.1M438 1183.5v3.1M471.4 1208.7v3.1M475.7 1208.7v3.1M446.7 1183.5v3.1M378.6 1183.5v3.1M501.8 1208.7v3.1M490.2 1208.7v3.1M465.6 1208.7v3.1M472.8 1183.5v3.1M445.3 1208.7v3.1M467 1208.7v3.1" stroke="#eba95f" stroke-width="2.05" stroke-linecap="round" fill="none"/>
<path d="M320.6 1208.7v3.1M491.7 1208.7v3.1M440.9 1175.7v3M323.5 1183.5v3.1M327.8 1208.7v3.1M332.2 1208.7v3.1M320.6 1175.7v3M459.8 1208.7v3.1M336.5 1208.7v3.1M343.8 1208.7v3.1M345.2 1183.5v3.1M346.7 1208.7v3.1M324.9 1175.7v3M375.7 1183.5v3.1M480.1 1208.7v3.1M329.3 1208.7v3.1M322.1 1167.7v4.9M348.1 1208.7v3.1M338 1183.5v3.1M322.1 1183.5v3.1M426.4 1183.5v3.1M342.3 1208.7v3.1M343.8 1175.7v3M449.6 1208.7v3.1M487.3 1208.7v3.1" stroke="#86c4a3" stroke-width="2.05" stroke-linecap="round" fill="none"/>
<line x1="308.3" y1="1170.3" x2="308.3" y2="1212" stroke="#222" stroke-width="1.4"/>
<line x1="305" y1="1172.6" x2="308.3" y2="1172.6" stroke="#222" stroke-width="1.2"/>
<text x="303.2" y="1177" font-size="12.7" fill="#444" text-anchor="end">3.0</text>
<line x1="305" y1="1185.1" x2="308.3" y2="1185.1" stroke="#222" stroke-width="1.2"/>
<text x="303.2" y="1189.5" font-size="12.7" fill="#444" text-anchor="end">1.0</text>
<line x1="305" y1="1197.9" x2="308.3" y2="1197.9" stroke="#222" stroke-width="1.2"/>
<text x="303.2" y="1202.3" font-size="12.7" fill="#444" text-anchor="end">0.3</text>
<line x1="305" y1="1210.2" x2="308.3" y2="1210.2" stroke="#222" stroke-width="1.2"/>
<text x="303.2" y="1214.6" font-size="12.7" fill="#444" text-anchor="end">0.1</text>
<path d="M320 1210.2L321.1 1210.2L322.3 1210.2L323.4 1210.2L324.5 1210.2L325.7 1210.2L326.8 1210.2L328 1210.2L329.1 1210.2L330.2 1210.2L331.4 1210.2L332.5 1210.2L333.6 1210.2L334.8 1210.2L335.9 1210.2L337 1210.2L338.2 1210.2L339.3 1210.2L340.5 1210.2L341.6 1210.2L342.7 1210.2L343.9 1210.2L345 1210.2L346.1 1210.2L347.3 1210.2L348.4 1210.2L349.5 1210.2L350.7 1210.2L351.8 1210.2L353 1210.2L354.1 1210.2L355.2 1210.2L356.4 1210.2L357.5 1210.2L358.6 1210.2L359.8 1210.2L360.9 1210.2L362 1210.2L363.2 1210.2L364.3 1210.2L365.5 1210.2L366.6 1210.2L367.7 1210.2L368.9 1210.2L370 1210.2L371.1 1210.2L372.3 1210.2L373.4 1210.2L374.5 1210.2L375.7 1210.2L376.8 1210.2L378 1210.2L379.1 1210.2L380.2 1210.2L381.4 1210.2L382.5 1210.2L383.6 1210.2L384.8 1210.2L385.9 1210.2L387 1210.2L388.2 1210.2L389.3 1210.2L390.5 1210.2L391.6 1210.2L392.7 1210.2L393.9 1210.2L395 1210.2L396.1 1210.2L397.3 1210.2L398.4 1210.2L399.5 1210.2L400.7 1210.2L401.8 1210.2L403 1210.2L404.1 1210.2L405.2 1210.2L406.4 1210.2L407.5 1210.2L408.6 1210.2L409.8 1210.2L410.9 1210.2L412 1210.2L413.2 1210.2L414.3 1210.2L415.5 1210.2L416.6 1210.2L417.7 1210.2L418.9 1210.2L420 1210.2L421.1 1210.2L422.3 1210.2L423.4 1210.2L424.5 1210.2L425.7 1210.2L426.8 1210.2L428 1210.2L429.1 1210.2L430.2 1210.2L431.4 1210.2L432.5 1210.2L433.6 1210.2L434.8 1210.2L435.9 1210.2L437 1210.2L438.2 1210.2L439.3 1210.2L440.5 1210.2L441.6 1210.2L442.7 1210.2L443.9 1210.2L445 1210.2L446.1 1210.2L447.3 1210.2L448.4 1210.2L449.5 1210.2L450.7 1210.2L451.8 1210.2L453 1210.2L454.1 1210.2L455.2 1210.2L456.4 1210.2L457.5 1210.2L458.6 1210.2L459.8 1210.2L460.9 1210.2L462 1210.2L463.2 1210.2L464.3 1210.2L465.5 1210.2L466.6 1210.2L467.7 1210.2L468.9 1210.2L470 1210.2L471.1 1210.2L472.3 1210.2L473.4 1210.2L474.5 1210.2L475.7 1210.2L476.8 1210.2L478 1210.2L479.1 1210.2L480.2 1210.2L481.4 1210.2L482.5 1210.2L483.6 1210.2L484.8 1210.2L485.9 1210.2L487 1210.2L488.2 1210.2L489.3 1210.2L490.5 1210.2L491.6 1210.2L492.7 1210.2L493.9 1210.2L495 1210.2L496.1 1210.2L497.3 1210.2L498.4 1210.2L499.5 1210.2L500.7 1210.2L501.8 1210.2L503 1210.2L504.1 1210.2L505.2 1210.2L506.4 1210.2L507.5 1210.2L508.6 1210.2L509.8 1210.2L510.9 1210.2L512 1210.2L513.2 1210.2L514.3 1210.2L515.5 1210.2L516.6 1210.2L517.7 1210.2L518.9 1210.2L520 1210.2L521.1 1210.2L522.3 1210.2L523.4 1210.2L524.5 1210.2L525.7 1210.2L526.8 1210.2L528 1210.2L529.1 1210.2L530.2 1210.2L531.4 1210.2L532.5 1210.2L533.6 1210.2L534.8 1210.2L535.9 1210.2L537 1210.2L538.2 1210.2L539.3 1210.2L540.5 1210.2L541.6 1210.2L542.7 1210.2L543.9 1210.2L545 1210.2L546.1 1210.2L547.3 1210.2" fill="none" stroke="#050505" stroke-width="2.6" stroke-linejoin="round"/>
<text x="434.3" y="1237.8" font-size="13.3" fill="#111" text-anchor="middle" font-style="italic">SPP1</text>
<path d="M480.1 1259.9v4.7M413.4 1246.3v9.8M454 1268.2v3.1M461.2 1268.2v3.1M417.7 1254.6v10M478.6 1249.6v15M445.3 1289v3.1M442.4 1268.2v3.1M456.9 1248.4v12.8M420.6 1247.7v16.9M414.8 1250.1v14.5M414.8 1268.2v3.1M393.1 1268.2v3.1M432.2 1289v3.1M365.5 1249.4v7.1M469.9 1289v3.1M422.1 1289v3.1M459.8 1268.2v3.1M454 1289v3.1M462.7 1289v3.1M523.6 1262.2v2.4M429.3 1249.1v5.2M456.9 1289v3.1M416.3 1268.2v3.1M474.3 1251.2v6.5M394.5 1268.2v3.1M474.3 1289v3.1M440.9 1289v3.1M381.5 1289v3.1M445.3 1254.3v10.3M364.1 1251v13.6M452.5 1289v3.1M436.6 1268.2v3.1M461.2 1289v3.1M480.1 1250.3v9.6M456.9 1261.2v3.4M488.8 1289v3.1" stroke="#eba95f" stroke-width="2.05" stroke-linecap="round" fill="none"/>
<path d="M516.3 1259.2v5.4M526.5 1268.2v3.1M542.4 1289v3.1M535.2 1289v3.1M541 1268.2v3.1M533.7 1268.2v3.1M503.3 1289v3.1M520.7 1268.2v3.1M510.5 1268.2v3.1M545.3 1268.2v3.1M493.1 1289v3.1M510.5 1289v3.1M498.9 1268.2v3.1M529.4 1260v4.6M533.7 1289v3.1M497.5 1268.2v3.1M543.9 1268.2v3.1M530.8 1289v3.1M517.8 1268.2v3.1M513.4 1268.2v3.1M539.5 1268.2v3.1M496 1262.1v2.4M509.1 1268.2v3.1M538.1 1268.2v3.1M491.7 1289v3.1M504.7 1255.4v4.1M539.5 1289v3.1M546.8 1289v3.1M523.6 1289v3.1M519.2 1289v3.1M497.5 1256.7v7.9M527.9 1289v3.1M525 1289v3.1M498.9 1259.3v5.3M497.5 1289v3.1M500.4 1268.2v3.1M543.9 1289v3.1" stroke="#b583c8" stroke-width="2.05" stroke-linecap="round" fill="none"/>
<path d="M390.2 1268.2v3.1M407.6 1289v3.1M459.8 1259.4v5.2M397.4 1289v3.1M425 1268.2v3.1M353.9 1289v3.1M359.7 1251.9v7.2M355.4 1260.5v4.1M382.9 1289v3.1M469.9 1249.2v15.3M481.5 1289v3.1M458.3 1268.2v3.1M458.3 1289v3.1M345.2 1259.6v5M346.7 1260.7v3.8M342.3 1252.9v11.7M394.5 1248.3v16.3M407.6 1249.2v7.9M406.1 1268.2v3.1M348.1 1253.9v10.7M361.2 1250.6v8.8M411.9 1250v6.7M407.6 1268.2v3.1M369.9 1268.2v3.1M472.8 1255.5v9.1M442.4 1248v6.2M380 1252.4v12.1M448.2 1268.2v3.1M427.9 1261.4v3.2M359.7 1259.1v5.5M459.8 1251.2v8.1M456.9 1268.2v3.1M477.2 1260.5v4M462.7 1256.5v8.1M406.1 1248.7v15.9M401.8 1247.4v17.2M382.9 1268.2v3.1M426.4 1268.2v3.1M468.5 1250.5v10.5M368.4 1268.2v3.1M364.1 1289v3.1M330.7 1253v11.6M398.9 1289v3.1M358.3 1268.2v3.1M355.4 1289v3.1M400.3 1258.8v5.8M480.1 1289v3.1M375.7 1268.2v3.1M404.7 1268.2v3.1M380 1248.9v3.5M427.9 1250v11.4M429.3 1254.3v10.3M398.9 1268.2v3.1M353.9 1248.8v15.8M422.1 1268.2v3.1M433.7 1251.9v8.9M429.3 1289v3.1M438 1249.9v14.7M439.5 1248.8v9.7M464.1 1289v3.1M356.8 1268.2v3.1M440.9 1249.3v15.3M367 1249.5v11.3M382.9 1250.7v5.2M380 1268.2v3.1M416.3 1248v11.2M435.1 1259.4v5.2M362.6 1289v3.1M390.2 1289v3.1M358.3 1289v3.1M332.2 1248.9v15.7M368.4 1260.8v3.8M401.8 1268.2v3.1M443.8 1268.2v3.1M403.2 1268.2v3.1M336.5 1254.1v10.5M433.7 1289v3.1M356.8 1247.1v3.8M362.6 1260.3v4.3M361.2 1259.4v5.2M391.6 1250.8v6.4M413.4 1268.2v3.1M372.8 1251.5v6M446.7 1259.5v5.1M436.6 1249.9v14.7M423.5 1256.9v7.7M425 1289v3.1M372.8 1257.4v7.2M390.2 1249.5v15M362.6 1268.2v3.1M417.7 1289v3.1M382.9 1255.9v8.7M393.1 1261.4v3.2M472.8 1249.6v5.9M365.5 1256.4v8.2M387.3 1289v3.1M474.3 1257.7v6.9M365.5 1268.2v3.1M338 1256.4v5.1M356.8 1289v3.1M435.1 1289v3.1M387.3 1252v5.5M443.8 1251.8v5M452.5 1268.2v3.1M419.2 1259.4v5.2M469.9 1268.2v3.1M351 1249.7v14.9M451.1 1249.1v8.4M407.6 1257.1v7.5M449.6 1268.2v3.1M496 1289v3.1M377.1 1268.2v3.1M439.5 1268.2v3.1M448.2 1258.5v6.1M425 1247.1v17.5M388.7 1268.2v3.1M355.4 1268.2v3.1M377.1 1246.1v18.5M372.8 1289v3.1M417.7 1268.2v3.1M342.3 1245v7.9M474.3 1268.2v3.1M468.5 1268.2v3.1M375.7 1252v12.6M406.1 1289v3.1M452.5 1248.4v12.3M345.2 1251.6v7.9M367 1260.8v3.8M429.3 1268.2v3.1M420.6 1289v3.1M404.7 1261.3v3.3M377.1 1289v3.1M468.5 1289v3.1M426.4 1252.6v12M367 1289v3.1M477.2 1268.2v3.1M330.7 1249.1v3.9" stroke="#d97173" stroke-width="2.05" stroke-linecap="round" fill="none"/>
<path d="M322.1 1268.2v3.1M487.3 1255v5.9M327.8 1268.2v3.1M326.4 1289v3.1M485.9 1289v3.1M327.8 1289v3.1M488.8 1268.2v3.1M352.5 1289v3.1M410.5 1289v3.1M333.6 1268.2v3.1M483 1289v3.1M340.9 1289v3.1M330.7 1268.2v3.1M333.6 1289v3.1M346.7 1289v3.1M332.2 1289v3.1M324.9 1289v3.1M339.4 1268.2v3.1M346.7 1268.2v3.1M339.4 1289v3.1M336.5 1268.2v3.1M471.4 1289v3.1M394.5 1289v3.1M335.1 1289v3.1M484.4 1261.4v3.2M348.1 1268.2v3.1M342.3 1289v3.1M336.5 1289v3.1M342.3 1268.2v3.1M348.1 1245.6v8.3M320.6 1289v3.1M352.5 1268.2v3.1M343.8 1268.2v3.1M475.7 1259.9v4.7M324.9 1250.5v5.2" stroke="#86c4a3" stroke-width="2.05" stroke-linecap="round" fill="none"/>
<path d="M371.3 1289v3.1M349.6 1268.2v3.1M487.3 1289v3.1M322.1 1289v3.1M323.5 1289v3.1M327.8 1258.5v6M320.6 1256.2v8.4M332.2 1268.2v3.1M335.1 1268.2v3.1M345.2 1289v3.1M490.2 1268.2v3.1M446.7 1248.6v10.9M351 1268.2v3.1M345.2 1268.2v3.1M324.9 1268.2v3.1M348.1 1289v3.1M323.5 1253v11.5M329.3 1289v3.1M322.1 1256.5v8.1M329.3 1268.2v3.1M338 1289v3.1M330.7 1289v3.1M484.4 1256.5v4.9M326.4 1268.2v3.1M387.3 1257.5v7.1M324.9 1255.6v8.9M388.7 1289v3.1M323.5 1268.2v3.1M343.8 1289v3.1M320.6 1268.2v3.1M340.9 1268.2v3.1M385.8 1268.2v3.1" stroke="#86c4a3" stroke-width="2.05" stroke-linecap="round" fill="none"/>
<path d="M436.6 1289v3.1M352.5 1250.8v13.8M371.3 1268.2v3.1M433.7 1260.8v3.8M396 1268.2v3.1M423.5 1268.2v3.1M475.7 1250.2v9.7M409 1248.8v9.6M375.7 1289v3.1M391.6 1289v3.1M435.1 1251.9v7.6M419.2 1268.2v3.1M419.2 1251.3v8.1M455.4 1289v3.1M353.9 1268.2v3.1M465.6 1268.2v3.1M468.5 1261v3.6M464.1 1268.2v3.1M393.1 1248.7v12.7M340.9 1255v4.7M333.6 1253.4v11.2M396 1289v3.1M397.4 1268.2v3.1M435.1 1268.2v3.1M413.4 1256v8.5M481.5 1268.2v3.1M416.3 1289v3.1M522.1 1289v3.1M358.3 1250.6v5.7M483 1260.2v4.4M359.7 1289v3.1M426.4 1249.5v3.1M400.3 1253.6v5.2M417.7 1247.3v7.3M362.6 1249.2v11.2M439.5 1289v3.1M358.3 1256.3v8.3M381.5 1247.1v17.5M338 1261.5v3.1M368.4 1249.4v11.3M349.6 1248.1v3.9M442.4 1254.2v10.4M404.7 1252.9v8.5M356.8 1250.9v13.7M346.7 1251v9.7M423.5 1289v3.1M438 1289v3.1M364.1 1268.2v3.1M393.1 1289v3.1M430.8 1251.6v13M361.2 1289v3.1M387.3 1268.2v3.1M388.7 1249.5v15.1M413.4 1289v3.1M355.4 1252.1v8.4M448.2 1253.3v5.2M471.4 1261.3v3.2M397.4 1248.8v15.8M433.7 1268.2v3.1M326.4 1258.5v6.1M372.8 1268.2v3.1M409 1289v3.1M361.2 1268.2v3.1M404.7 1289v3.1M369.9 1249.6v15M542.4 1268.2v3.1M442.4 1289v3.1M420.6 1268.2v3.1M452.5 1260.8v3.8M335.1 1251.5v13.1M340.9 1259.8v4.8M439.5 1258.5v6M545.3 1289v3.1M384.4 1268.2v3.1M445.3 1250.6v3.7M472.8 1289v3.1M414.8 1289v3.1M349.6 1289v3.1M384.4 1255.7v8.9M378.6 1289v3.1M464.1 1250.2v14.4M410.5 1249v15.6M374.2 1268.2v3.1M423.5 1245.3v11.6M422.1 1247.9v16.7M403.2 1251v6.5M409 1268.2v3.1M396 1248.5v16.1M378.6 1268.2v3.1M484.4 1289v3.1M478.6 1289v3.1M446.7 1268.2v3.1M443.8 1289v3.1M403.2 1289v3.1M351 1289v3.1M368.4 1289v3.1M398.9 1257.5v7.1M391.6 1257.3v7.3M471.4 1245.5v15.9M384.4 1250.7v5M349.6 1251.9v12.6M465.6 1247.8v16.8M384.4 1289v3.1M481.5 1256.8v7.8M467 1289v3.1M409 1258.4v6.2M374.2 1289v3.1M490.2 1289v3.1M380 1289v3.1M374.2 1247v17.6M475.7 1268.2v3.1M385.8 1253.9v10.6M445.3 1268.2v3.1M400.3 1289v3.1M491.7 1258.4v6.1M410.5 1268.2v3.1M365.5 1289v3.1M432.2 1268.2v3.1M398.9 1250.2v7.3M419.2 1289v3.1M339.4 1257.8v6.8M455.4 1247.3v17.3M381.5 1268.2v3.1M416.3 1259.2v5.4M333.6 1248.8v4.5M385.8 1250.1v3.8M378.6 1248.6v16M371.3 1247.4v17.2M391.6 1268.2v3.1M403.2 1257.5v7.1M411.9 1256.6v8M401.8 1289v3.1M446.7 1289v3.1M432.2 1253.7v10.9M426.4 1289v3.1M462.7 1251.8v4.7" stroke="#d97173" stroke-width="2.05" stroke-linecap="round" fill="none"/>
<path d="M465.6 1289v3.1M454 1257.9v6.7M454 1249.2v8.7M440.9 1268.2v3.1M449.6 1253.5v6.7M459.8 1289v3.1M458.3 1249.8v7.9M472.8 1268.2v3.1M451.1 1257.4v7.2M455.4 1268.2v3.1M359.7 1268.2v3.1M471.4 1268.2v3.1M462.7 1268.2v3.1M367 1268.2v3.1M478.6 1268.2v3.1M458.3 1257.7v6.9M438 1268.2v3.1M427.9 1289v3.1M467 1248.1v16.5M467 1268.2v3.1M448.2 1289v3.1M477.2 1289v3.1M430.8 1289v3.1M411.9 1289v3.1M443.8 1256.8v7.8M477.2 1251.9v8.6M475.7 1289v3.1M451.1 1289v3.1M369.9 1289v3.1M461.2 1249.6v4.1M451.1 1268.2v3.1M449.6 1260.2v4.4M461.2 1253.7v10.9M517.8 1289v3.1M385.8 1289v3.1M449.6 1289v3.1M427.9 1268.2v3.1M480.1 1268.2v3.1M430.8 1268.2v3.1" stroke="#eba95f" stroke-width="2.05" stroke-linecap="round" fill="none"/>
<path d="M483 1268.2v3.1M532.3 1268.2v3.1M501.8 1289v3.1M536.6 1289v3.1M498.9 1289v3.1M496 1268.2v3.1M509.1 1289v3.1M507.6 1289v3.1M543.9 1259v5.5M506.2 1268.2v3.1M501.8 1268.2v3.1M500.4 1289v3.1M494.6 1289v3.1M494.6 1261.2v3.4M538.1 1289v3.1M493.1 1255.8v8.8M514.9 1289v3.1M504.7 1289v3.1M529.4 1289v3.1M506.2 1289v3.1M485.9 1259.6v5M526.5 1262.2v2.4M541 1289v3.1M500.4 1254.3v10.3M520.7 1289v3.1M525 1262.2v2.4M512 1289v3.1M526.5 1289v3.1M530.8 1268.2v3.1M514.9 1258v6.6M503.3 1268.2v3.1M504.7 1259.5v5.1M516.3 1289v3.1M525 1268.2v3.1M532.3 1289v3.1M512 1268.2v3.1M504.7 1268.2v3.1M513.4 1289v3.1M487.3 1261v3.6" stroke="#b583c8" stroke-width="2.05" stroke-linecap="round" fill="none"/>
<line x1="308.3" y1="1246.8" x2="308.3" y2="1292.3" stroke="#222" stroke-width="1.4"/>
<line x1="305" y1="1249.1" x2="308.3" y2="1249.1" stroke="#222" stroke-width="1.2"/>
<text x="303.2" y="1253.5" font-size="12.7" fill="#444" text-anchor="end">10.0</text>
<line x1="305" y1="1269.8" x2="308.3" y2="1269.8" stroke="#222" stroke-width="1.2"/>
<text x="303.2" y="1274.2" font-size="12.7" fill="#444" text-anchor="end">1.0</text>
<line x1="305" y1="1290.5" x2="308.3" y2="1290.5" stroke="#222" stroke-width="1.2"/>
<text x="303.2" y="1294.9" font-size="12.7" fill="#444" text-anchor="end">0.1</text>
<path d="M320 1286.4L321.1 1286L322.3 1285.6L323.4 1285.2L324.5 1284.8L325.7 1284.3L326.8 1283.9L328 1283.5L329.1 1283.1L330.2 1282.7L331.4 1282.3L332.5 1281.9L333.6 1281.5L334.8 1281.1L335.9 1280.6L337 1280.2L338.2 1279.8L339.3 1279.4L340.5 1279.1L341.6 1278.7L342.7 1278.3L343.9 1277.9L345 1277.5L346.1 1277.2L347.3 1276.8L348.4 1276.5L349.5 1276.1L350.7 1275.8L351.8 1275.5L353 1275.1L354.1 1274.8L355.2 1274.5L356.4 1274.2L357.5 1273.9L358.6 1273.6L359.8 1273.3L360.9 1273L362 1272.7L363.2 1272.5L364.3 1272.2L365.5 1271.9L366.6 1271.6L367.7 1271.4L368.9 1271.1L370 1270.8L371.1 1270.6L372.3 1270.3L373.4 1270.1L374.5 1269.8L375.7 1269.6L376.8 1269.3L378 1269.1L379.1 1268.8L380.2 1268.6L381.4 1268.4L382.5 1268.1L383.6 1267.9L384.8 1267.7L385.9 1267.5L387 1267.3L388.2 1267L389.3 1266.8L390.5 1266.6L391.6 1266.4L392.7 1266.2L393.9 1266L395 1265.8L396.1 1265.6L397.3 1265.5L398.4 1265.3L399.5 1265.1L400.7 1264.9L401.8 1264.7L403 1264.5L404.1 1264.4L405.2 1264.2L406.4 1264L407.5 1263.8L408.6 1263.7L409.8 1263.5L410.9 1263.3L412 1263.2L413.2 1263L414.3 1262.9L415.5 1262.8L416.6 1262.7L417.7 1262.5L418.9 1262.4L420 1262.3L421.1 1262.2L422.3 1262.1L423.4 1262.1L424.5 1262L425.7 1261.9L426.8 1261.8L428 1261.8L429.1 1261.7L430.2 1261.7L431.4 1261.7L432.5 1261.7L433.6 1261.8L434.8 1261.9L435.9 1262L437 1262.1L438.2 1262.3L439.3 1262.5L440.5 1262.7L441.6 1263L442.7 1263.2L443.9 1263.4L445 1263.6L446.1 1263.8L447.3 1264L448.4 1264.3L449.5 1264.5L450.7 1264.8L451.8 1265L453 1265.3L454.1 1265.5L455.2 1265.8L456.4 1266.1L457.5 1266.4L458.6 1266.7L459.8 1267L460.9 1267.3L462 1267.7L463.2 1268L464.3 1268.3L465.5 1268.7L466.6 1269.1L467.7 1269.5L468.9 1269.9L470 1270.3L471.1 1270.7L472.3 1271.1L473.4 1271.6L474.5 1272L475.7 1272.5L476.8 1273L478 1273.5L479.1 1273.9L480.2 1274.4L481.4 1274.9L482.5 1275.5L483.6 1276L484.8 1276.5L485.9 1277L487 1277.5L488.2 1278.1L489.3 1278.6L490.5 1279.2L491.6 1279.7L492.7 1280.3L493.9 1280.8L495 1281.4L496.1 1281.9L497.3 1282.5L498.4 1283.1L499.5 1283.7L500.7 1284.4L501.8 1285L503 1285.7L504.1 1286.4L505.2 1287.1L506.4 1287.8L507.5 1288.5L508.6 1289.2L509.8 1289.9L510.9 1290.5L512 1290.5L513.2 1290.5L514.3 1290.5L515.5 1290.5L516.6 1290.5L517.7 1290.5L518.9 1290.5L520 1290.5L521.1 1290.5L522.3 1290.5L523.4 1290.5L524.5 1290.5L525.7 1290.5L526.8 1290.5L528 1290.5L529.1 1290.5L530.2 1290.5L531.4 1290.5L532.5 1290.5L533.6 1290.5L534.8 1290.5L535.9 1290.5L537 1290.5L538.2 1290.5L539.3 1290.5L540.5 1290.5L541.6 1290.5L542.7 1290.5L543.9 1290.5L545 1290.5L546.1 1290.5L547.3 1290.5" fill="none" stroke="#050505" stroke-width="2.6" stroke-linejoin="round"/>
<text x="434.3" y="1318.8" font-size="13.3" fill="#111" text-anchor="middle" font-style="italic">MARCO</text>
<path d="M456.9 1370v3.1M474.3 1370v3.1M440.9 1333.6v12M403.2 1337.3v3.7M416.3 1349.2v3.1M400.3 1349.2v3.1M454 1337.2v5.3M439.5 1349.2v3.1M374.2 1370v3.1M364.1 1334.3v4.5M396 1349.2v3.1M351 1333.5v3.3M439.5 1370v3.1M394.5 1349.2v3.1M423.5 1349.2v3.1M481.5 1370v3.1M384.4 1336.3v9.3M440.9 1349.2v3.1M390.2 1335.6v4.8M340.9 1370v3.1M409 1349.2v3.1M367 1331.6v6.3M353.9 1349.2v3.1M419.2 1349.2v3.1M385.8 1370v3.1M435.1 1339.4v6.2M477.2 1349.2v3.1M480.1 1349.2v3.1M481.5 1349.2v3.1M438 1370v3.1M417.7 1349.2v3.1M355.4 1370v3.1M367 1338v7.6M390.2 1370v3.1M461.2 1349.2v3.1M381.5 1349.2v3.1M406.1 1338.4v7.2M378.6 1349.2v3.1M390.2 1340.3v5.2M417.7 1336.4v5.1M406.1 1349.2v3.1M411.9 1370v3.1M356.8 1340.6v4.9M461.2 1370v3.1M375.7 1370v3.1M372.8 1349.2v3.1M356.8 1349.2v3.1M361.2 1370v3.1M451.1 1370v3.1M423.5 1370v3.1M417.7 1370v3.1M403.2 1341v4.6M455.4 1349.2v3.1M436.6 1370v3.1M478.6 1370v3.1M438 1349.2v3.1M401.8 1370v3.1M458.3 1370v3.1M483 1335.5v10.1M410.5 1329.1v16.5M433.7 1349.2v3.1M367 1349.2v3.1M329.3 1370v3.1M358.3 1349.2v3.1M393.1 1370v3.1M403.2 1370v3.1M382.9 1370v3.1M397.4 1370v3.1M374.2 1333.8v11.8M480.1 1370v3.1M410.5 1349.2v3.1M404.7 1349.2v3.1M361.2 1331.4v14.2M442.4 1370v3.1M352.5 1370v3.1M397.4 1349.2v3.1M416.3 1336.4v9.1M401.8 1349.2v3.1M371.3 1370v3.1M369.9 1331.8v13.7M396 1340.6v5M497.5 1370v3.1M429.3 1337v8.5M398.9 1335.4v3M387.3 1370v3.1M391.6 1337.1v5M451.1 1349.2v3.1M397.4 1334.2v3.1M394.5 1338.4v7.2M472.8 1349.2v3.1M443.8 1370v3.1M422.1 1341.1v4.5M381.5 1370v3.1M385.8 1349.2v3.1M443.8 1349.2v3.1M385.8 1337.5v8.1M404.7 1340.2v5.4M358.3 1336.4v9.2M369.9 1349.2v3.1M365.5 1330v15.6M382.9 1349.2v3.1M413.4 1370v3.1M362.6 1349.2v3.1M401.8 1335.3v10.3M362.6 1329.5v12.5M446.7 1341.5v4M353.9 1370v3.1M322.1 1342.6v3M398.9 1370v3.1M417.7 1341.5v4.1M448.2 1336v5.6M419.2 1338.9v6.7M474.3 1335.4v10.2M391.6 1370v3.1M358.3 1331.5v4.9" stroke="#d97173" stroke-width="2.05" stroke-linecap="round" fill="none"/>
<path d="M329.3 1329.1v6M327.8 1328.7v7.6M326.4 1349.2v3.1M324.9 1334.3v11.3M409 1337.5v8.1M488.8 1349.2v3.1M332.2 1370v3.1M342.3 1330.8v6M484.4 1337.8v7.8M332.2 1349.2v3.1M355.4 1330.1v15.5M333.6 1370v3.1M484.4 1370v3.1M339.4 1330.8v10.4M338 1349.2v3.1M345.2 1370v3.1M477.2 1370v3.1M352.5 1349.2v3.1M483 1370v3.1M329.3 1349.2v3.1M320.6 1330.5v7M327.8 1349.2v3.1M338 1328.4v10.5M338 1370v3.1M330.7 1333.1v12.5M346.7 1337.1v8.5M349.6 1370v3.1M377.1 1335.7v9.9M487.3 1342.5v3.1M333.6 1349.2v3.1M348.1 1334.5v11M322.1 1349.2v3.1M330.7 1329.1v4M340.9 1332.8v12.8M339.4 1341.2v4.4M330.7 1370v3.1M342.3 1349.2v3.1M327.8 1336.4v9.2M336.5 1370v3.1M343.8 1341.6v4M326.4 1370v3.1M332.2 1328.9v16.7M349.6 1349.2v3.1M333.6 1331.2v14.4" stroke="#86c4a3" stroke-width="2.05" stroke-linecap="round" fill="none"/>
<path d="M468.5 1335.5v10.1M400.3 1370v3.1M426.4 1341.4v4.2M462.7 1349.2v3.1M454 1370v3.1M465.6 1370v3.1M438 1332.9v4.3M456.9 1349.2v3.1M469.9 1349.2v3.1M471.4 1370v3.1M398.9 1338.4v7.2M445.3 1336.7v8.9M427.9 1370v3.1M487.3 1370v3.1M454 1342.5v3.1M506.2 1343.2v2.4M414.8 1370v3.1M411.9 1339v6.6M388.7 1370v3.1M425 1370v3.1M452.5 1337.3v5M426.4 1335.3v6.2M356.8 1331.7v8.9M420.6 1336.2v3.8M432.2 1349.2v3.1M364.1 1370v3.1M445.3 1370v3.1M530.8 1370v3.1M420.6 1340v5.6M423.5 1335.4v3.9M414.8 1349.2v3.1M426.4 1349.2v3.1" stroke="#eba95f" stroke-width="2.05" stroke-linecap="round" fill="none"/>
<path d="M546.8 1343.2v2.4M507.6 1370v3.1M504.7 1349.2v3.1M494.6 1349.2v3.1M485.9 1370v3.1M493.1 1370v3.1M512 1349.2v3.1M525 1349.2v3.1M536.6 1349.2v3.1M514.9 1370v3.1M542.4 1343.1v2.4M532.3 1343.2v2.4M501.8 1370v3.1M496 1349.2v3.1M535.2 1343.2v2.4M532.3 1370v3.1M543.9 1343.2v2.4M541 1343.2v2.4M503.3 1343v2.5M529.4 1370v3.1M526.5 1370v3.1M517.8 1349.2v3.1M532.3 1349.2v3.1M494.6 1370v3.1M538.1 1370v3.1M536.6 1370v3.1M500.4 1349.2v3.1M527.9 1349.2v3.1M491.7 1370v3.1M496 1343v2.6M525 1370v3.1M525 1337.7v7.9M498.9 1349.2v3.1M539.5 1343.2v2.4M542.4 1349.2v3.1M533.7 1370v3.1M504.7 1370v3.1M519.2 1349.2v3.1M527.9 1370v3.1M510.5 1370v3.1M510.5 1349.2v3.1M520.7 1370v3.1" stroke="#b583c8" stroke-width="2.05" stroke-linecap="round" fill="none"/>
<path d="M411.9 1349.2v3.1M335.1 1349.2v3.1M436.6 1338.7v6.9M380 1349.2v3.1M427.9 1349.2v3.1M391.6 1349.2v3.1M349.6 1330.4v15.2M488.8 1370v3.1M384.4 1370v3.1M467 1342.4v3.2M478.6 1349.2v3.1M477.2 1338.8v6.8M430.8 1370v3.1M456.9 1341.2v4.4M513.4 1370v3.1M348.1 1330.8v3.8M472.8 1370v3.1M378.6 1339.7v5.9M467 1370v3.1M351 1370v3.1M442.4 1349.2v3.1M403.2 1349.2v3.1M451.1 1340.1v5.5M375.7 1340.8v4.8M406.1 1370v3.1M355.4 1349.2v3.1M452.5 1349.2v3.1M516.3 1370v3.1M348.1 1349.2v3.1M351 1336.7v8.9M393.1 1338.6v7M465.6 1342.5v3.1M422.1 1334.5v6.6M430.8 1342.1v3.5M352.5 1329.9v7.2M432.2 1370v3.1M436.6 1334.1v4.7M438 1337.2v8.4M426.4 1370v3.1M371.3 1334.4v11.2M356.8 1370v3.1M378.6 1370v3.1M381.5 1341v4.6M374.2 1349.2v3.1M388.7 1349.2v3.1M387.3 1349.2v3.1M427.9 1337.6v3.6M413.4 1339.3v6.3M485.9 1341.2v4.4M368.4 1370v3.1M474.3 1349.2v3.1M469.9 1338.5v7.1M467 1349.2v3.1M471.4 1338.8v6.8M448.2 1349.2v3.1M364.1 1349.2v3.1M464.1 1370v3.1M380 1337v8.6M387.3 1336.2v9.4M467 1336.1v6.4M391.6 1342.2v3.4M375.7 1349.2v3.1M359.7 1370v3.1M443.8 1337v3.5M353.9 1340.3v5.3M425 1338.8v6.7M429.3 1370v3.1M367 1370v3.1M388.7 1337.6v8M478.6 1341.5v4.1M407.6 1334.1v11.5M380 1370v3.1M436.6 1349.2v3.1M359.7 1349.2v3.1M362.6 1342v3.6M404.7 1370v3.1M416.3 1370v3.1M449.6 1349.2v3.1M420.6 1349.2v3.1M429.3 1349.2v3.1M365.5 1370v3.1M330.7 1349.2v3.1M364.1 1338.9v6.7M368.4 1335.9v9.7M410.5 1370v3.1M375.7 1337.3v3.5M398.9 1349.2v3.1M429.3 1333.5v3.6M397.4 1337.4v8.2M464.1 1349.2v3.1M384.4 1349.2v3.1M371.3 1349.2v3.1M365.5 1349.2v3.1M362.6 1370v3.1M413.4 1349.2v3.1M361.2 1349.2v3.1M369.9 1370v3.1M320.6 1337.6v8M324.9 1370v3.1M468.5 1349.2v3.1M503.3 1349.2v3.1M455.4 1338.4v7.2M448.2 1341.6v4M407.6 1370v3.1M371.3 1326.6v7.8M468.5 1370v3.1M458.3 1349.2v3.1M353.9 1332.5v7.8M423.5 1339.3v6.3M449.6 1341.3v4.3M433.7 1370v3.1M396 1370v3.1M414.8 1337.6v8M439.5 1333.8v11.8M377.1 1370v3.1M393.1 1349.2v3.1M456.9 1337.1v4.1M394.5 1370v3.1M462.7 1370v3.1M475.7 1335.5v10.1M382.9 1339.2v6.4" stroke="#d97173" stroke-width="2.05" stroke-linecap="round" fill="none"/>
<path d="M343.8 1370v3.1M342.3 1370v3.1M339.4 1349.2v3.1M478.6 1336.6v5M326.4 1331.9v13.7M346.7 1333.8v3.3M320.6 1349.2v3.1M322.1 1332.1v10.5M340.9 1349.2v3.1M348.1 1370v3.1M336.5 1349.2v3.1M446.7 1336.7v4.8M327.8 1370v3.1M335.1 1331.7v13.9M335.1 1370v3.1M358.3 1370v3.1M409 1370v3.1M336.5 1330.5v15.1M445.3 1349.2v3.1M465.6 1334.1v8.4M323.5 1331.2v14.4M338 1338.9v6.6M407.6 1349.2v3.1M346.7 1370v3.1M324.9 1349.2v3.1M484.4 1349.2v3.1M342.3 1336.8v8.7M345.2 1332.4v13.2M483 1349.2v3.1M323.5 1349.2v3.1M490.2 1349.2v3.1M329.3 1335.2v10.4M345.2 1349.2v3.1M343.8 1330.9v10.6M351 1349.2v3.1M343.8 1349.2v3.1M352.5 1337.1v8.5M346.7 1349.2v3.1M449.6 1370v3.1" stroke="#86c4a3" stroke-width="2.05" stroke-linecap="round" fill="none"/>
<path d="M516.3 1349.2v3.1M519.2 1370v3.1M546.8 1349.2v3.1M493.1 1343.2v2.4M509.1 1343.2v2.4M507.6 1349.2v3.1M545.3 1349.2v3.1M529.4 1343.2v2.4M514.9 1349.2v3.1M533.7 1343.2v2.4M517.8 1370v3.1M539.5 1349.2v3.1M533.7 1349.2v3.1M543.9 1349.2v3.1M535.2 1349.2v3.1M496 1370v3.1M498.9 1370v3.1M523.6 1349.2v3.1M545.3 1343.2v2.4M522.1 1349.2v3.1M538.1 1343.2v2.4M523.6 1370v3.1M513.4 1349.2v3.1M503.3 1370v3.1M506.2 1349.2v3.1M506.2 1370v3.1M513.4 1343.2v2.4M527.9 1343.1v2.4M497.5 1349.2v3.1M512 1370v3.1M538.1 1349.2v3.1M522.1 1370v3.1M526.5 1349.2v3.1M536.6 1343.1v2.4M530.8 1349.2v3.1M509.1 1349.2v3.1M541 1349.2v3.1M516.3 1343.2v2.4M535.2 1370v3.1M500.4 1370v3.1M530.8 1343.2v2.4" stroke="#b583c8" stroke-width="2.05" stroke-linecap="round" fill="none"/>
<path d="M465.6 1349.2v3.1M449.6 1336v5.3M481.5 1334.8v10.8M493.1 1349.2v3.1M475.7 1349.2v3.1M469.9 1370v3.1M368.4 1349.2v3.1M427.9 1341.2v4.4M359.7 1331v14.6M430.8 1349.2v3.1M446.7 1349.2v3.1M435.1 1349.2v3.1M420.6 1370v3.1M459.8 1349.2v3.1M435.1 1370v3.1M400.3 1338.7v6.9M452.5 1370v3.1M522.1 1343.2v2.4M452.5 1342.3v3.3M455.4 1370v3.1M459.8 1370v3.1M485.9 1349.2v3.1M446.7 1370v3.1M462.7 1336.5v9.1M368.4 1331.2v4.8M471.4 1349.2v3.1M501.8 1349.2v3.1M451.1 1337v3.1M422.1 1349.2v3.1M443.8 1340.5v5.1M440.9 1370v3.1" stroke="#eba95f" stroke-width="2.05" stroke-linecap="round" fill="none"/>
<line x1="308.3" y1="1327.8" x2="308.3" y2="1373.3" stroke="#222" stroke-width="1.4"/>
<line x1="305" y1="1330.1" x2="308.3" y2="1330.1" stroke="#222" stroke-width="1.2"/>
<text x="303.2" y="1334.5" font-size="12.7" fill="#444" text-anchor="end">10.0</text>
<line x1="305" y1="1350.8" x2="308.3" y2="1350.8" stroke="#222" stroke-width="1.2"/>
<text x="303.2" y="1355.2" font-size="12.7" fill="#444" text-anchor="end">1.0</text>
<line x1="305" y1="1371.5" x2="308.3" y2="1371.5" stroke="#222" stroke-width="1.2"/>
<text x="303.2" y="1375.9" font-size="12.7" fill="#444" text-anchor="end">0.1</text>
<path d="M320 1334.7L321.1 1335.1L322.3 1335.6L323.4 1336L324.5 1336.5L325.7 1337L326.8 1337.4L328 1337.9L329.1 1338.3L330.2 1338.8L331.4 1339.2L332.5 1339.7L333.6 1340.1L334.8 1340.5L335.9 1340.9L337 1341.3L338.2 1341.7L339.3 1342.1L340.5 1342.5L341.6 1342.9L342.7 1343.3L343.9 1343.6L345 1344L346.1 1344.3L347.3 1344.7L348.4 1345L349.5 1345.3L350.7 1345.6L351.8 1345.9L353 1346.2L354.1 1346.5L355.2 1346.8L356.4 1347.1L357.5 1347.4L358.6 1347.6L359.8 1347.9L360.9 1348.2L362 1348.5L363.2 1348.8L364.3 1349L365.5 1349.3L366.6 1349.6L367.7 1349.8L368.9 1350.1L370 1350.4L371.1 1350.6L372.3 1350.9L373.4 1351.1L374.5 1351.4L375.7 1351.6L376.8 1351.9L378 1352.1L379.1 1352.4L380.2 1352.6L381.4 1352.9L382.5 1353.1L383.6 1353.4L384.8 1353.6L385.9 1353.9L387 1354.1L388.2 1354.4L389.3 1354.6L390.5 1354.9L391.6 1355.1L392.7 1355.3L393.9 1355.6L395 1355.8L396.1 1356L397.3 1356.2L398.4 1356.4L399.5 1356.6L400.7 1356.8L401.8 1356.9L403 1357.1L404.1 1357.2L405.2 1357.4L406.4 1357.5L407.5 1357.6L408.6 1357.7L409.8 1357.8L410.9 1357.8L412 1357.9L413.2 1357.9L414.3 1358L415.5 1358L416.6 1358L417.7 1358L418.9 1358L420 1357.9L421.1 1357.9L422.3 1357.9L423.4 1357.8L424.5 1357.8L425.7 1357.7L426.8 1357.7L428 1357.6L429.1 1357.6L430.2 1357.5L431.4 1357.5L432.5 1357.4L433.6 1357.4L434.8 1357.3L435.9 1357.3L437 1357.2L438.2 1357.2L439.3 1357.1L440.5 1357L441.6 1356.9L442.7 1356.8L443.9 1356.7L445 1356.6L446.1 1356.5L447.3 1356.4L448.4 1356.3L449.5 1356.1L450.7 1356L451.8 1355.9L453 1355.8L454.1 1355.7L455.2 1355.6L456.4 1355.5L457.5 1355.4L458.6 1355.4L459.8 1355.3L460.9 1355.3L462 1355.3L463.2 1355.3L464.3 1355.3L465.5 1355.3L466.6 1355.4L467.7 1355.5L468.9 1355.6L470 1355.7L471.1 1355.8L472.3 1355.9L473.4 1356.1L474.5 1356.3L475.7 1356.5L476.8 1356.7L478 1356.9L479.1 1357.1L480.2 1357.3L481.4 1357.5L482.5 1357.8L483.6 1358L484.8 1358.3L485.9 1358.5L487 1358.8L488.2 1359L489.3 1359.3L490.5 1359.6L491.6 1359.8L492.7 1360.1L493.9 1360.4L495 1360.6L496.1 1360.9L497.3 1361.1L498.4 1361.4L499.5 1361.7L500.7 1362L501.8 1362.3L503 1362.6L504.1 1362.9L505.2 1363.2L506.4 1363.5L507.5 1363.8L508.6 1364.1L509.8 1364.4L510.9 1364.7L512 1365.1L513.2 1365.4L514.3 1365.7L515.5 1366L516.6 1366.3L517.7 1366.7L518.9 1367L520 1367.3L521.1 1367.6L522.3 1367.9L523.4 1368.2L524.5 1368.5L525.7 1368.9L526.8 1369.2L528 1369.5L529.1 1369.8L530.2 1370.1L531.4 1370.4L532.5 1370.7L533.6 1371L534.8 1371.3L535.9 1371.5L537 1371.5L538.2 1371.5L539.3 1371.5L540.5 1371.5L541.6 1371.5L542.7 1371.5L543.9 1371.5L545 1371.5L546.1 1371.5L547.3 1371.5" fill="none" stroke="#050505" stroke-width="2.6" stroke-linejoin="round"/>
<text x="434.3" y="1399.6" font-size="13.3" fill="#111" text-anchor="middle" font-style="italic">CD14</text>
<path d="M377.1 1417.7v12.4M465.6 1417.6v12.5M403.2 1414.5v15.6M349.6 1450.8v3.1M481.5 1450.8v3.1M349.6 1430v3.1M429.3 1416.3v3.5M356.8 1414.6v15.5M427.9 1430v3.1M465.6 1450.8v3.1M435.1 1450.8v3.1M442.4 1423.6v6.5M435.1 1430v3.1M355.4 1421.7v8.4M438 1416.2v7.3M469.9 1430v3.1M407.6 1430v3.1M425 1418.8v4.7M411.9 1415.6v14.5M367 1450.8v3.1M378.6 1430v3.1M430.8 1450.8v3.1M488.8 1418.6v11.5M382.9 1450.8v3.1M384.4 1450.8v3.1M393.1 1413v11.8M419.2 1413.8v13.1M387.3 1430v3.1M475.7 1450.8v3.1M430.8 1430v3.1M371.3 1430v3.1M490.2 1415.4v7.6M475.7 1430v3.1M475.7 1416.4v9.6M401.8 1416.6v9.8M458.3 1430v3.1M393.1 1430v3.1M474.3 1412.9v17.2M439.5 1414.2v7.9M439.5 1430v3.1M452.5 1430v3.1M429.3 1450.8v3.1M464.1 1450.8v3.1M442.4 1450.8v3.1M364.1 1415.3v14.8M455.4 1450.8v3.1M400.3 1430v3.1M391.6 1418v12.1M356.8 1430v3.1M474.3 1430v3.1M353.9 1450.8v3.1M519.2 1430v3.1M345.2 1430v3.1M380 1413.5v16.6M365.5 1414.3v6.7M390.2 1430v3.1M381.5 1415.5v14.6M327.8 1430v3.1M359.7 1420.3v9.8M364.1 1430v3.1M385.8 1450.8v3.1M432.2 1430v3.1M384.4 1414.8v9.4M368.4 1421.2v8.9M459.8 1430v3.1M425 1450.8v3.1M433.7 1413.9v9.9M477.2 1420.3v9.8M406.1 1430v3.1M459.8 1417.8v9.1M375.7 1430v3.1M420.6 1450.8v3.1M416.3 1412.5v17.6M416.3 1450.8v3.1M440.9 1450.8v3.1M451.1 1417.1v13M385.8 1421.2v8.9M387.3 1450.8v3.1M425 1423.5v6.6M365.5 1450.8v3.1M446.7 1416.4v9.4M398.9 1424.9v5.2M442.4 1415.5v8.1M432.2 1420.1v10M487.3 1430v3.1M536.6 1430v3.1M478.6 1430v3.1M374.2 1430v3.1M401.8 1426.4v3.7M393.1 1450.8v3.1M348.1 1417.7v12.4M449.6 1419.2v10.9M403.2 1430v3.1M371.3 1415.8v6.7M356.8 1450.8v3.1M368.4 1450.8v3.1M469.9 1418.7v11.4M440.9 1413.5v12.6M446.7 1450.8v3.1M425 1430v3.1M423.5 1413.5v4.1M419.2 1426.9v3.2M381.5 1450.8v3.1M487.3 1417.7v6.2M397.4 1425.8v4.3M420.6 1422.6v7.5M387.3 1414.2v15.9M393.1 1424.7v5.4M359.7 1430v3.1M375.7 1418.7v11.4M377.1 1430v3.1M353.9 1416.8v13.3M391.6 1450.8v3.1M358.3 1414.2v9.6M426.4 1450.8v3.1M326.4 1450.8v3.1M388.7 1415.2v3.5M411.9 1430v3.1M348.1 1450.8v3.1M454 1430v3.1M398.9 1430v3.1M472.8 1430v3.1M374.2 1450.8v3.1M371.3 1450.8v3.1M382.9 1430v3.1M414.8 1426.2v3.9M461.2 1430v3.1M339.4 1424.8v5.3M407.6 1417.4v12.7M497.5 1412.5v17.6M397.4 1430v3.1M423.5 1450.8v3.1M471.4 1430v3.1M448.2 1450.8v3.1M443.8 1450.8v3.1M433.7 1423.8v6.3M471.4 1421.8v8.3M422.1 1425.4v4.7" stroke="#d97173" stroke-width="2.05" stroke-linecap="round" fill="none"/>
<path d="M419.2 1450.8v3.1M410.5 1430v3.1M361.2 1430v3.1M461.2 1416.1v6.1M446.7 1425.9v4.2M438 1430v3.1M455.4 1416.2v13.9M384.4 1424.1v6M514.9 1450.8v3.1M451.1 1430v3.1M485.9 1424.4v5.7M464.1 1413.7v16.4M483 1430v3.1M465.6 1430v3.1M448.2 1414.8v9.9M400.3 1414.1v16M445.3 1430v3.1M464.1 1430v3.1M435.1 1417.3v12.8M443.8 1430v3.1M427.9 1413.8v4.7M483 1427v3.1M527.9 1450.8v3.1M462.7 1426.5v3.6M459.8 1450.8v3.1M420.6 1415.5v7M430.8 1417.9v5.3M458.3 1413.9v16.2M451.1 1450.8v3.1M436.6 1415.6v6.7M422.1 1430v3.1M456.9 1430v3.1M449.6 1430v3.1M497.5 1450.8v3.1M452.5 1450.8v3.1M414.8 1430v3.1M477.2 1430v3.1M388.7 1418.7v11.4M454 1415.7v6.1M358.3 1450.8v3.1M456.9 1415.6v14.5M438 1450.8v3.1" stroke="#eba95f" stroke-width="2.05" stroke-linecap="round" fill="none"/>
<path d="M351 1430v3.1M343.8 1416.4v8.9M330.7 1430v3.1M330.7 1450.8v3.1M320.6 1430v3.1M333.6 1430v3.1M491.7 1430v3.1M390.2 1417.2v12.9M472.8 1425.7v4.4M327.8 1450.8v3.1M339.4 1412.5v12.3M332.2 1450.8v3.1M340.9 1430v3.1M329.3 1415.9v14.2M340.9 1416.3v3.2M343.8 1425.3v4.8M343.8 1430v3.1M485.9 1450.8v3.1M333.6 1450.8v3.1M491.7 1416.9v13.2M336.5 1450.8v3.1M323.5 1430v3.1M329.3 1450.8v3.1M340.9 1450.8v3.1M488.8 1430v3.1M343.8 1450.8v3.1M485.9 1415.5v8.8M333.6 1424v6.1M338 1450.8v3.1M336.5 1420.8v9.3M335.1 1416.7v13.4M338 1430v3.1M351 1450.8v3.1M324.9 1450.8v3.1M352.5 1419.9v10.2M443.8 1422v8.1M326.4 1418.1v12M338 1417.8v12.3M329.3 1430v3.1M336.5 1415.3v5.6M361.2 1415.7v14.4M485.9 1430v3.1M330.7 1416.6v13.5M333.6 1416.3v7.7M349.6 1416.1v14" stroke="#86c4a3" stroke-width="2.05" stroke-linecap="round" fill="none"/>
<path d="M498.9 1430v3.1M494.6 1413.7v11.9M512 1430v3.1M542.4 1413.7v16.4M510.5 1413.6v3.9M519.2 1421.7v8.4M532.3 1450.8v3.1M517.8 1430v3.1M529.4 1450.8v3.1M519.2 1414.7v7.1M545.3 1430v3.1M526.5 1430v3.1M523.6 1450.8v3.1M530.8 1425.8v4.3M509.1 1450.8v3.1M506.2 1430v3.1M536.6 1450.8v3.1M541 1430v3.1M509.1 1413.2v8.3M525 1450.8v3.1M520.7 1420.6v9.5M507.6 1450.8v3.1M512 1423.7v6.4M500.4 1430v3.1M506.2 1418.8v11.3M501.8 1420.4v9.7M504.7 1430v3.1M487.3 1423.9v6.2M496 1450.8v3.1M546.8 1416.3v13.8M519.2 1450.8v3.1M493.1 1412.6v17.5M498.9 1412.4v17.7M526.5 1413.1v10.4M525 1419.3v10.8M546.8 1412.4v3.8M533.7 1412.9v17.2M494.6 1430v3.1M520.7 1430v3.1M516.3 1450.8v3.1M510.5 1430v3.1M522.1 1450.8v3.1M532.3 1413.4v5.7M507.6 1414.6v10.3M523.6 1423.5v6.6M520.7 1450.8v3.1M494.6 1450.8v3.1M522.1 1413.1v3.4M543.9 1430v3.1M541 1414.6v15.5M545.3 1418.4v11.7M507.6 1430v3.1M539.5 1426.6v3.5" stroke="#b583c8" stroke-width="2.05" stroke-linecap="round" fill="none"/>
<path d="M404.7 1414.3v15.8M355.4 1450.8v3.1M413.4 1415.2v6.6M372.8 1421.5v8.6M391.6 1430v3.1M468.5 1450.8v3.1M352.5 1450.8v3.1M359.7 1450.8v3.1M440.9 1426.1v4M413.4 1450.8v3.1M385.8 1417.5v3.7M436.6 1422.4v7.7M396 1430v3.1M396 1450.8v3.1M367 1430v3.1M432.2 1450.8v3.1M359.7 1414.8v5.5M542.4 1430v3.1M445.3 1450.8v3.1M477.2 1450.8v3.1M417.7 1450.8v3.1M403.2 1450.8v3.1M353.9 1413.5v3.3M388.7 1430v3.1M358.3 1430v3.1M445.3 1419.3v10.8M419.2 1430v3.1M478.6 1450.8v3.1M406.1 1416.3v13.8M484.4 1419.9v10.2M375.7 1450.8v3.1M327.8 1416.6v13.5M381.5 1430v3.1M430.8 1423.2v6.9M400.3 1450.8v3.1M406.1 1450.8v3.1M514.9 1414.5v15.6M401.8 1430v3.1M398.9 1450.8v3.1M404.7 1430v3.1M429.3 1430v3.1M439.5 1422.1v8M409 1427v3.1M371.3 1422.5v7.6M436.6 1450.8v3.1M478.6 1415.7v8.2M481.5 1430v3.1M398.9 1414.2v10.7M323.5 1450.8v3.1M380 1430v3.1M382.9 1417.1v7.9M480.1 1450.8v3.1M372.8 1450.8v3.1M545.3 1450.8v3.1M362.6 1415.5v6.3M452.5 1422.4v7.7M459.8 1426.9v3.2M417.7 1416.9v13.2M420.6 1430v3.1M410.5 1450.8v3.1M351 1419.6v10.5M478.6 1423.9v6.2M429.3 1419.9v10.2M407.6 1450.8v3.1M427.9 1418.5v11.6M358.3 1423.8v6.3M380 1450.8v3.1M388.7 1450.8v3.1M484.4 1450.8v3.1M378.6 1450.8v3.1M394.5 1450.8v3.1M372.8 1430v3.1M394.5 1430v3.1M397.4 1418.6v7.2M396 1414.5v15.6M423.5 1417.6v12.5M411.9 1450.8v3.1M351 1413.6v6M352.5 1430v3.1M368.4 1430v3.1M426.4 1430v3.1M362.6 1450.8v3.1M410.5 1425.6v4.5M409 1430v3.1M422.1 1414.1v11.2M401.8 1450.8v3.1M433.7 1430v3.1M355.4 1411.9v9.8M368.4 1416.6v4.6M365.5 1430v3.1M390.2 1450.8v3.1M467 1430v3.1M397.4 1450.8v3.1M449.6 1450.8v3.1M438 1423.5v6.6M446.7 1430v3.1M369.9 1430v3.1M413.4 1421.8v8.3M377.1 1450.8v3.1M458.3 1450.8v3.1M442.4 1430v3.1M369.9 1450.8v3.1M440.9 1430v3.1M404.7 1450.8v3.1M426.4 1413.1v17M409 1450.8v3.1M461.2 1422.2v7.9M353.9 1430v3.1M410.5 1415.8v9.8M432.2 1415.1v5M503.3 1450.8v3.1M471.4 1416.7v5.1M355.4 1430v3.1M378.6 1416.7v13.4M477.2 1416.7v3.7M346.7 1450.8v3.1M365.5 1421v9.1M372.8 1416.5v5M472.8 1450.8v3.1M461.2 1450.8v3.1M462.7 1430v3.1M472.8 1412.5v13.2M409 1413.1v13.9M362.6 1430v3.1M538.1 1450.8v3.1M413.4 1430v3.1M436.6 1430v3.1M382.9 1425.1v5M384.4 1430v3.1M490.2 1430v3.1M361.2 1450.8v3.1M475.7 1426v4.1M385.8 1430v3.1M362.6 1421.8v8.3M394.5 1414v16.1M369.9 1413.4v16.7M484.4 1430v3.1M414.8 1416v10.2M448.2 1424.8v5.3M423.5 1430v3.1M427.9 1450.8v3.1M468.5 1430v3.1M484.4 1415.8v4M445.3 1411.6v7.7M481.5 1417.2v7.4" stroke="#d97173" stroke-width="2.05" stroke-linecap="round" fill="none"/>
<path d="M462.7 1413.6v12.9M454 1450.8v3.1M454 1421.9v8.2M455.4 1430v3.1M469.9 1450.8v3.1M468.5 1419.5v10.6M462.7 1450.8v3.1M367 1414.7v15.4M448.2 1430v3.1M422.1 1450.8v3.1M506.2 1450.8v3.1M439.5 1450.8v3.1M491.7 1450.8v3.1M480.1 1416.5v7.5M468.5 1414v5.6M471.4 1450.8v3.1M483 1450.8v3.1M452.5 1416.9v5.5M538.1 1413.6v16.5M417.7 1430v3.1M433.7 1450.8v3.1M416.3 1430v3.1M456.9 1450.8v3.1M480.1 1423.9v6.2M509.1 1430v3.1M374.2 1416v14.1M414.8 1450.8v3.1M467 1416.5v13.6M539.5 1430v3.1M449.6 1414.3v4.8M480.1 1430v3.1M443.8 1416.1v5.9" stroke="#eba95f" stroke-width="2.05" stroke-linecap="round" fill="none"/>
<path d="M339.4 1450.8v3.1M332.2 1430v3.1M332.2 1412.6v17.5M364.1 1450.8v3.1M336.5 1430v3.1M320.6 1450.8v3.1M322.1 1425.5v4.6M474.3 1450.8v3.1M322.1 1450.8v3.1M346.7 1415.6v3.6M346.7 1419.2v10.9M352.5 1415.1v4.8M342.3 1430v3.1M323.5 1415.2v14.9M345.2 1414.2v15.9M339.4 1430v3.1M342.3 1418.1v12M320.6 1415.5v14.6M342.3 1450.8v3.1M346.7 1430v3.1M326.4 1430v3.1M335.1 1430v3.1M324.9 1430v3.1M348.1 1430v3.1M490.2 1423v7.1M335.1 1450.8v3.1M483 1416.3v10.7M324.9 1414.1v16M490.2 1450.8v3.1M481.5 1424.6v5.5M488.8 1450.8v3.1M340.9 1419.5v10.6M488.8 1414.1v4.6M322.1 1430v3.1M322.1 1415.5v10" stroke="#86c4a3" stroke-width="2.05" stroke-linecap="round" fill="none"/>
<path d="M525 1411.5v7.8M523.6 1411.5v12M504.7 1450.8v3.1M545.3 1413.7v4.7M494.6 1425.6v4.5M543.9 1414.6v11.5M538.1 1430v3.1M523.6 1430v3.1M503.3 1420.2v9.9M503.3 1430v3.1M536.6 1415.2v14.9M529.4 1414v16.1M510.5 1417.5v12.6M516.3 1411.6v18.5M517.8 1450.8v3.1M498.9 1450.8v3.1M542.4 1450.8v3.1M501.8 1430v3.1M507.6 1424.8v5.3M527.9 1430v3.1M520.7 1411.6v9M529.4 1430v3.1M543.9 1426.1v4M532.3 1430v3.1M526.5 1450.8v3.1M546.8 1430v3.1M532.3 1419.1v11M535.2 1426.1v4M510.5 1450.8v3.1M501.8 1415.1v5.4M530.8 1450.8v3.1M535.2 1414.5v11.6M525 1430v3.1M506.2 1415.3v3.5M533.7 1430v3.1M513.4 1413.9v16.2M535.2 1450.8v3.1M526.5 1423.4v6.7M516.3 1430v3.1M500.4 1425.8v4.3M530.8 1430v3.1M493.1 1450.8v3.1M512 1450.8v3.1M509.1 1421.5v8.6M512 1415.2v8.5M493.1 1430v3.1M496 1412.8v17.3M503.3 1415.8v4.4M535.2 1430v3.1M527.9 1412.5v6.2M496 1430v3.1M522.1 1430v3.1M533.7 1450.8v3.1M513.4 1430v3.1M500.4 1450.8v3.1M527.9 1418.7v11.4M501.8 1450.8v3.1M530.8 1411.5v14.2M539.5 1414.7v12M514.9 1430v3.1M500.4 1412.2v13.5M522.1 1416.5v13.6M487.3 1450.8v3.1M504.7 1412.5v17.6M517.8 1415v15.1M497.5 1430v3.1" stroke="#b583c8" stroke-width="2.05" stroke-linecap="round" fill="none"/>
<line x1="308.3" y1="1408.6" x2="308.3" y2="1454.1" stroke="#222" stroke-width="1.4"/>
<line x1="305" y1="1410.9" x2="308.3" y2="1410.9" stroke="#222" stroke-width="1.2"/>
<text x="303.2" y="1415.3" font-size="12.7" fill="#444" text-anchor="end">10.0</text>
<line x1="305" y1="1431.6" x2="308.3" y2="1431.6" stroke="#222" stroke-width="1.2"/>
<text x="303.2" y="1436" font-size="12.7" fill="#444" text-anchor="end">1.0</text>
<line x1="305" y1="1452.3" x2="308.3" y2="1452.3" stroke="#222" stroke-width="1.2"/>
<text x="303.2" y="1456.7" font-size="12.7" fill="#444" text-anchor="end">0.1</text>
<path d="M320 1428.7L321.1 1428.7L322.3 1428.6L323.4 1428.6L324.5 1428.5L325.7 1428.5L326.8 1428.4L328 1428.4L329.1 1428.3L330.2 1428.3L331.4 1428.2L332.5 1428.2L333.6 1428.1L334.8 1428.1L335.9 1428L337 1428L338.2 1427.9L339.3 1427.9L340.5 1427.8L341.6 1427.8L342.7 1427.7L343.9 1427.7L345 1427.6L346.1 1427.6L347.3 1427.5L348.4 1427.5L349.5 1427.4L350.7 1427.4L351.8 1427.4L353 1427.3L354.1 1427.3L355.2 1427.2L356.4 1427.2L357.5 1427.1L358.6 1427.1L359.8 1427L360.9 1427L362 1426.9L363.2 1426.9L364.3 1426.8L365.5 1426.8L366.6 1426.7L367.7 1426.7L368.9 1426.7L370 1426.6L371.1 1426.6L372.3 1426.6L373.4 1426.5L374.5 1426.5L375.7 1426.5L376.8 1426.5L378 1426.4L379.1 1426.4L380.2 1426.4L381.4 1426.4L382.5 1426.4L383.6 1426.4L384.8 1426.4L385.9 1426.4L387 1426.4L388.2 1426.4L389.3 1426.4L390.5 1426.4L391.6 1426.4L392.7 1426.4L393.9 1426.4L395 1426.4L396.1 1426.5L397.3 1426.5L398.4 1426.5L399.5 1426.5L400.7 1426.5L401.8 1426.5L403 1426.6L404.1 1426.6L405.2 1426.6L406.4 1426.6L407.5 1426.6L408.6 1426.6L409.8 1426.7L410.9 1426.7L412 1426.7L413.2 1426.7L414.3 1426.7L415.5 1426.8L416.6 1426.8L417.7 1426.8L418.9 1426.8L420 1426.8L421.1 1426.9L422.3 1426.9L423.4 1426.9L424.5 1426.9L425.7 1427L426.8 1427L428 1427L429.1 1427L430.2 1427.1L431.4 1427.1L432.5 1427.1L433.6 1427.2L434.8 1427.2L435.9 1427.2L437 1427.3L438.2 1427.3L439.3 1427.3L440.5 1427.4L441.6 1427.4L442.7 1427.5L443.9 1427.5L445 1427.6L446.1 1427.6L447.3 1427.7L448.4 1427.7L449.5 1427.8L450.7 1427.8L451.8 1427.9L453 1427.9L454.1 1428L455.2 1428L456.4 1428L457.5 1428.1L458.6 1428.1L459.8 1428.2L460.9 1428.2L462 1428.2L463.2 1428.2L464.3 1428.3L465.5 1428.3L466.6 1428.3L467.7 1428.3L468.9 1428.3L470 1428.3L471.1 1428.3L472.3 1428.3L473.4 1428.3L474.5 1428.3L475.7 1428.3L476.8 1428.2L478 1428.2L479.1 1428.2L480.2 1428.2L481.4 1428.2L482.5 1428.1L483.6 1428.1L484.8 1428.1L485.9 1428L487 1428L488.2 1428L489.3 1427.9L490.5 1427.9L491.6 1427.8L492.7 1427.8L493.9 1427.7L495 1427.7L496.1 1427.6L497.3 1427.6L498.4 1427.5L499.5 1427.5L500.7 1427.4L501.8 1427.3L503 1427.3L504.1 1427.2L505.2 1427.1L506.4 1427L507.5 1427L508.6 1426.9L509.8 1426.8L510.9 1426.7L512 1426.6L513.2 1426.6L514.3 1426.5L515.5 1426.4L516.6 1426.3L517.7 1426.2L518.9 1426.1L520 1426L521.1 1425.9L522.3 1425.8L523.4 1425.7L524.5 1425.6L525.7 1425.5L526.8 1425.4L528 1425.3L529.1 1425.2L530.2 1425.1L531.4 1424.9L532.5 1424.8L533.6 1424.7L534.8 1424.6L535.9 1424.4L537 1424.3L538.2 1424.2L539.3 1424.1L540.5 1423.9L541.6 1423.8L542.7 1423.7L543.9 1423.5L545 1423.4L546.1 1423.3L547.3 1423.1" fill="none" stroke="#050505" stroke-width="2.6" stroke-linejoin="round"/>
<line x1="308.3" y1="1454" x2="557.6" y2="1454" stroke="#222" stroke-width="1.4"/>
<line x1="320" y1="1454" x2="320" y2="1457.6" stroke="#222" stroke-width="1.2"/>
<text x="320" y="1472.6" font-size="12.9" fill="#333" text-anchor="middle">40</text>
<line x1="378.5" y1="1454" x2="378.5" y2="1457.6" stroke="#222" stroke-width="1.2"/>
<text x="378.5" y="1472.6" font-size="12.9" fill="#333" text-anchor="middle">30</text>
<line x1="437" y1="1454" x2="437" y2="1457.6" stroke="#222" stroke-width="1.2"/>
<text x="437" y="1472.6" font-size="12.9" fill="#333" text-anchor="middle">20</text>
<line x1="495.5" y1="1454" x2="495.5" y2="1457.6" stroke="#222" stroke-width="1.2"/>
<text x="495.5" y="1472.6" font-size="12.9" fill="#333" text-anchor="middle">10</text>
<line x1="554" y1="1454" x2="554" y2="1457.6" stroke="#222" stroke-width="1.2"/>
<text x="554" y="1472.6" font-size="12.9" fill="#333" text-anchor="middle">0</text>
<text x="439.5" y="1491.2" font-size="13.5" fill="#111" text-anchor="middle">Pseudo−time</text>
<line x1="458.5" y1="1499.2" x2="423.9" y2="1499.2" stroke="#222" stroke-width="2.2"/>
<polygon points="416.5,1499.2 426,1494.8 424.2,1499.2 426,1503.6" fill="#222"/>
<text x="273" y="1230.5" font-size="13.3" fill="#111" text-anchor="middle" transform="rotate(-90 273 1230.5)">Relative Expression</text>
<text x="592.5" y="869.6" font-size="27.4" fill="#111">J</text>
<text x="748.3" y="859.8" font-size="17.8" fill="#111" text-anchor="middle">Wu et al.</text>
<rect x="643.3" y="869.2" width="36" height="12.4" fill="#b6b6dc"/>
<rect x="679.2" y="869.2" width="36" height="12.4" fill="#dadaed"/>
<rect x="715.1" y="869.2" width="36" height="12.4" fill="#cecee8"/>
<rect x="751.1" y="869.2" width="36" height="12.4" fill="#e67878"/>
<rect x="787" y="869.2" width="36" height="12.4" fill="#9d9dd0"/>
<rect x="822.9" y="869.2" width="36" height="12.4" fill="#e67878"/>
<text x="860.8" y="879.4" font-size="13.52" fill="#111">Bile acid metabolism</text>
<rect x="643.3" y="881.5" width="36" height="12.4" fill="#a9a9d6"/>
<rect x="679.2" y="881.5" width="36" height="12.4" fill="#b6b6dc"/>
<rect x="715.1" y="881.5" width="36" height="12.4" fill="#a9a9d6"/>
<rect x="751.1" y="881.5" width="36" height="12.4" fill="#ffffff"/>
<rect x="787" y="881.5" width="36" height="12.4" fill="#e05656"/>
<rect x="822.9" y="881.5" width="36" height="12.4" fill="#f0b0b0"/>
<text x="860.8" y="891.7" font-size="13.52" fill="#111">Heme metabolism</text>
<rect x="643.3" y="893.8" width="36" height="12.4" fill="#222296"/>
<rect x="679.2" y="893.8" width="36" height="12.4" fill="#dadaed"/>
<rect x="715.1" y="893.8" width="36" height="12.4" fill="#fdf4f4"/>
<rect x="751.1" y="893.8" width="36" height="12.4" fill="#e6e6f3"/>
<rect x="787" y="893.8" width="36" height="12.4" fill="#f2bcbc"/>
<rect x="822.9" y="893.8" width="36" height="12.4" fill="#e67878"/>
<text x="860.8" y="904" font-size="13.52" fill="#111">Protein secretion</text>
<rect x="643.3" y="906.1" width="36" height="12.4" fill="#dadaed"/>
<rect x="679.2" y="906.1" width="36" height="12.4" fill="#e67878"/>
<rect x="715.1" y="906.1" width="36" height="12.4" fill="#222296"/>
<rect x="751.1" y="906.1" width="36" height="12.4" fill="#f2bcbc"/>
<rect x="787" y="906.1" width="36" height="12.4" fill="#cecee8"/>
<rect x="822.9" y="906.1" width="36" height="12.4" fill="#fbe8e8"/>
<text x="860.8" y="916.3" font-size="13.52" fill="#111">Coagulation</text>
<rect x="643.3" y="918.4" width="36" height="12.4" fill="#f0b0b0"/>
<rect x="679.2" y="918.4" width="36" height="12.4" fill="#f7d2d2"/>
<rect x="715.1" y="918.4" width="36" height="12.4" fill="#222296"/>
<rect x="751.1" y="918.4" width="36" height="12.4" fill="#f0b0b0"/>
<rect x="787" y="918.4" width="36" height="12.4" fill="#c2c2e2"/>
<rect x="822.9" y="918.4" width="36" height="12.4" fill="#f3f3f9"/>
<text x="860.8" y="928.6" font-size="13.52" fill="#111">Hedgehog signaling</text>
<rect x="643.3" y="930.7" width="36" height="12.4" fill="#f0b0b0"/>
<rect x="679.2" y="930.7" width="36" height="12.4" fill="#e46d6d"/>
<rect x="715.1" y="930.7" width="36" height="12.4" fill="#4747a7"/>
<rect x="751.1" y="930.7" width="36" height="12.4" fill="#dadaed"/>
<rect x="787" y="930.7" width="36" height="12.4" fill="#fbe8e8"/>
<rect x="822.9" y="930.7" width="36" height="12.4" fill="#a9a9d6"/>
<text x="860.8" y="940.9" font-size="13.52" fill="#c0272d">Angiogenesis</text>
<rect x="643.3" y="943" width="36" height="12.4" fill="#f9dddd"/>
<rect x="679.2" y="943" width="36" height="12.4" fill="#e05656"/>
<rect x="715.1" y="943" width="36" height="12.4" fill="#3b3ba1"/>
<rect x="751.1" y="943" width="36" height="12.4" fill="#ffffff"/>
<rect x="787" y="943" width="36" height="12.4" fill="#ffffff"/>
<rect x="822.9" y="943" width="36" height="12.4" fill="#dadaed"/>
<text x="860.8" y="953.2" font-size="13.52" fill="#111">Complement</text>
<rect x="643.3" y="955.3" width="36" height="12.4" fill="#e88383"/>
<rect x="679.2" y="955.3" width="36" height="12.4" fill="#f4c7c7"/>
<rect x="715.1" y="955.3" width="36" height="12.4" fill="#3b3ba1"/>
<rect x="751.1" y="955.3" width="36" height="12.4" fill="#cecee8"/>
<rect x="787" y="955.3" width="36" height="12.4" fill="#f7d2d2"/>
<rect x="822.9" y="955.3" width="36" height="12.4" fill="#dadaed"/>
<text x="860.8" y="965.5" font-size="13.52" fill="#111">IL6 jak stat3 signaling</text>
<rect x="643.3" y="967.6" width="36" height="12.4" fill="#f0b0b0"/>
<rect x="679.2" y="967.6" width="36" height="12.4" fill="#fbe8e8"/>
<rect x="715.1" y="967.6" width="36" height="12.4" fill="#0a0a8a"/>
<rect x="751.1" y="967.6" width="36" height="12.4" fill="#f7d2d2"/>
<rect x="787" y="967.6" width="36" height="12.4" fill="#f4c7c7"/>
<rect x="822.9" y="967.6" width="36" height="12.4" fill="#dadaed"/>
<text x="860.8" y="977.8" font-size="13.52" fill="#111">Peroxisome</text>
<rect x="643.3" y="979.9" width="36" height="12.4" fill="#f7d2d2"/>
<rect x="679.2" y="979.9" width="36" height="12.4" fill="#ffffff"/>
<rect x="715.1" y="979.9" width="36" height="12.4" fill="#a9a9d6"/>
<rect x="751.1" y="979.9" width="36" height="12.4" fill="#5454ad"/>
<rect x="787" y="979.9" width="36" height="12.4" fill="#e05656"/>
<rect x="822.9" y="979.9" width="36" height="12.4" fill="#fdf4f4"/>
<text x="860.8" y="990.1" font-size="13.52" fill="#111">Uv response dn</text>
<rect x="643.3" y="992.2" width="36" height="12.4" fill="#e46d6d"/>
<rect x="679.2" y="992.2" width="36" height="12.4" fill="#a9a9d6"/>
<rect x="715.1" y="992.2" width="36" height="12.4" fill="#9d9dd0"/>
<rect x="751.1" y="992.2" width="36" height="12.4" fill="#f9dddd"/>
<rect x="787" y="992.2" width="36" height="12.4" fill="#eea5a5"/>
<rect x="822.9" y="992.2" width="36" height="12.4" fill="#9d9dd0"/>
<text x="860.8" y="1002.4" font-size="13.52" fill="#111">Wnt beta catenin signaling</text>
<rect x="643.3" y="1004.5" width="36" height="12.4" fill="#e46d6d"/>
<rect x="679.2" y="1004.5" width="36" height="12.4" fill="#f7d2d2"/>
<rect x="715.1" y="1004.5" width="36" height="12.4" fill="#9d9dd0"/>
<rect x="751.1" y="1004.5" width="36" height="12.4" fill="#6060b3"/>
<rect x="787" y="1004.5" width="36" height="12.4" fill="#eea5a5"/>
<rect x="822.9" y="1004.5" width="36" height="12.4" fill="#cecee8"/>
<text x="860.8" y="1014.7" font-size="13.52" fill="#111">Tgf beta signaling</text>
<rect x="643.3" y="1016.8" width="36" height="12.4" fill="#e46d6d"/>
<rect x="679.2" y="1016.8" width="36" height="12.4" fill="#f9dddd"/>
<rect x="715.1" y="1016.8" width="36" height="12.4" fill="#9191ca"/>
<rect x="751.1" y="1016.8" width="36" height="12.4" fill="#dadaed"/>
<rect x="787" y="1016.8" width="36" height="12.4" fill="#eea5a5"/>
<rect x="822.9" y="1016.8" width="36" height="12.4" fill="#6060b3"/>
<text x="860.8" y="1027" font-size="13.52" fill="#111">Apical junction</text>
<rect x="643.3" y="1029.1" width="36" height="12.4" fill="#e46d6d"/>
<rect x="679.2" y="1029.1" width="36" height="12.4" fill="#f2bcbc"/>
<rect x="715.1" y="1029.1" width="36" height="12.4" fill="#c2c2e2"/>
<rect x="751.1" y="1029.1" width="36" height="12.4" fill="#b6b6dc"/>
<rect x="787" y="1029.1" width="36" height="12.4" fill="#f7d2d2"/>
<rect x="822.9" y="1029.1" width="36" height="12.4" fill="#6060b3"/>
<text x="860.8" y="1039.3" font-size="13.52" fill="#111">Apical surface</text>
<rect x="643.3" y="1041.4" width="36" height="12.4" fill="#f2bcbc"/>
<rect x="679.2" y="1041.4" width="36" height="12.4" fill="#f7d2d2"/>
<rect x="715.1" y="1041.4" width="36" height="12.4" fill="#a9a9d6"/>
<rect x="751.1" y="1041.4" width="36" height="12.4" fill="#f7d2d2"/>
<rect x="787" y="1041.4" width="36" height="12.4" fill="#161690"/>
<rect x="822.9" y="1041.4" width="36" height="12.4" fill="#f0b0b0"/>
<text x="860.8" y="1051.6" font-size="13.52" fill="#111">Interferon alpha response</text>
<rect x="643.3" y="1053.7" width="36" height="12.4" fill="#e05656"/>
<rect x="679.2" y="1053.7" width="36" height="12.4" fill="#f7d2d2"/>
<rect x="715.1" y="1053.7" width="36" height="12.4" fill="#b6b6dc"/>
<rect x="751.1" y="1053.7" width="36" height="12.4" fill="#f3f3f9"/>
<rect x="787" y="1053.7" width="36" height="12.4" fill="#4747a7"/>
<rect x="822.9" y="1053.7" width="36" height="12.4" fill="#fbe8e8"/>
<text x="860.8" y="1063.9" font-size="13.52" fill="#111">Interferon gamma response</text>
<rect x="643.3" y="1066" width="36" height="12.4" fill="#dadaed"/>
<rect x="679.2" y="1066" width="36" height="12.4" fill="#f4c7c7"/>
<rect x="715.1" y="1066" width="36" height="12.4" fill="#f9dddd"/>
<rect x="751.1" y="1066" width="36" height="12.4" fill="#e88383"/>
<rect x="787" y="1066" width="36" height="12.4" fill="#0a0a8a"/>
<rect x="822.9" y="1066" width="36" height="12.4" fill="#ffffff"/>
<text x="860.8" y="1076.2" font-size="13.52" fill="#111">Notch signaling</text>
<rect x="643.3" y="1078.3" width="36" height="12.4" fill="#f2bcbc"/>
<rect x="679.2" y="1078.3" width="36" height="12.4" fill="#f4c7c7"/>
<rect x="715.1" y="1078.3" width="36" height="12.4" fill="#8484c4"/>
<rect x="751.1" y="1078.3" width="36" height="12.4" fill="#e88383"/>
<rect x="787" y="1078.3" width="36" height="12.4" fill="#5454ad"/>
<rect x="822.9" y="1078.3" width="36" height="12.4" fill="#f3f3f9"/>
<text x="860.8" y="1088.5" font-size="13.52" fill="#111">Kras signaling dn</text>
<rect x="643.3" y="1090.6" width="36" height="12.4" fill="#f9dddd"/>
<rect x="679.2" y="1090.6" width="36" height="12.4" fill="#e88383"/>
<rect x="715.1" y="1090.6" width="36" height="12.4" fill="#c2c2e2"/>
<rect x="751.1" y="1090.6" width="36" height="12.4" fill="#ea8e8e"/>
<rect x="787" y="1090.6" width="36" height="12.4" fill="#4747a7"/>
<rect x="822.9" y="1090.6" width="36" height="12.4" fill="#b6b6dc"/>
<text x="860.8" y="1100.8" font-size="13.52" fill="#111">Xenobiotic metabolism</text>
<rect x="643.3" y="1102.9" width="36" height="12.4" fill="#cecee8"/>
<rect x="679.2" y="1102.9" width="36" height="12.4" fill="#e26262"/>
<rect x="715.1" y="1102.9" width="36" height="12.4" fill="#9d9dd0"/>
<rect x="751.1" y="1102.9" width="36" height="12.4" fill="#f0b0b0"/>
<rect x="787" y="1102.9" width="36" height="12.4" fill="#fbe8e8"/>
<rect x="822.9" y="1102.9" width="36" height="12.4" fill="#6060b3"/>
<text x="860.8" y="1113.1" font-size="13.52" fill="#c0272d">Epithelial mesenchymal transition</text>
<rect x="643.3" y="1115.2" width="36" height="12.4" fill="#f9dddd"/>
<rect x="679.2" y="1115.2" width="36" height="12.4" fill="#f2bcbc"/>
<rect x="715.1" y="1115.2" width="36" height="12.4" fill="#cecee8"/>
<rect x="751.1" y="1115.2" width="36" height="12.4" fill="#e88383"/>
<rect x="787" y="1115.2" width="36" height="12.4" fill="#f3f3f9"/>
<rect x="822.9" y="1115.2" width="36" height="12.4" fill="#161690"/>
<text x="860.8" y="1125.4" font-size="13.52" fill="#111">Myogenesis</text>
<rect x="643.3" y="1127.5" width="36" height="12.4" fill="#fbe8e8"/>
<rect x="679.2" y="1127.5" width="36" height="12.4" fill="#d72929"/>
<rect x="715.1" y="1127.5" width="36" height="12.4" fill="#c2c2e2"/>
<rect x="751.1" y="1127.5" width="36" height="12.4" fill="#f3f3f9"/>
<rect x="787" y="1127.5" width="36" height="12.4" fill="#c2c2e2"/>
<rect x="822.9" y="1127.5" width="36" height="12.4" fill="#6c6cb9"/>
<text x="860.8" y="1137.7" font-size="13.52" fill="#c0272d">Hypoxia</text>
<rect x="643.3" y="1139.8" width="36" height="12.4" fill="#e88383"/>
<rect x="679.2" y="1139.8" width="36" height="12.4" fill="#e46d6d"/>
<rect x="715.1" y="1139.8" width="36" height="12.4" fill="#f3f3f9"/>
<rect x="751.1" y="1139.8" width="36" height="12.4" fill="#cecee8"/>
<rect x="787" y="1139.8" width="36" height="12.4" fill="#b6b6dc"/>
<rect x="822.9" y="1139.8" width="36" height="12.4" fill="#5454ad"/>
<text x="860.8" y="1150" font-size="13.52" fill="#111">Reactive oxygen species pathway</text>
<rect x="643.3" y="1152.1" width="36" height="12.4" fill="#e67878"/>
<rect x="679.2" y="1152.1" width="36" height="12.4" fill="#e67878"/>
<rect x="715.1" y="1152.1" width="36" height="12.4" fill="#a9a9d6"/>
<rect x="751.1" y="1152.1" width="36" height="12.4" fill="#b6b6dc"/>
<rect x="787" y="1152.1" width="36" height="12.4" fill="#dadaed"/>
<rect x="822.9" y="1152.1" width="36" height="12.4" fill="#8484c4"/>
<text x="860.8" y="1162.3" font-size="13.52" fill="#111">Inflammatory response</text>
<rect x="643.3" y="1164.4" width="36" height="12.4" fill="#e46d6d"/>
<rect x="679.2" y="1164.4" width="36" height="12.4" fill="#ea8e8e"/>
<rect x="715.1" y="1164.4" width="36" height="12.4" fill="#c2c2e2"/>
<rect x="751.1" y="1164.4" width="36" height="12.4" fill="#e6e6f3"/>
<rect x="787" y="1164.4" width="36" height="12.4" fill="#9d9dd0"/>
<rect x="822.9" y="1164.4" width="36" height="12.4" fill="#8484c4"/>
<text x="860.8" y="1174.6" font-size="13.52" fill="#111">Tnfa signaling via nfkb</text>
<rect x="643.3" y="1176.7" width="36" height="12.4" fill="#e67878"/>
<rect x="679.2" y="1176.7" width="36" height="12.4" fill="#f2bcbc"/>
<rect x="715.1" y="1176.7" width="36" height="12.4" fill="#ffffff"/>
<rect x="751.1" y="1176.7" width="36" height="12.4" fill="#f4c7c7"/>
<rect x="787" y="1176.7" width="36" height="12.4" fill="#8484c4"/>
<rect x="822.9" y="1176.7" width="36" height="12.4" fill="#4747a7"/>
<text x="860.8" y="1186.9" font-size="13.52" fill="#111">P53 pathway</text>
<rect x="643.3" y="1189" width="36" height="12.4" fill="#e88383"/>
<rect x="679.2" y="1189" width="36" height="12.4" fill="#f2bcbc"/>
<rect x="715.1" y="1189" width="36" height="12.4" fill="#f7d2d2"/>
<rect x="751.1" y="1189" width="36" height="12.4" fill="#ffffff"/>
<rect x="787" y="1189" width="36" height="12.4" fill="#9191ca"/>
<rect x="822.9" y="1189" width="36" height="12.4" fill="#2f2f9c"/>
<text x="860.8" y="1199.2" font-size="13.52" fill="#111">Uv response up</text>
<rect x="643.3" y="1201.3" width="36" height="12.4" fill="#e67878"/>
<rect x="679.2" y="1201.3" width="36" height="12.4" fill="#f0b0b0"/>
<rect x="715.1" y="1201.3" width="36" height="12.4" fill="#fbe8e8"/>
<rect x="751.1" y="1201.3" width="36" height="12.4" fill="#fbe8e8"/>
<rect x="787" y="1201.3" width="36" height="12.4" fill="#7878bf"/>
<rect x="822.9" y="1201.3" width="36" height="12.4" fill="#4747a7"/>
<text x="860.8" y="1211.5" font-size="13.52" fill="#111">Cholesterol homeostasis</text>
<rect x="643.3" y="1213.6" width="36" height="12.4" fill="#ea8e8e"/>
<rect x="679.2" y="1213.6" width="36" height="12.4" fill="#ea8e8e"/>
<rect x="715.1" y="1213.6" width="36" height="12.4" fill="#ffffff"/>
<rect x="751.1" y="1213.6" width="36" height="12.4" fill="#fbe8e8"/>
<rect x="787" y="1213.6" width="36" height="12.4" fill="#8484c4"/>
<rect x="822.9" y="1213.6" width="36" height="12.4" fill="#5454ad"/>
<text x="860.8" y="1223.8" font-size="13.52" fill="#111">IL2 stat5 signaling</text>
<rect x="643.3" y="1225.9" width="36" height="12.4" fill="#e67878"/>
<rect x="679.2" y="1225.9" width="36" height="12.4" fill="#eea5a5"/>
<rect x="715.1" y="1225.9" width="36" height="12.4" fill="#9191ca"/>
<rect x="751.1" y="1225.9" width="36" height="12.4" fill="#f7d2d2"/>
<rect x="787" y="1225.9" width="36" height="12.4" fill="#6c6cb9"/>
<rect x="822.9" y="1225.9" width="36" height="12.4" fill="#b6b6dc"/>
<text x="860.8" y="1236.1" font-size="13.52" fill="#111">Kras signaling up</text>
<rect x="643.3" y="1238.2" width="36" height="12.4" fill="#dd4b4b"/>
<rect x="679.2" y="1238.2" width="36" height="12.4" fill="#f9dddd"/>
<rect x="715.1" y="1238.2" width="36" height="12.4" fill="#9191ca"/>
<rect x="751.1" y="1238.2" width="36" height="12.4" fill="#fbe8e8"/>
<rect x="787" y="1238.2" width="36" height="12.4" fill="#c2c2e2"/>
<rect x="822.9" y="1238.2" width="36" height="12.4" fill="#9191ca"/>
<text x="860.8" y="1248.4" font-size="13.52" fill="#111">Pancreas beta cells</text>
<rect x="643.3" y="1250.5" width="36" height="12.4" fill="#b6b6dc"/>
<rect x="679.2" y="1250.5" width="36" height="12.4" fill="#8484c4"/>
<rect x="715.1" y="1250.5" width="36" height="12.4" fill="#db4040"/>
<rect x="751.1" y="1250.5" width="36" height="12.4" fill="#f3f3f9"/>
<rect x="787" y="1250.5" width="36" height="12.4" fill="#c2c2e2"/>
<rect x="822.9" y="1250.5" width="36" height="12.4" fill="#f4c7c7"/>
<text x="860.8" y="1260.7" font-size="13.52" fill="#111">Spermatogenesis</text>
<rect x="643.3" y="1262.8" width="36" height="12.4" fill="#ffffff"/>
<rect x="679.2" y="1262.8" width="36" height="12.4" fill="#dadaed"/>
<rect x="715.1" y="1262.8" width="36" height="12.4" fill="#d72929"/>
<rect x="751.1" y="1262.8" width="36" height="12.4" fill="#9d9dd0"/>
<rect x="787" y="1262.8" width="36" height="12.4" fill="#c2c2e2"/>
<rect x="822.9" y="1262.8" width="36" height="12.4" fill="#dadaed"/>
<text x="860.8" y="1273" font-size="13.52" fill="#111">E2f targets</text>
<rect x="643.3" y="1275.1" width="36" height="12.4" fill="#f7d2d2"/>
<rect x="679.2" y="1275.1" width="36" height="12.4" fill="#b6b6dc"/>
<rect x="715.1" y="1275.1" width="36" height="12.4" fill="#db4040"/>
<rect x="751.1" y="1275.1" width="36" height="12.4" fill="#7878bf"/>
<rect x="787" y="1275.1" width="36" height="12.4" fill="#ffffff"/>
<rect x="822.9" y="1275.1" width="36" height="12.4" fill="#cecee8"/>
<text x="860.8" y="1285.3" font-size="13.52" fill="#111">G2m checkpoint</text>
<rect x="643.3" y="1287.4" width="36" height="12.4" fill="#f7d2d2"/>
<rect x="679.2" y="1287.4" width="36" height="12.4" fill="#ec9a9a"/>
<rect x="715.1" y="1287.4" width="36" height="12.4" fill="#ec9a9a"/>
<rect x="751.1" y="1287.4" width="36" height="12.4" fill="#9d9dd0"/>
<rect x="787" y="1287.4" width="36" height="12.4" fill="#c2c2e2"/>
<rect x="822.9" y="1287.4" width="36" height="12.4" fill="#6060b3"/>
<text x="860.8" y="1297.6" font-size="13.52" fill="#111">Mtorc1 signaling</text>
<rect x="643.3" y="1299.7" width="36" height="12.4" fill="#f7d2d2"/>
<rect x="679.2" y="1299.7" width="36" height="12.4" fill="#e88383"/>
<rect x="715.1" y="1299.7" width="36" height="12.4" fill="#f0b0b0"/>
<rect x="751.1" y="1299.7" width="36" height="12.4" fill="#9d9dd0"/>
<rect x="787" y="1299.7" width="36" height="12.4" fill="#9d9dd0"/>
<rect x="822.9" y="1299.7" width="36" height="12.4" fill="#8484c4"/>
<text x="860.8" y="1309.9" font-size="13.52" fill="#111">Unfolded protein response</text>
<rect x="643.3" y="1312" width="36" height="12.4" fill="#fbe8e8"/>
<rect x="679.2" y="1312" width="36" height="12.4" fill="#f0b0b0"/>
<rect x="715.1" y="1312" width="36" height="12.4" fill="#e88383"/>
<rect x="751.1" y="1312" width="36" height="12.4" fill="#f3f3f9"/>
<rect x="787" y="1312" width="36" height="12.4" fill="#3b3ba1"/>
<rect x="822.9" y="1312" width="36" height="12.4" fill="#a9a9d6"/>
<text x="860.8" y="1322.2" font-size="13.52" fill="#111">Myc targets v2</text>
<rect x="643.3" y="1324.3" width="36" height="12.4" fill="#ffffff"/>
<rect x="679.2" y="1324.3" width="36" height="12.4" fill="#f7d2d2"/>
<rect x="715.1" y="1324.3" width="36" height="12.4" fill="#e05656"/>
<rect x="751.1" y="1324.3" width="36" height="12.4" fill="#c2c2e2"/>
<rect x="787" y="1324.3" width="36" height="12.4" fill="#9191ca"/>
<rect x="822.9" y="1324.3" width="36" height="12.4" fill="#a9a9d6"/>
<text x="860.8" y="1334.5" font-size="13.52" fill="#111">Dna repair</text>
<rect x="643.3" y="1336.6" width="36" height="12.4" fill="#f9dddd"/>
<rect x="679.2" y="1336.6" width="36" height="12.4" fill="#f2bcbc"/>
<rect x="715.1" y="1336.6" width="36" height="12.4" fill="#e26262"/>
<rect x="751.1" y="1336.6" width="36" height="12.4" fill="#9d9dd0"/>
<rect x="787" y="1336.6" width="36" height="12.4" fill="#a9a9d6"/>
<rect x="822.9" y="1336.6" width="36" height="12.4" fill="#8484c4"/>
<text x="860.8" y="1346.8" font-size="13.52" fill="#111">Myc targets v1</text>
<rect x="643.3" y="1348.9" width="36" height="12.4" fill="#a9a9d6"/>
<rect x="679.2" y="1348.9" width="36" height="12.4" fill="#dd4b4b"/>
<rect x="715.1" y="1348.9" width="36" height="12.4" fill="#f4c7c7"/>
<rect x="751.1" y="1348.9" width="36" height="12.4" fill="#ffffff"/>
<rect x="787" y="1348.9" width="36" height="12.4" fill="#9d9dd0"/>
<rect x="822.9" y="1348.9" width="36" height="12.4" fill="#b6b6dc"/>
<text x="860.8" y="1359.1" font-size="13.52" fill="#c0272d">Glycolysis</text>
<rect x="643.3" y="1361.2" width="36" height="12.4" fill="#7878bf"/>
<rect x="679.2" y="1361.2" width="36" height="12.4" fill="#f2bcbc"/>
<rect x="715.1" y="1361.2" width="36" height="12.4" fill="#e05656"/>
<rect x="751.1" y="1361.2" width="36" height="12.4" fill="#c2c2e2"/>
<rect x="787" y="1361.2" width="36" height="12.4" fill="#dadaed"/>
<rect x="822.9" y="1361.2" width="36" height="12.4" fill="#c2c2e2"/>
<text x="860.8" y="1371.4" font-size="13.52" fill="#111">Adipogenesis</text>
<rect x="643.3" y="1373.5" width="36" height="12.4" fill="#9191ca"/>
<rect x="679.2" y="1373.5" width="36" height="12.4" fill="#f7d2d2"/>
<rect x="715.1" y="1373.5" width="36" height="12.4" fill="#e05656"/>
<rect x="751.1" y="1373.5" width="36" height="12.4" fill="#f9dddd"/>
<rect x="787" y="1373.5" width="36" height="12.4" fill="#b6b6dc"/>
<rect x="822.9" y="1373.5" width="36" height="12.4" fill="#8484c4"/>
<text x="860.8" y="1383.7" font-size="13.52" fill="#111">Fatty acid metabolism</text>
<rect x="643.3" y="1385.8" width="36" height="12.4" fill="#dadaed"/>
<rect x="679.2" y="1385.8" width="36" height="12.4" fill="#f4c7c7"/>
<rect x="715.1" y="1385.8" width="36" height="12.4" fill="#e05656"/>
<rect x="751.1" y="1385.8" width="36" height="12.4" fill="#ffffff"/>
<rect x="787" y="1385.8" width="36" height="12.4" fill="#8484c4"/>
<rect x="822.9" y="1385.8" width="36" height="12.4" fill="#7878bf"/>
<text x="860.8" y="1396" font-size="13.52" fill="#111">Oxidative phosphorylation</text>
<rect x="643.3" y="1398.1" width="36" height="12.4" fill="#e05656"/>
<rect x="679.2" y="1398.1" width="36" height="12.4" fill="#b6b6dc"/>
<rect x="715.1" y="1398.1" width="36" height="12.4" fill="#f0b0b0"/>
<rect x="751.1" y="1398.1" width="36" height="12.4" fill="#fdf4f4"/>
<rect x="787" y="1398.1" width="36" height="12.4" fill="#8484c4"/>
<rect x="822.9" y="1398.1" width="36" height="12.4" fill="#8484c4"/>
<text x="860.8" y="1408.3" font-size="13.52" fill="#111">Allograft rejection</text>
<rect x="643.3" y="1410.4" width="36" height="12.4" fill="#dd4b4b"/>
<rect x="679.2" y="1410.4" width="36" height="12.4" fill="#ffffff"/>
<rect x="715.1" y="1410.4" width="36" height="12.4" fill="#fbe8e8"/>
<rect x="751.1" y="1410.4" width="36" height="12.4" fill="#fbe8e8"/>
<rect x="787" y="1410.4" width="36" height="12.4" fill="#8484c4"/>
<rect x="822.9" y="1410.4" width="36" height="12.4" fill="#6c6cb9"/>
<text x="860.8" y="1420.6" font-size="13.52" fill="#111">Apoptosis</text>
<rect x="643.3" y="1422.7" width="36" height="12.4" fill="#d72929"/>
<rect x="679.2" y="1422.7" width="36" height="12.4" fill="#ffffff"/>
<rect x="715.1" y="1422.7" width="36" height="12.4" fill="#dadaed"/>
<rect x="751.1" y="1422.7" width="36" height="12.4" fill="#a9a9d6"/>
<rect x="787" y="1422.7" width="36" height="12.4" fill="#dadaed"/>
<rect x="822.9" y="1422.7" width="36" height="12.4" fill="#b6b6dc"/>
<text x="860.8" y="1432.9" font-size="13.52" fill="#111">Estrogen response early</text>
<rect x="643.3" y="1435" width="36" height="12.4" fill="#e05656"/>
<rect x="679.2" y="1435" width="36" height="12.4" fill="#fbe8e8"/>
<rect x="715.1" y="1435" width="36" height="12.4" fill="#f7d2d2"/>
<rect x="751.1" y="1435" width="36" height="12.4" fill="#6060b3"/>
<rect x="787" y="1435" width="36" height="12.4" fill="#9191ca"/>
<rect x="822.9" y="1435" width="36" height="12.4" fill="#e6e6f3"/>
<text x="860.8" y="1445.2" font-size="13.52" fill="#111">Estrogen response late</text>
<rect x="643.3" y="1447.3" width="36" height="12.4" fill="#f7d2d2"/>
<rect x="679.2" y="1447.3" width="36" height="12.4" fill="#ec9a9a"/>
<rect x="715.1" y="1447.3" width="36" height="12.4" fill="#ffffff"/>
<rect x="751.1" y="1447.3" width="36" height="12.4" fill="#161690"/>
<rect x="787" y="1447.3" width="36" height="12.4" fill="#a9a9d6"/>
<rect x="822.9" y="1447.3" width="36" height="12.4" fill="#f4c7c7"/>
<text x="860.8" y="1457.5" font-size="13.52" fill="#111">Androgen response</text>
<rect x="643.3" y="1459.6" width="36" height="12.4" fill="#fbe8e8"/>
<rect x="679.2" y="1459.6" width="36" height="12.4" fill="#8484c4"/>
<rect x="715.1" y="1459.6" width="36" height="12.4" fill="#e46d6d"/>
<rect x="751.1" y="1459.6" width="36" height="12.4" fill="#5454ad"/>
<rect x="787" y="1459.6" width="36" height="12.4" fill="#f2bcbc"/>
<rect x="822.9" y="1459.6" width="36" height="12.4" fill="#dadaed"/>
<text x="860.8" y="1469.8" font-size="13.52" fill="#111">Mitotic spindle</text>
<rect x="643.3" y="1471.9" width="36" height="12.4" fill="#f7d2d2"/>
<rect x="679.2" y="1471.9" width="36" height="12.4" fill="#e6e6f3"/>
<rect x="715.1" y="1471.9" width="36" height="12.4" fill="#f4c7c7"/>
<rect x="751.1" y="1471.9" width="36" height="12.4" fill="#3b3ba1"/>
<rect x="787" y="1471.9" width="36" height="12.4" fill="#e67878"/>
<rect x="822.9" y="1471.9" width="36" height="12.4" fill="#9d9dd0"/>
<text x="860.8" y="1482.1" font-size="13.52" fill="#111">Pi3k akt mtor signaling</text>
<path d="M643.3 869.2V1484.2M679.2 869.2V1484.2M715.1 869.2V1484.2M751.1 869.2V1484.2M787 869.2V1484.2M822.9 869.2V1484.2M858.8 869.2V1484.2M643.3 869.2H858.8M643.3 881.5H858.8M643.3 893.8H858.8M643.3 906.1H858.8M643.3 918.4H858.8M643.3 930.7H858.8M643.3 943H858.8M643.3 955.3H858.8M643.3 967.6H858.8M643.3 979.9H858.8M643.3 992.2H858.8M643.3 1004.5H858.8M643.3 1016.8H858.8M643.3 1029.1H858.8M643.3 1041.4H858.8M643.3 1053.7H858.8M643.3 1066H858.8M643.3 1078.3H858.8M643.3 1090.6H858.8M643.3 1102.9H858.8M643.3 1115.2H858.8M643.3 1127.5H858.8M643.3 1139.8H858.8M643.3 1152.1H858.8M643.3 1164.4H858.8M643.3 1176.7H858.8M643.3 1189H858.8M643.3 1201.3H858.8M643.3 1213.6H858.8M643.3 1225.9H858.8M643.3 1238.2H858.8M643.3 1250.5H858.8M643.3 1262.8H858.8M643.3 1275.1H858.8M643.3 1287.4H858.8M643.3 1299.7H858.8M643.3 1312H858.8M643.3 1324.3H858.8M643.3 1336.6H858.8M643.3 1348.9H858.8M643.3 1361.2H858.8M643.3 1373.5H858.8M643.3 1385.8H858.8M643.3 1398.1H858.8M643.3 1410.4H858.8M643.3 1422.7H858.8M643.3 1435H858.8M643.3 1447.3H858.8M643.3 1459.6H858.8M643.3 1471.9H858.8M643.3 1484.2H858.8" stroke="#9a9a9a" stroke-width="0.5" fill="none" opacity="0.8"/>
<text x="670.6" y="1494.5" font-size="13.8" fill="#111" text-anchor="end" transform="rotate(-45 670.6 1494.5)">Macro-FCN1</text>
<text x="706.5" y="1494.5" font-size="13.8" fill="#111" text-anchor="end" transform="rotate(-45 706.5 1494.5)">Macro-SPP1</text>
<text x="742.4" y="1494.5" font-size="13.8" fill="#111" text-anchor="end" transform="rotate(-45 742.4 1494.5)">Macro-MKI67</text>
<text x="778.3" y="1494.5" font-size="13.8" fill="#111" text-anchor="end" transform="rotate(-45 778.3 1494.5)">Macro-C1QC</text>
<text x="814.2" y="1494.5" font-size="13.8" fill="#111" text-anchor="end" transform="rotate(-45 814.2 1494.5)">Monocytes</text>
<text x="850.2" y="1494.5" font-size="13.8" fill="#111" text-anchor="end" transform="rotate(-45 850.2 1494.5)">Kupffer cells</text>
<linearGradient id="zg" x1="0" y1="0" x2="0" y2="1"><stop offset="0" stop-color="#d51e1e"/><stop offset="0.5" stop-color="#ffffff"/><stop offset="1" stop-color="#0a0a8a"/></linearGradient>
<rect x="1083.6" y="869" width="7.6" height="166" fill="url(#zg)"/>
<text x="1096.2" y="914.7" font-size="12.4" fill="#222">1</text>
<text x="1096.2" y="956.2" font-size="12.4" fill="#222">0</text>
<text x="1096.2" y="997.7" font-size="12.4" fill="#222">−1</text>
<text x="1063.8" y="860" font-size="13.0" fill="#222">Z-score</text>
<path d="M643.3 887.7L631.9 887.7M643.3 900L631.9 900M631.9 887.7L631.9 900M643.3 875.4L622.6 875.4M631.9 893.8L622.6 893.8M622.6 875.4L622.6 893.8M643.3 912.2L632.9 912.2M643.3 924.6L632.9 924.6M632.9 912.2L632.9 924.6M643.3 936.9L638.1 936.9M643.3 949.2L638.1 949.2M638.1 936.9L638.1 949.2M643.3 961.5L635 961.5M643.3 973.8L635 973.8M635 961.5L635 973.8M638.1 943L632.9 943M635 967.6L632.9 967.6M632.9 943L632.9 967.6M632.9 918.4L626.7 918.4M632.9 955.3L626.7 955.3M626.7 918.4L626.7 955.3M643.3 1023L638.1 1023M643.3 1035.2L638.1 1035.2M638.1 1023L638.1 1035.2M643.3 1010.7L634 1010.7M638.1 1029.1L634 1029.1M634 1010.7L634 1029.1M643.3 998.4L628.2 998.4M634 1019.9L628.2 1019.9M628.2 998.4L628.2 1019.9M643.3 986.1L626.2 986.1M628.2 1009.1L626.2 1009.1M626.2 986.1L626.2 1009.1M626.7 936.9L620 936.9M626.2 997.6L620 997.6M620 936.9L620 997.6M622.6 884.6L613.4 884.6M620 967.2L613.4 967.2M613.4 884.6L613.4 967.2M643.3 1047.6L635 1047.6M643.3 1059.9L635 1059.9M635 1047.6L635 1059.9M643.3 1084.5L637 1084.5M643.3 1096.8L637 1096.8M637 1084.5L637 1096.8M643.3 1072.2L630.9 1072.2M637 1090.6L630.9 1090.6M630.9 1072.2L630.9 1090.6M635 1053.7L626.3 1053.7M630.9 1081.4L626.3 1081.4M626.3 1053.7L626.3 1081.4M643.3 1109.1L634 1109.1M643.3 1121.4L634 1121.4M634 1109.1L634 1121.4M643.3 1158.2L639 1158.2M643.3 1170.6L639 1170.6M639 1158.2L639 1170.6M643.3 1146L636.5 1146M639 1164.4L636.5 1164.4M636.5 1146L636.5 1164.4M643.3 1133.7L632.5 1133.7M636.5 1155.2L632.5 1155.2M632.5 1133.7L632.5 1155.2M643.3 1182.9L639 1182.9M643.3 1195.2L639 1195.2M639 1182.9L639 1195.2M643.3 1207.5L640 1207.5M643.3 1219.8L640 1219.8M640 1207.5L640 1219.8M639 1189L636.5 1189M640 1213.6L636.5 1213.6M636.5 1189L636.5 1213.6M643.3 1232.1L636 1232.1M643.3 1244.4L636 1244.4M636 1232.1L636 1244.4M636.5 1201.3L631 1201.3M636 1238.2L631 1238.2M631 1201.3L631 1238.2M632.5 1144.4L628.5 1144.4M631 1219.8L628.5 1219.8M628.5 1144.4L628.5 1219.8M634 1115.2L626 1115.2M628.5 1182.1L626 1182.1M626 1115.2L626 1182.1M626.3 1067.5L620.6 1067.5M626 1148.6L620.6 1148.6M620.6 1067.5L620.6 1148.6M643.3 1269L638 1269M643.3 1281.2L638 1281.2M638 1269L638 1281.2M643.3 1256.7L630.5 1256.7M638 1275.1L630.5 1275.1M630.5 1256.7L630.5 1275.1M643.3 1293.6L639 1293.6M643.3 1305.9L639 1305.9M639 1293.6L639 1305.9M643.3 1330.5L637.8 1330.5M643.3 1342.8L637.8 1342.8M637.8 1330.5L637.8 1342.8M643.3 1318.2L634.5 1318.2M637.8 1336.6L634.5 1336.6M634.5 1318.2L634.5 1336.6M639 1299.7L633 1299.7M634.5 1327.4L633 1327.4M633 1299.7L633 1327.4M643.3 1379.7L638.7 1379.7M643.3 1392L638.7 1392M638.7 1379.7L638.7 1392M643.3 1367.4L635.4 1367.4M638.7 1385.8L635.4 1385.8M635.4 1367.4L635.4 1385.8M643.3 1355.1L631.9 1355.1M635.4 1376.6L631.9 1376.6M631.9 1355.1L631.9 1376.6M633 1313.5L628.4 1313.5M631.9 1365.8L628.4 1365.8M628.4 1313.5L628.4 1365.8M630.5 1265.9L621 1265.9M628.4 1339.7L621 1339.7M621 1265.9L621 1339.7M643.3 1404.2L637.7 1404.2M643.3 1416.6L637.7 1416.6M637.7 1404.2L637.7 1416.6M643.3 1428.8L634 1428.8M643.3 1441.2L634 1441.2M634 1428.8L634 1441.2M637.7 1410.4L630.9 1410.4M634 1435L630.9 1435M630.9 1410.4L630.9 1435M643.3 1465.8L632.9 1465.8M643.3 1478.1L632.9 1478.1M632.9 1465.8L632.9 1478.1M643.3 1453.5L621.8 1453.5M632.9 1471.9L621.8 1471.9M621.8 1453.5L621.8 1471.9M630.9 1422.7L621.2 1422.7M621.8 1462.7L621.2 1462.7M621.2 1422.7L621.2 1462.7M621 1302.8L616.5 1302.8M621.2 1442.7L616.5 1442.7M616.5 1302.8L616.5 1442.7M620.6 1108.1L613.4 1108.1M616.5 1372.7L613.4 1372.7M613.4 1108.1L613.4 1372.7M613.4 925.9L610.8 925.9M613.4 1240.4L610.8 1240.4M610.8 925.9L610.8 1240.4" stroke="#111" stroke-width="1.6" fill="none" stroke-linecap="square"/>
<line x1="564.1" y1="1.8" x2="564.1" y2="785.5" stroke="#111" stroke-width="2.1" stroke-dasharray="2.6 2.5"/>
<line x1="564.1" y1="854.6" x2="564.1" y2="1553" stroke="#111" stroke-width="2.1" stroke-dasharray="2.6 2.5"/>
<line x1="4" y1="819.5" x2="531" y2="819.5" stroke="#111" stroke-width="2.3" stroke-dasharray="2.7 2.45"/>
<line x1="599.6" y1="819.5" x2="1126" y2="819.5" stroke="#111" stroke-width="2.3" stroke-dasharray="2.7 2.45"/>
<circle cx="565" cy="819.6" r="34.2" fill="#fff" stroke="#111" stroke-width="2"/>
<text x="551.4" y="814.3" font-size="17" fill="#111" text-anchor="middle" font-weight="bold">1</text>
<text x="576.3" y="814.3" font-size="17" fill="#111" text-anchor="middle" font-weight="bold">2</text>
<text x="551.4" y="838.3" font-size="17" fill="#111" text-anchor="middle" font-weight="bold">3</text>
<text x="576.3" y="838.3" font-size="17" fill="#111" text-anchor="middle" font-weight="bold">4</text>
<text x="449.6" y="812" font-size="13.6" font-weight="bold"><tspan fill="#2f6b9e">NC</tspan><tspan fill="#111"> vs </tspan><tspan fill="#b32424">CRC</tspan></text>
<text x="605.3" y="812" font-size="13.6" font-weight="bold"><tspan fill="#2f6b9e">CRC</tspan><tspan fill="#111"> vs </tspan><tspan fill="#b32424">LM</tspan></text>
<text x="449.6" y="838.2" font-size="13.6" fill="#111" font-weight="bold">Pseudotime</text>
<text x="605.3" y="838.2" font-size="13.6" fill="#111" font-weight="bold">GSVA</text>
<text x="10.3" y="1544.6" font-size="15.8" fill="#a223d6">ylzx.net</text>
</svg>
</body></html>
